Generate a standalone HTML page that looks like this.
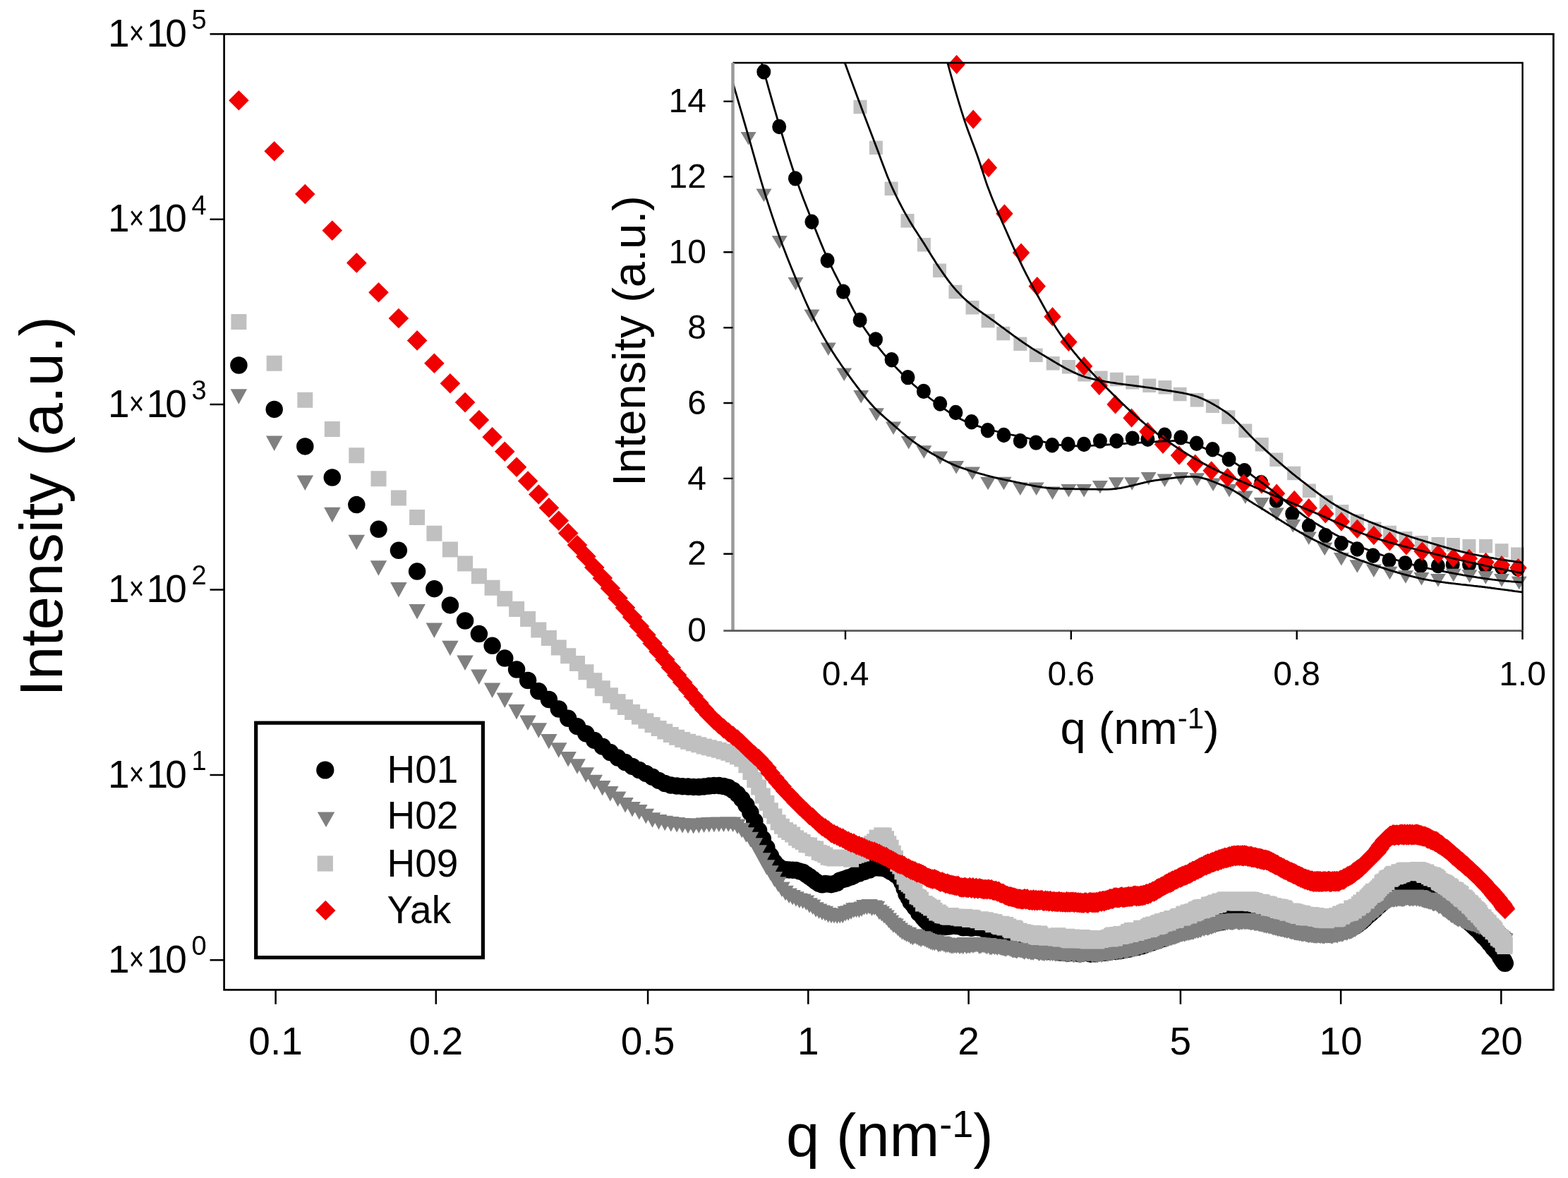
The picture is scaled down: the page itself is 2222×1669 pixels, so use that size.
<!DOCTYPE html><html><head><meta charset="utf-8"><style>html,body{margin:0;padding:0;background:#fff;}svg{display:block}</style></head><body><svg width="2222" height="1669" viewBox="0 0 2222 1669">
<rect width="2222" height="1669" fill="#fff"/>
<defs><clipPath id="cm"><rect x="317.6" y="48.3" width="1883.8000000000002" height="1354.1000000000001"/></clipPath><clipPath id="ci"><rect x="1038.5" y="89" width="1119" height="805"/></clipPath></defs>
<g clip-path="url(#cm)">
<path d="M338.4 517.5h0M388.7 579.9h0M432.3 632.4h0M470.8 676.5h0M505.3 715.1h0M536.5 749.8h0M564.9 779.8h0M591.1 809.6h0M615.4 834.2h0M637.9 857.4h0M659.1 879.5h0M678.9 898.1h0M697.6 914.8h0M715.3 932.6h0M732.1 948.5h0M748.1 964h0M763.3 979.3h0M777.9 991h0M791.8 1004.5h0M805.2 1017.8h0M818 1029.2h0M830.4 1039.4h0M842.3 1048.9h0M853.8 1057.7h0M864.9 1066.1h0M875.6 1073.6h0M886 1080.1h0M896.1 1085.9h0M905.9 1091.1h0M915.4 1095.9h0M924.6 1100.8h0M933.6 1105.9h0M942.3 1110.1h0M950.8 1112.6h0M959.1 1113.5h0M967.2 1114.2h0M975.1 1114.6h0M982.8 1114.9h0M990.3 1115h0M997.7 1114.4h0M1004.9 1113.5h0M1011.9 1112.9h0M1018.8 1113h0M1025.6 1114h0M1032.2 1115.8h0M1038.7 1119.7h0M1045.1 1125.1h0M1051.3 1132.2h0M1057.4 1140.7h0M1063.4 1151.3h0M1069.3 1163.5h0M1075.1 1176.6h0M1080.8 1188.4h0M1086.4 1200.9h0M1091.9 1212.3h0M1097.4 1221.6h0M1102.7 1227.5h0M1107.9 1230.7h0M1113.1 1232.1h0M1118.2 1232.4h0M1123.2 1232.7h0M1128.1 1232.9h0M1133 1234.4h0M1137.7 1235.7h0M1142.4 1238.9h0M1147.1 1242h0M1151.7 1245.4h0M1156.2 1248.9h0M1160.7 1251.9h0M1165.1 1253.3h0M1169.4 1251.9h0M1173.7 1252.5h0M1177.9 1253.2h0M1182.1 1252.1h0M1186.2 1250.8h0M1190.3 1247.4h0M1194.3 1246.2h0M1198.3 1245h0M1202.2 1243.5h0M1206.1 1242.4h0M1209.9 1240.5h0M1213.7 1238.1h0M1217.4 1237.6h0M1221.1 1234.9h0M1224.8 1234.9h0M1228.4 1231.9h0M1232 1232.6h0M1235.5 1230h0M1239.1 1229.5h0M1242.5 1228.7h0M1246 1229.5h0M1249.3 1228.8h0M1252.7 1230.4h0M1256 1230.9h0M1259.3 1233.1h0M1262.6 1235.1h0M1265.8 1235.8h0M1269 1239h0M1272.2 1240.6h0M1275.3 1244.6h0M1278.4 1250.4h0M1281.5 1258.7h0M1284.5 1266.9h0M1287.6 1272.1h0M1290.6 1277.9h0M1293.5 1281.1h0M1296.5 1285.5h0M1299.4 1288h0M1302.3 1293.9h0M1305.1 1295.6h0M1308 1300.1h0M1310.8 1303.3h0M1313.6 1305.9h0M1316.3 1308.8h0M1319.1 1309.9h0M1321.8 1309.2h0M1324.5 1310.8h0M1327.2 1311.5h0M1329.8 1312.5h0M1332.5 1312h0M1335.1 1312.5h0M1337.7 1313.3h0M1340.2 1313.1h0M1342.8 1312.1h0M1345.3 1312.4h0M1347.8 1312.2h0M1350.3 1311.4h0M1352.8 1311.7h0M1355.2 1312h0M1357.7 1312.2h0M1360.1 1312.2h0M1362.5 1313.1h0M1364.9 1314.3h0M1367.2 1313.8h0M1369.6 1314h0M1371.9 1314h0M1374.2 1313.7h0M1376.5 1314.8h0M1378.8 1314.3h0M1381.1 1313.9h0M1383.3 1312.8h0M1385.6 1314.2h0M1387.8 1313.6h0M1390 1313.6h0M1392.2 1315h0M1394.4 1316.1h0M1396.5 1314.9h0M1398.7 1316.6h0M1400.8 1316.2h0M1403 1315.5h0M1405.1 1318.6h0M1407.2 1317.7h0M1409.2 1318.2h0M1411.3 1320.9h0M1413.4 1319.7h0M1415.4 1322.7h0M1417.4 1322.3h0M1419.4 1324.1h0M1421.5 1324.9h0M1423.4 1328h0M1425.4 1327.9h0M1427.4 1331h0M1429.3 1331.2h0M1431.3 1332.6h0M1433.2 1333.3h0M1435.1 1333.8h0M1437.1 1335.1h0M1439 1337.8h0M1440.8 1336.5h0M1442.7 1339.7h0M1444.6 1339.7h0M1446.5 1339.1h0M1448.3 1340.5h0M1450.1 1340.2h0M1452 1340.6h0M1453.8 1341.5h0M1455.6 1340.4h0M1457.4 1342.3h0M1459.2 1344.1h0M1460.9 1342.5h0M1462.7 1344.2h0M1464.5 1343.7h0M1466.2 1343.3h0M1468 1345.8h0M1469.7 1343.4h0M1471.4 1344.6h0M1473.1 1347h0M1474.8 1345.1h0M1476.5 1347.1h0M1478.2 1346.6h0M1479.9 1347.5h0M1481.5 1347.2h0M1483.2 1346.6h0M1484.8 1348h0M1486.5 1345.9h0M1488.1 1347.4h0M1489.8 1347.3h0M1491.4 1347.7h0M1493 1346.8h0M1494.6 1347.2h0M1496.2 1348.3h0M1497.8 1347.9h0M1499.3 1349.2h0M1500.9 1348.7h0M1502.5 1349.6h0M1504 1349.3h0M1505.6 1349h0M1507.1 1348.1h0M1508.7 1349.7h0M1510.2 1348.2h0M1511.7 1347.7h0M1513.2 1350.5h0M1514.7 1349.3h0M1516.2 1350h0M1517.7 1349.4h0M1519.2 1349.7h0M1520.7 1348h0M1522.2 1348.5h0M1523.6 1350h0M1525.1 1349.8h0M1526.5 1348.6h0M1528 1351h0M1529.4 1348.7h0M1530.9 1349.8h0M1532.3 1348.7h0M1533.7 1350.5h0M1535.1 1349.2h0M1536.5 1348.8h0M1537.9 1348.6h0M1539.3 1349h0M1540.7 1349h0M1542.1 1350.1h0M1543.5 1349.8h0M1544.9 1351.4h0M1546.2 1351.4h0M1547.6 1350.9h0M1549 1350.5h0M1550.3 1351h0M1551.7 1351.3h0M1553 1348.5h0M1554.3 1348.7h0M1555.7 1349.4h0M1557 1348.5h0M1558.3 1349.9h0M1559.6 1348.8h0M1560.9 1348.7h0M1562.2 1348.7h0M1563.5 1348h0M1564.8 1349.8h0M1566.1 1349.4h0M1567.4 1349.1h0M1568.7 1347.2h0M1569.9 1348.2h0M1571.2 1348.8h0M1572.5 1347.1h0M1573.7 1347.6h0M1575 1346.3h0M1576.2 1346.3h0M1577.5 1346.5h0M1578.7 1346.9h0M1580 1346.9h0M1581.2 1347.9h0M1582.4 1346h0M1583.6 1344.9h0M1584.9 1347.1h0M1586.1 1344.6h0M1587.3 1344.5h0M1588.5 1346.9h0M1589.7 1346h0M1590.9 1344.6h0M1592.1 1343.7h0M1593.2 1344.3h0M1594.4 1343.9h0M1595.6 1345.3h0M1596.8 1343.7h0M1597.9 1342.5h0M1599.1 1344.8h0M1600.3 1343.7h0M1601.4 1342h0M1602.6 1341.7h0M1603.7 1342.6h0M1604.9 1341.2h0M1606 1342.6h0M1607.1 1342.3h0M1608.3 1340.3h0M1609.4 1342.3h0M1610.5 1342h0M1611.6 1342.1h0M1612.8 1341h0M1613.9 1340.8h0M1615 1338.9h0M1616.1 1338.1h0M1617.2 1337.9h0M1618.3 1340.3h0M1619.4 1339h0M1620.5 1339.6h0M1621.6 1337.4h0M1622.6 1338.3h0M1623.7 1335.9h0M1624.8 1335.8h0M1625.9 1335.8h0M1626.9 1336.2h0M1628 1335.9h0M1629.1 1335.4h0M1630.1 1334.8h0M1631.2 1334.8h0M1632.2 1335.6h0M1633.3 1333.8h0M1634.3 1334.5h0M1635.4 1331.8h0M1636.4 1332.4h0M1637.4 1332.6h0M1638.5 1332.4h0M1639.5 1330.9h0M1640.5 1331h0M1641.6 1332.3h0M1642.6 1331h0M1643.6 1330.4h0M1644.6 1328.5h0M1645.6 1328.1h0M1646.6 1328.3h0M1647.6 1327.7h0M1648.6 1329.9h0M1649.6 1326.6h0M1650.6 1327.4h0M1651.6 1326.1h0M1652.6 1327.5h0M1653.6 1325.4h0M1654.6 1325.2h0M1655.6 1324.9h0M1656.5 1325.1h0M1657.5 1325.8h0M1658.5 1326.1h0M1659.4 1324.2h0M1660.4 1323.9h0M1661.4 1325.2h0M1662.3 1324.7h0M1663.3 1322.5h0M1664.2 1324.2h0M1665.2 1323.9h0M1666.1 1321.7h0M1667.1 1322.7h0M1668 1321.1h0M1669 1320.9h0M1669.9 1321.3h0M1670.8 1321h0M1671.8 1320.6h0M1672.7 1320.4h0M1673.6 1319.1h0M1674.6 1320.5h0M1675.5 1318.7h0M1676.4 1320.2h0M1677.3 1318.7h0M1678.2 1317.8h0M1679.1 1317.1h0M1680 1317.7h0M1681 1317h0M1681.9 1317.5h0M1682.8 1316.8h0M1683.7 1315.1h0M1684.6 1317.2h0M1685.5 1314.5h0M1686.3 1316.5h0M1687.2 1316.2h0M1688.1 1316.2h0M1689 1315.2h0M1689.9 1313.4h0M1690.8 1313.9h0M1691.6 1313.6h0M1692.5 1313.9h0M1693.4 1312.9h0M1694.3 1313.5h0M1695.1 1311.9h0M1696 1312.1h0M1696.9 1312.4h0M1697.7 1311.8h0M1698.6 1310.6h0M1699.4 1312.9h0M1700.3 1311.8h0M1701.1 1312h0M1702 1310.4h0M1702.8 1311.9h0M1703.7 1311.3h0M1704.5 1311.6h0M1705.4 1309.1h0M1706.2 1309.7h0M1707.1 1309.3h0M1707.9 1309.8h0M1708.7 1308.5h0M1709.6 1307.9h0M1710.4 1308.9h0M1711.2 1309.2h0M1712 1308.3h0M1712.9 1309.9h0M1713.7 1308h0M1714.5 1307.5h0M1715.3 1308.9h0M1716.1 1307.7h0M1716.9 1306.9h0M1717.7 1306.8h0M1718.6 1308.6h0M1719.4 1308.5h0M1720.2 1307.4h0M1721 1306.2h0M1721.8 1307.3h0M1722.6 1305.7h0M1723.4 1305.8h0M1724.2 1306.3h0M1724.9 1305.7h0M1725.7 1305.4h0M1726.5 1307.2h0M1727.3 1304.6h0M1728.1 1305.8h0M1728.9 1303.9h0M1729.7 1303.9h0M1730.4 1304.1h0M1731.2 1306.3h0M1732 1305.4h0M1732.8 1305.7h0M1733.5 1303.1h0M1734.3 1304.9h0M1735.1 1304h0M1735.8 1303.8h0M1736.6 1304.5h0M1737.4 1303.2h0M1738.1 1303.7h0M1738.9 1302.8h0M1739.7 1303.1h0M1740.4 1303.4h0M1741.2 1302.2h0M1741.9 1302.4h0M1742.7 1302.7h0M1743.4 1302.8h0M1744.2 1303.7h0M1744.9 1303.1h0M1745.7 1302.8h0M1746.4 1303.6h0M1747.1 1301.5h0M1747.9 1301.1h0M1748.6 1301.9h0M1749.4 1301h0M1750.1 1302.2h0M1750.8 1302.2h0M1751.5 1300.8h0M1752.3 1302.5h0M1753 1301.9h0M1753.7 1301.5h0M1754.5 1302.9h0M1755.2 1302.7h0M1755.9 1300.7h0M1756.6 1300.5h0M1757.3 1302.7h0M1758.1 1300.4h0M1758.8 1302.1h0M1759.5 1300.8h0M1760.2 1300.9h0M1760.9 1301.4h0M1761.6 1302.5h0M1762.3 1299.7h0M1763 1300.2h0M1763.7 1301.9h0M1764.4 1300.9h0M1765.1 1300.6h0M1765.8 1302.6h0M1766.5 1300.5h0M1767.2 1301.9h0M1767.9 1302.7h0M1768.6 1302.1h0M1769.3 1302h0M1770 1302.1h0M1770.7 1302.4h0M1771.4 1300.9h0M1772.1 1302h0M1772.7 1302.6h0M1773.4 1303h0M1774.1 1303.1h0M1774.8 1303.2h0M1775.5 1300.9h0M1776.2 1301.9h0M1776.8 1302.2h0M1777.5 1303.7h0M1778.2 1302.4h0M1778.9 1302.1h0M1779.5 1301.5h0M1780.2 1302.4h0M1780.9 1304.1h0M1781.5 1301.9h0M1782.2 1302.5h0M1782.9 1303.1h0M1783.5 1303.9h0M1784.2 1303.6h0M1784.8 1305.3h0M1785.5 1303.5h0M1786.2 1304.7h0M1786.8 1305.5h0M1787.5 1306.2h0M1788.1 1306.2h0M1788.8 1304.2h0M1789.4 1306.3h0M1790.1 1306.2h0M1790.7 1305.6h0M1791.4 1304.6h0M1792 1305.2h0M1792.7 1307.1h0M1793.3 1305.3h0M1793.9 1306.2h0M1794.6 1306.2h0M1795.2 1307.9h0M1795.9 1306.9h0M1796.5 1306.3h0M1797.1 1307.3h0M1797.8 1307.3h0M1798.4 1308.7h0M1799 1307.7h0M1799.7 1309h0M1800.3 1308.7h0M1800.9 1309.9h0M1801.6 1309.6h0M1802.2 1308.8h0M1802.8 1309.2h0M1803.4 1309.3h0M1804.1 1310.7h0M1804.7 1308.7h0M1805.3 1309.7h0M1805.9 1310.2h0M1806.5 1310h0M1807.1 1310.7h0M1807.8 1310.5h0M1808.4 1310.4h0M1809 1311.3h0M1809.6 1310.4h0M1810.2 1311.4h0M1810.8 1311.9h0M1811.4 1310.2h0M1812 1310.9h0M1812.6 1312.9h0M1813.2 1313.1h0M1813.9 1313.3h0M1814.5 1310.6h0M1815.1 1313.1h0M1815.7 1313.5h0M1816.3 1313.6h0M1816.9 1313.1h0M1817.5 1313.2h0M1818.1 1313.4h0M1818.6 1313.1h0M1819.2 1313.9h0M1819.8 1313.2h0M1820.4 1312.5h0M1821 1312.2h0M1821.6 1314.8h0M1822.2 1314.5h0M1822.8 1312.9h0M1823.4 1315h0M1824 1313.5h0M1824.5 1314.7h0M1825.1 1314h0M1825.7 1313.7h0M1826.3 1313.7h0M1826.9 1313.5h0M1827.5 1313.7h0M1828 1313.8h0M1828.6 1314h0M1829.2 1316.3h0M1829.8 1315.5h0M1830.3 1314.5h0M1830.9 1315.8h0M1831.5 1316h0M1832.1 1316h0M1832.6 1315.2h0M1833.2 1316h0M1833.8 1317.5h0M1834.3 1316.1h0M1834.9 1316.6h0M1835.5 1318h0M1836 1316.1h0M1836.6 1317.7h0M1837.2 1317h0M1837.7 1318.1h0M1838.3 1316.9h0M1838.8 1317.6h0M1839.4 1317.2h0M1840 1318.8h0M1840.5 1319h0M1841.1 1318.3h0M1841.6 1319.4h0M1842.2 1318.8h0M1842.7 1319.2h0M1843.3 1319.5h0M1843.8 1317.7h0M1844.4 1319.9h0M1844.9 1318.3h0M1845.5 1318.7h0M1846 1317.8h0M1846.6 1319.8h0M1847.1 1318.5h0M1847.7 1319.6h0M1848.2 1318.3h0M1848.7 1318.8h0M1849.3 1318.9h0M1849.8 1318.6h0M1850.4 1318h0M1850.9 1320.3h0M1851.5 1320.9h0M1852 1318.8h0M1852.5 1318.7h0M1853.1 1319.3h0M1853.6 1318.6h0M1854.1 1320.4h0M1854.7 1319.6h0M1855.2 1320.2h0M1855.7 1321.3h0M1856.3 1321.2h0M1856.8 1321.5h0M1857.3 1321.5h0M1857.8 1320.6h0M1858.4 1320.4h0M1858.9 1319h0M1859.4 1319.3h0M1860 1320.6h0M1860.5 1321.6h0M1861 1320.4h0M1861.5 1319.2h0M1862 1319.9h0M1862.6 1321.6h0M1863.1 1319.8h0M1863.6 1320h0M1864.1 1320.3h0M1864.6 1321.3h0M1865.2 1322.1h0M1865.7 1320.3h0M1866.2 1321.4h0M1866.7 1321.3h0M1867.2 1321.1h0M1867.7 1321.5h0M1868.2 1322.3h0M1868.7 1320.5h0M1869.3 1321.4h0M1869.8 1320.2h0M1870.3 1321.5h0M1870.8 1322.4h0M1871.3 1323.1h0M1871.8 1321.5h0M1872.3 1321h0M1872.8 1321.9h0M1873.3 1321.3h0M1873.8 1320.6h0M1874.3 1321.8h0M1874.8 1322.7h0M1875.3 1323h0M1875.8 1323.3h0M1876.8 1321.1h0M1877.8 1321.7h0M1878.8 1321.2h0M1879.8 1322.6h0M1880.8 1322.4h0M1881.8 1323.3h0M1882.7 1323h0M1883.7 1321.2h0M1884.7 1323.3h0M1885.7 1321.2h0M1886.6 1320.7h0M1887.6 1321.2h0M1888.6 1321.8h0M1889.5 1321.2h0M1890.5 1322.2h0M1891.4 1320.9h0M1892.4 1320.7h0M1893.3 1321.1h0M1894.3 1321.4h0M1895.2 1319.4h0M1896.2 1320.6h0M1897.1 1318.7h0M1898 1319.3h0M1899 1318.7h0M1899.9 1320.3h0M1900.8 1318.1h0M1901.7 1316.9h0M1902.7 1316.6h0M1903.6 1317.2h0M1904.5 1318.2h0M1905.4 1317.8h0M1906.3 1316.1h0M1907.2 1315.4h0M1908.1 1317.1h0M1909.1 1315.5h0M1910 1316.4h0M1910.9 1315.6h0M1911.7 1313.3h0M1912.6 1315h0M1913.5 1312.9h0M1914.4 1314.4h0M1915.3 1312.6h0M1916.2 1312.6h0M1917.1 1312.5h0M1918 1312.3h0M1918.8 1312h0M1919.7 1310.1h0M1920.6 1311.7h0M1921.5 1311.5h0M1922.3 1310.4h0M1923.2 1308.5h0M1924.1 1309.9h0M1924.9 1309h0M1925.8 1308.3h0M1926.6 1307.7h0M1927.5 1305.9h0M1928.3 1304.1h0M1929.2 1306.1h0M1930 1302.9h0M1930.9 1302.6h0M1931.7 1303.7h0M1932.6 1300.3h0M1933.4 1302.3h0M1934.2 1299.9h0M1935.1 1298.9h0M1935.9 1297.8h0M1936.7 1298.9h0M1937.6 1296.5h0M1938.4 1296.1h0M1939.2 1295.4h0M1940 1295.7h0M1940.9 1295.4h0M1941.7 1292h0M1942.5 1294h0M1943.3 1290.4h0M1944.1 1291.4h0M1944.9 1290.4h0M1945.7 1291h0M1946.6 1289h0M1947.4 1289.4h0M1948.2 1289.1h0M1949 1286.8h0M1949.8 1285.2h0M1950.6 1285.3h0M1951.3 1284h0M1952.1 1284.7h0M1952.9 1284.3h0M1953.7 1283.5h0M1954.5 1280.8h0M1955.3 1282.2h0M1956.1 1281.5h0M1956.9 1280.9h0M1957.6 1279.2h0M1958.4 1277.7h0M1959.2 1276.6h0M1960 1277.3h0M1960.7 1275.9h0M1961.5 1276.9h0M1962.3 1274.8h0M1963 1275.6h0M1963.8 1272.9h0M1964.6 1272.5h0M1965.3 1272.2h0M1966.1 1271.8h0M1966.8 1270.6h0M1967.6 1270.3h0M1968.4 1270.1h0M1969.1 1269.2h0M1969.9 1270.2h0M1970.6 1267.3h0M1971.4 1267.4h0M1972.1 1268h0M1972.9 1266.8h0M1973.6 1267.4h0M1974.3 1265.8h0M1975.1 1266.5h0M1975.8 1264.9h0M1976.5 1267.2h0M1977.3 1266.5h0M1978 1266.7h0M1978.7 1265.8h0M1979.5 1265h0M1980.2 1264h0M1980.9 1264.1h0M1981.7 1262.6h0M1982.4 1263.1h0M1983.1 1262.7h0M1983.8 1264.9h0M1984.5 1264.5h0M1985.2 1261.9h0M1986 1262.5h0M1986.7 1262.1h0M1987.4 1262.4h0M1988.1 1263.1h0M1988.8 1261.2h0M1989.5 1262.2h0M1990.2 1261.3h0M1990.9 1261.4h0M1991.6 1261.7h0M1992.3 1262.7h0M1993 1262.6h0M1993.7 1261.5h0M1994.4 1261.2h0M1995.1 1261.6h0M1995.8 1260.5h0M1996.5 1260.4h0M1997.2 1259.2h0M1997.9 1261.7h0M1998.6 1259.8h0M1999.3 1261h0M1999.9 1261.1h0M2000.6 1259.3h0M2001.3 1260.1h0M2002 1259.2h0M2002.7 1260.8h0M2003.3 1260.8h0M2004 1261.4h0M2004.7 1260h0M2005.4 1259.3h0M2006 1261.5h0M2006.7 1260.2h0M2007.4 1260.5h0M2008.1 1259.4h0M2008.7 1260.7h0M2009.4 1259.1h0M2010 1261.6h0M2010.7 1260.1h0M2011.4 1260h0M2012 1261.7h0M2012.7 1260.9h0M2013.4 1260.7h0M2014 1260.1h0M2014.7 1262.7h0M2015.3 1262.7h0M2016 1261.8h0M2016.6 1262.5h0M2017.3 1261.9h0M2017.9 1262.8h0M2018.6 1263h0M2019.2 1263.1h0M2019.9 1262h0M2020.5 1262.3h0M2021.1 1263.5h0M2021.8 1264.8h0M2022.4 1263.2h0M2023.1 1262.3h0M2023.7 1264.7h0M2024.3 1263.7h0M2025 1263.9h0M2025.6 1265.7h0M2026.2 1265.8h0M2026.9 1264.1h0M2027.5 1265.1h0M2028.1 1266.1h0M2028.7 1265.8h0M2029.4 1267.2h0M2030 1267.2h0M2030.6 1267.5h0M2031.2 1266.2h0M2031.9 1267.7h0M2032.5 1267.9h0M2033.1 1268.2h0M2033.7 1267.6h0M2034.3 1267h0M2035 1267.2h0M2035.6 1269.3h0M2036.2 1269.1h0M2036.8 1267.9h0M2037.4 1268.1h0M2038 1270h0M2038.6 1269.3h0M2039.2 1270.4h0M2039.8 1271.4h0M2040.4 1271.3h0M2041 1272.8h0M2041.7 1272.3h0M2042.3 1273.1h0M2042.9 1272.3h0M2043.5 1274.1h0M2044.1 1273h0M2044.7 1274.4h0M2045.2 1275.5h0M2045.8 1274.8h0M2046.4 1277h0M2047 1276.7h0M2047.6 1275.7h0M2048.2 1275.9h0M2048.8 1278.1h0M2049.4 1278.4h0M2050 1279.3h0M2050.6 1280.2h0M2051.2 1279.2h0M2051.7 1279.1h0M2052.3 1279.7h0M2052.9 1280.3h0M2053.5 1280.9h0M2054.1 1281h0M2054.6 1283.5h0M2055.2 1281.8h0M2055.8 1283.1h0M2056.4 1284.3h0M2057 1285.2h0M2057.5 1284h0M2058.1 1285.2h0M2058.7 1286.3h0M2059.2 1287.1h0M2059.8 1286.9h0M2060.4 1287.8h0M2061 1287.8h0M2061.5 1287.4h0M2062.1 1288.5h0M2062.7 1288.9h0M2063.2 1290.2h0M2063.8 1288.8h0M2064.3 1291h0M2064.9 1292.5h0M2065.5 1291.5h0M2066 1291h0M2066.6 1293h0M2067.1 1293.8h0M2067.7 1292h0M2068.3 1294.1h0M2068.8 1295.4h0M2069.4 1296.2h0M2069.9 1295.1h0M2070.5 1296.3h0M2071 1297.4h0M2071.6 1295.7h0M2072.1 1297.3h0M2072.7 1297.2h0M2073.2 1298.1h0M2073.8 1299.5h0M2074.3 1297.7h0M2074.9 1299.7h0M2075.4 1299.6h0M2075.9 1298.9h0M2076.5 1299.5h0M2077 1301.4h0M2077.6 1303h0M2078.1 1302.1h0M2078.6 1301.7h0M2079.2 1302h0M2079.7 1304.4h0M2080.3 1302.6h0M2080.8 1304h0M2081.3 1304.1h0M2081.9 1305h0M2082.4 1306.2h0M2082.9 1307.7h0M2083.5 1306.9h0M2084 1307.5h0M2084.5 1309.2h0M2085 1308.5h0M2085.6 1309.7h0M2086.1 1309.8h0M2086.6 1310.3h0M2087.1 1311.4h0M2087.7 1310.9h0M2088.2 1310.3h0M2088.7 1312.9h0M2089.2 1312.4h0M2089.8 1313.4h0M2090.3 1313.3h0M2090.8 1314.9h0M2091.3 1314.2h0M2091.8 1315h0M2092.4 1316.3h0M2092.9 1314.8h0M2093.4 1316.1h0M2093.9 1316.1h0M2094.4 1315.9h0M2094.9 1317.2h0M2095.4 1318.2h0M2095.9 1318.3h0M2096.5 1318.9h0M2097 1320.7h0M2097.5 1319.4h0M2098 1320.5h0M2098.5 1322.2h0M2099 1323.1h0M2099.5 1322.8h0M2100 1323.5h0M2100.5 1323h0M2101 1325.4h0M2101.5 1324.3h0M2102 1326h0M2102.5 1327.1h0M2103 1326.1h0M2103.8 1325.9h0M2104.5 1326.6h0M2105.3 1329.3h0M2106 1330h0M2106.7 1330.4h0M2107.5 1331.2h0M2108.2 1332.8h0M2109 1332.1h0M2109.7 1333.5h0M2110.4 1334.6h0M2111.2 1336.7h0M2111.9 1335.5h0M2112.6 1336.4h0M2113.3 1338.6h0M2114.1 1339.6h0M2114.8 1340.7h0M2115.5 1339.9h0M2116.2 1343.1h0M2117 1342.6h0M2117.7 1342.9h0M2118.4 1343.8h0M2119.1 1346h0M2119.8 1345h0M2120.5 1347.6h0M2121.2 1347.9h0M2121.9 1348.8h0M2122.7 1348.9h0M2123.4 1350.8h0M2124.1 1352h0M2124.8 1351.6h0M2125.5 1353.4h0M2126.2 1356h0M2126.9 1355.7h0M2127.6 1356.5h0M2128.3 1359.2h0M2128.9 1359.3h0M2129.6 1360.1h0M2130.3 1362.2h0M2131 1360.8h0M2131.7 1362.6h0M2132.4 1364.8h0M2132.8 1364.8h0" stroke="#000" stroke-width="24.5" stroke-linecap="round" fill="none"/>
<path d="M326.6 551.3h23.5l-11.8 21.5zM377 617.5h23.5l-11.8 21.5zM420.6 673.4h23.5l-11.8 21.5zM459.1 718.7h23.5l-11.8 21.5zM493.5 757.8h23.5l-11.8 21.5zM524.7 794.3h23.5l-11.8 21.5zM553.2 824.9h23.5l-11.8 21.5zM579.4 856.1h23.5l-11.8 21.5zM603.6 882.6h23.5l-11.8 21.5zM626.2 907.7h23.5l-11.8 21.5zM647.3 928.6h23.5l-11.8 21.5zM667.1 948.5h23.5l-11.8 21.5zM685.9 967.4h23.5l-11.8 21.5zM703.6 981.5h23.5l-11.8 21.5zM720.3 997.9h23.5l-11.8 21.5zM736.3 1013.6h23.5l-11.8 21.5zM751.6 1024.2h23.5l-11.8 21.5zM766.1 1039.9h23.5l-11.8 21.5zM780 1052.3h23.5l-11.8 21.5zM793.4 1064.9h23.5l-11.8 21.5zM806.3 1075.2h23.5l-11.8 21.5zM818.6 1087.2h23.5l-11.8 21.5zM830.5 1097.8h23.5l-11.8 21.5zM842 1105.9h23.5l-11.8 21.5zM853.1 1114.1h23.5l-11.8 21.5zM863.9 1121.5h23.5l-11.8 21.5zM874.3 1130.1h23.5l-11.8 21.5zM884.3 1136.1h23.5l-11.8 21.5zM894.1 1140.1h23.5l-11.8 21.5zM903.6 1145.8h23.5l-11.8 21.5zM912.8 1151.3h23.5l-11.8 21.5zM921.8 1153.9h23.5l-11.8 21.5zM930.5 1155.7h23.5l-11.8 21.5zM939.1 1157h23.5l-11.8 21.5zM947.4 1158.1h23.5l-11.8 21.5zM955.4 1159.1h23.5l-11.8 21.5zM963.3 1159.8h23.5l-11.8 21.5zM971 1159.9h23.5l-11.8 21.5zM978.6 1159.2h23.5l-11.8 21.5zM985.9 1158.4h23.5l-11.8 21.5zM993.1 1158.1h23.5l-11.8 21.5zM1000.2 1157.8h23.5l-11.8 21.5zM1007.1 1157.6h23.5l-11.8 21.5zM1013.8 1157.4h23.5l-11.8 21.5zM1020.5 1157.3h23.5l-11.8 21.5zM1026.9 1157.5h23.5l-11.8 21.5zM1033.3 1160.6h23.5l-11.8 21.5zM1039.5 1165.8h23.5l-11.8 21.5zM1045.7 1172.2h23.5l-11.8 21.5zM1051.7 1178.8h23.5l-11.8 21.5zM1057.6 1187.3h23.5l-11.8 21.5zM1063.4 1197.2h23.5l-11.8 21.5zM1069.1 1208.2h23.5l-11.8 21.5zM1074.7 1218.3h23.5l-11.8 21.5zM1080.2 1226.3h23.5l-11.8 21.5zM1085.6 1234.9h23.5l-11.8 21.5zM1090.9 1242.3h23.5l-11.8 21.5zM1096.2 1249.4h23.5l-11.8 21.5zM1101.3 1254.7h23.5l-11.8 21.5zM1106.4 1258.4h23.5l-11.8 21.5zM1111.4 1261.1h23.5l-11.8 21.5zM1116.3 1263.2h23.5l-11.8 21.5zM1121.2 1265.5h23.5l-11.8 21.5zM1126 1266.6h23.5l-11.8 21.5zM1130.7 1268.5h23.5l-11.8 21.5zM1135.3 1272.3h23.5l-11.8 21.5zM1139.9 1274.5h23.5l-11.8 21.5zM1144.4 1278.2h23.5l-11.8 21.5zM1148.9 1280.5h23.5l-11.8 21.5zM1153.3 1282.4h23.5l-11.8 21.5zM1157.6 1283.8h23.5l-11.8 21.5zM1161.9 1286h23.5l-11.8 21.5zM1166.2 1286.8h23.5l-11.8 21.5zM1170.3 1287.1h23.5l-11.8 21.5zM1174.5 1287.5h23.5l-11.8 21.5zM1178.5 1286.9h23.5l-11.8 21.5zM1182.5 1286.7h23.5l-11.8 21.5zM1186.5 1283.9h23.5l-11.8 21.5zM1190.4 1283.3h23.5l-11.8 21.5zM1194.3 1281.6h23.5l-11.8 21.5zM1198.2 1279.3h23.5l-11.8 21.5zM1201.9 1278.7h23.5l-11.8 21.5zM1205.7 1278.9h23.5l-11.8 21.5zM1209.4 1277.5h23.5l-11.8 21.5zM1213.1 1274.9h23.5l-11.8 21.5zM1216.7 1274.9h23.5l-11.8 21.5zM1220.3 1274.1h23.5l-11.8 21.5zM1223.8 1276.5h23.5l-11.8 21.5zM1227.3 1275.6h23.5l-11.8 21.5zM1230.8 1276.8h23.5l-11.8 21.5zM1234.2 1281.8h23.5l-11.8 21.5zM1237.6 1284h23.5l-11.8 21.5zM1241 1287.1h23.5l-11.8 21.5zM1244.3 1289.5h23.5l-11.8 21.5zM1247.6 1293.5h23.5l-11.8 21.5zM1250.8 1296.7h23.5l-11.8 21.5zM1254.1 1300.2h23.5l-11.8 21.5zM1257.3 1301.6h23.5l-11.8 21.5zM1260.4 1304.7h23.5l-11.8 21.5zM1263.6 1307.4h23.5l-11.8 21.5zM1266.7 1310.2h23.5l-11.8 21.5zM1269.8 1311.4h23.5l-11.8 21.5zM1272.8 1313.6h23.5l-11.8 21.5zM1275.8 1313.9h23.5l-11.8 21.5zM1278.8 1316.8h23.5l-11.8 21.5zM1281.8 1318h23.5l-11.8 21.5zM1284.7 1316.2h23.5l-11.8 21.5zM1287.6 1317.5h23.5l-11.8 21.5zM1290.5 1319.3h23.5l-11.8 21.5zM1293.4 1320.7h23.5l-11.8 21.5zM1296.2 1319.3h23.5l-11.8 21.5zM1299 1320.4h23.5l-11.8 21.5zM1301.8 1321.9h23.5l-11.8 21.5zM1304.6 1323.3h23.5l-11.8 21.5zM1307.3 1324.7h23.5l-11.8 21.5zM1310 1325.4h23.5l-11.8 21.5zM1312.7 1325.9h23.5l-11.8 21.5zM1315.4 1324.4h23.5l-11.8 21.5zM1318.1 1327.9h23.5l-11.8 21.5zM1320.7 1327.4h23.5l-11.8 21.5zM1323.3 1326.4h23.5l-11.8 21.5zM1325.9 1327.4h23.5l-11.8 21.5zM1328.5 1329h23.5l-11.8 21.5zM1331 1328.6h23.5l-11.8 21.5zM1333.6 1329h23.5l-11.8 21.5zM1336.1 1330.2h23.5l-11.8 21.5zM1338.6 1330.2h23.5l-11.8 21.5zM1341 1329.4h23.5l-11.8 21.5zM1343.5 1330.1h23.5l-11.8 21.5zM1345.9 1329h23.5l-11.8 21.5zM1348.3 1330.7h23.5l-11.8 21.5zM1350.7 1329.6h23.5l-11.8 21.5zM1353.1 1330.7h23.5l-11.8 21.5zM1355.5 1327.9h23.5l-11.8 21.5zM1357.8 1330.4h23.5l-11.8 21.5zM1360.2 1329.4h23.5l-11.8 21.5zM1362.5 1329.9h23.5l-11.8 21.5zM1364.8 1328.3h23.5l-11.8 21.5zM1367.1 1329.4h23.5l-11.8 21.5zM1369.3 1328.6h23.5l-11.8 21.5zM1371.6 1328.1h23.5l-11.8 21.5zM1373.8 1327.8h23.5l-11.8 21.5zM1376.1 1330.5h23.5l-11.8 21.5zM1378.3 1329.9h23.5l-11.8 21.5zM1380.5 1328.6h23.5l-11.8 21.5zM1382.6 1328.9h23.5l-11.8 21.5zM1384.8 1329.7h23.5l-11.8 21.5zM1386.9 1331h23.5l-11.8 21.5zM1389.1 1329.1h23.5l-11.8 21.5zM1391.2 1331.9h23.5l-11.8 21.5zM1393.3 1332.1h23.5l-11.8 21.5zM1395.4 1330.2h23.5l-11.8 21.5zM1397.5 1331.7h23.5l-11.8 21.5zM1399.6 1331.1h23.5l-11.8 21.5zM1401.6 1332.4h23.5l-11.8 21.5zM1403.6 1330.8h23.5l-11.8 21.5zM1405.7 1332.2h23.5l-11.8 21.5zM1407.7 1332.8h23.5l-11.8 21.5zM1409.7 1333.2h23.5l-11.8 21.5zM1411.7 1333.7h23.5l-11.8 21.5zM1413.7 1334.5h23.5l-11.8 21.5zM1415.6 1332.9h23.5l-11.8 21.5zM1417.6 1332.9h23.5l-11.8 21.5zM1419.5 1333.9h23.5l-11.8 21.5zM1421.5 1334.8h23.5l-11.8 21.5zM1423.4 1336.3h23.5l-11.8 21.5zM1425.3 1335.9h23.5l-11.8 21.5zM1427.2 1336.3h23.5l-11.8 21.5zM1429.1 1337.2h23.5l-11.8 21.5zM1431 1335.4h23.5l-11.8 21.5zM1432.8 1335.6h23.5l-11.8 21.5zM1434.7 1336.3h23.5l-11.8 21.5zM1436.5 1336.2h23.5l-11.8 21.5zM1438.4 1337.4h23.5l-11.8 21.5zM1440.2 1338.5h23.5l-11.8 21.5zM1442 1336.3h23.5l-11.8 21.5zM1443.8 1337.6h23.5l-11.8 21.5zM1445.6 1338.2h23.5l-11.8 21.5zM1447.4 1337.8h23.5l-11.8 21.5zM1449.2 1339.2h23.5l-11.8 21.5zM1451 1338.9h23.5l-11.8 21.5zM1452.7 1339.4h23.5l-11.8 21.5zM1454.5 1337.3h23.5l-11.8 21.5zM1456.2 1337.7h23.5l-11.8 21.5zM1457.9 1337.4h23.5l-11.8 21.5zM1459.7 1339.8h23.5l-11.8 21.5zM1461.4 1340.4h23.5l-11.8 21.5zM1463.1 1337.6h23.5l-11.8 21.5zM1464.8 1340.1h23.5l-11.8 21.5zM1466.4 1340h23.5l-11.8 21.5zM1468.1 1340.7h23.5l-11.8 21.5zM1469.8 1338.9h23.5l-11.8 21.5zM1471.4 1340.3h23.5l-11.8 21.5zM1473.1 1339h23.5l-11.8 21.5zM1474.7 1338.6h23.5l-11.8 21.5zM1476.4 1340.7h23.5l-11.8 21.5zM1478 1338.7h23.5l-11.8 21.5zM1479.6 1340.7h23.5l-11.8 21.5zM1481.2 1339.5h23.5l-11.8 21.5zM1482.8 1340.2h23.5l-11.8 21.5zM1484.4 1341.5h23.5l-11.8 21.5zM1486 1339.6h23.5l-11.8 21.5zM1487.6 1340.4h23.5l-11.8 21.5zM1489.2 1340.1h23.5l-11.8 21.5zM1490.7 1339.7h23.5l-11.8 21.5zM1492.3 1340.6h23.5l-11.8 21.5zM1493.8 1339.8h23.5l-11.8 21.5zM1495.4 1341.8h23.5l-11.8 21.5zM1496.9 1341.3h23.5l-11.8 21.5zM1498.4 1340.3h23.5l-11.8 21.5zM1500 1342.5h23.5l-11.8 21.5zM1501.5 1340.7h23.5l-11.8 21.5zM1503 1341.7h23.5l-11.8 21.5zM1504.5 1342h23.5l-11.8 21.5zM1506 1340.6h23.5l-11.8 21.5zM1507.5 1339.9h23.5l-11.8 21.5zM1508.9 1342.6h23.5l-11.8 21.5zM1510.4 1342.9h23.5l-11.8 21.5zM1511.9 1340.6h23.5l-11.8 21.5zM1513.3 1340.6h23.5l-11.8 21.5zM1514.8 1341.5h23.5l-11.8 21.5zM1516.2 1342h23.5l-11.8 21.5zM1517.7 1343.2h23.5l-11.8 21.5zM1519.1 1343.2h23.5l-11.8 21.5zM1520.5 1343.3h23.5l-11.8 21.5zM1522 1341.1h23.5l-11.8 21.5zM1523.4 1342.2h23.5l-11.8 21.5zM1524.8 1341.7h23.5l-11.8 21.5zM1526.2 1341.1h23.5l-11.8 21.5zM1527.6 1340.7h23.5l-11.8 21.5zM1529 1341h23.5l-11.8 21.5zM1530.4 1341.6h23.5l-11.8 21.5zM1531.8 1340.8h23.5l-11.8 21.5zM1533.1 1341h23.5l-11.8 21.5zM1534.5 1340.7h23.5l-11.8 21.5zM1535.9 1342.4h23.5l-11.8 21.5zM1537.2 1342h23.5l-11.8 21.5zM1538.6 1341.3h23.5l-11.8 21.5zM1539.9 1342.1h23.5l-11.8 21.5zM1541.3 1341.7h23.5l-11.8 21.5zM1542.6 1342.4h23.5l-11.8 21.5zM1543.9 1343.1h23.5l-11.8 21.5zM1545.2 1341.3h23.5l-11.8 21.5zM1546.6 1342.1h23.5l-11.8 21.5zM1547.9 1340.7h23.5l-11.8 21.5zM1549.2 1342.8h23.5l-11.8 21.5zM1550.5 1341.7h23.5l-11.8 21.5zM1551.8 1340.2h23.5l-11.8 21.5zM1553.1 1340.4h23.5l-11.8 21.5zM1554.4 1339.9h23.5l-11.8 21.5zM1555.6 1339.8h23.5l-11.8 21.5zM1556.9 1340.1h23.5l-11.8 21.5zM1558.2 1341.5h23.5l-11.8 21.5zM1559.5 1340.2h23.5l-11.8 21.5zM1560.7 1339.5h23.5l-11.8 21.5zM1562 1339.7h23.5l-11.8 21.5zM1563.2 1339.1h23.5l-11.8 21.5zM1564.5 1340.3h23.5l-11.8 21.5zM1565.7 1338.1h23.5l-11.8 21.5zM1567 1338.5h23.5l-11.8 21.5zM1568.2 1338.4h23.5l-11.8 21.5zM1569.4 1337.8h23.5l-11.8 21.5zM1570.7 1339.3h23.5l-11.8 21.5zM1571.9 1337.4h23.5l-11.8 21.5zM1573.1 1337.5h23.5l-11.8 21.5zM1574.3 1336.6h23.5l-11.8 21.5zM1575.5 1338.5h23.5l-11.8 21.5zM1576.7 1337.1h23.5l-11.8 21.5zM1577.9 1337.7h23.5l-11.8 21.5zM1579.1 1336.2h23.5l-11.8 21.5zM1580.3 1335.4h23.5l-11.8 21.5zM1581.5 1336h23.5l-11.8 21.5zM1582.7 1337.2h23.5l-11.8 21.5zM1583.8 1337.2h23.5l-11.8 21.5zM1585 1335.5h23.5l-11.8 21.5zM1586.2 1336.7h23.5l-11.8 21.5zM1587.4 1334.1h23.5l-11.8 21.5zM1588.5 1335.3h23.5l-11.8 21.5zM1589.7 1334.3h23.5l-11.8 21.5zM1590.8 1334.7h23.5l-11.8 21.5zM1592 1333.8h23.5l-11.8 21.5zM1593.1 1335.6h23.5l-11.8 21.5zM1594.3 1333.6h23.5l-11.8 21.5zM1595.4 1335.2h23.5l-11.8 21.5zM1596.5 1332.5h23.5l-11.8 21.5zM1597.6 1333.2h23.5l-11.8 21.5zM1598.8 1332.9h23.5l-11.8 21.5zM1599.9 1333.5h23.5l-11.8 21.5zM1601 1332.1h23.5l-11.8 21.5zM1602.1 1332.2h23.5l-11.8 21.5zM1603.2 1330.7h23.5l-11.8 21.5zM1604.3 1331.1h23.5l-11.8 21.5zM1605.4 1332h23.5l-11.8 21.5zM1606.5 1329.8h23.5l-11.8 21.5zM1607.6 1330.6h23.5l-11.8 21.5zM1608.7 1329.6h23.5l-11.8 21.5zM1609.8 1329h23.5l-11.8 21.5zM1610.9 1328.6h23.5l-11.8 21.5zM1612 1330.3h23.5l-11.8 21.5zM1613.1 1329.6h23.5l-11.8 21.5zM1614.1 1328.3h23.5l-11.8 21.5zM1615.2 1328h23.5l-11.8 21.5zM1616.3 1328.7h23.5l-11.8 21.5zM1617.3 1328h23.5l-11.8 21.5zM1618.4 1328.5h23.5l-11.8 21.5zM1619.4 1328.2h23.5l-11.8 21.5zM1620.5 1326.5h23.5l-11.8 21.5zM1621.5 1326.7h23.5l-11.8 21.5zM1622.6 1326h23.5l-11.8 21.5zM1623.6 1325h23.5l-11.8 21.5zM1624.7 1325.1h23.5l-11.8 21.5zM1625.7 1325.5h23.5l-11.8 21.5zM1626.7 1324.7h23.5l-11.8 21.5zM1627.8 1324.6h23.5l-11.8 21.5zM1628.8 1323.8h23.5l-11.8 21.5zM1629.8 1324.8h23.5l-11.8 21.5zM1630.8 1324h23.5l-11.8 21.5zM1631.8 1321.7h23.5l-11.8 21.5zM1632.9 1323.4h23.5l-11.8 21.5zM1633.9 1323.4h23.5l-11.8 21.5zM1634.9 1322.7h23.5l-11.8 21.5zM1635.9 1321h23.5l-11.8 21.5zM1636.9 1320.7h23.5l-11.8 21.5zM1637.9 1320h23.5l-11.8 21.5zM1638.9 1319.2h23.5l-11.8 21.5zM1639.9 1320.1h23.5l-11.8 21.5zM1640.9 1320.9h23.5l-11.8 21.5zM1641.8 1320.4h23.5l-11.8 21.5zM1642.8 1319.8h23.5l-11.8 21.5zM1643.8 1320h23.5l-11.8 21.5zM1644.8 1319.2h23.5l-11.8 21.5zM1645.8 1317.6h23.5l-11.8 21.5zM1646.7 1319h23.5l-11.8 21.5zM1647.7 1317.5h23.5l-11.8 21.5zM1648.7 1318.7h23.5l-11.8 21.5zM1649.6 1316.8h23.5l-11.8 21.5zM1650.6 1315.8h23.5l-11.8 21.5zM1651.5 1317.4h23.5l-11.8 21.5zM1652.5 1315.3h23.5l-11.8 21.5zM1653.4 1317.3h23.5l-11.8 21.5zM1654.4 1315.6h23.5l-11.8 21.5zM1655.3 1316.5h23.5l-11.8 21.5zM1656.3 1314h23.5l-11.8 21.5zM1657.2 1315.2h23.5l-11.8 21.5zM1658.2 1315.3h23.5l-11.8 21.5zM1659.1 1313.4h23.5l-11.8 21.5zM1660 1314.6h23.5l-11.8 21.5zM1661 1312.9h23.5l-11.8 21.5zM1661.9 1313.2h23.5l-11.8 21.5zM1662.8 1313.1h23.5l-11.8 21.5zM1663.7 1313.6h23.5l-11.8 21.5zM1664.6 1311.8h23.5l-11.8 21.5zM1665.6 1311.7h23.5l-11.8 21.5zM1666.5 1313.3h23.5l-11.8 21.5zM1667.4 1312.8h23.5l-11.8 21.5zM1668.3 1311.8h23.5l-11.8 21.5zM1669.2 1311h23.5l-11.8 21.5zM1670.1 1312h23.5l-11.8 21.5zM1671 1311h23.5l-11.8 21.5zM1671.9 1310.3h23.5l-11.8 21.5zM1672.8 1311.7h23.5l-11.8 21.5zM1673.7 1309.5h23.5l-11.8 21.5zM1674.6 1311h23.5l-11.8 21.5zM1675.5 1310.2h23.5l-11.8 21.5zM1676.4 1310h23.5l-11.8 21.5zM1677.3 1309.9h23.5l-11.8 21.5zM1678.1 1309.8h23.5l-11.8 21.5zM1679 1310h23.5l-11.8 21.5zM1679.9 1309.9h23.5l-11.8 21.5zM1680.8 1307.6h23.5l-11.8 21.5zM1681.6 1307.1h23.5l-11.8 21.5zM1682.5 1309.1h23.5l-11.8 21.5zM1683.4 1306.7h23.5l-11.8 21.5zM1684.2 1306.5h23.5l-11.8 21.5zM1685.1 1308.1h23.5l-11.8 21.5zM1686 1308.3h23.5l-11.8 21.5zM1686.8 1307.7h23.5l-11.8 21.5zM1687.7 1306.5h23.5l-11.8 21.5zM1688.5 1305.8h23.5l-11.8 21.5zM1689.4 1307.4h23.5l-11.8 21.5zM1690.2 1306.4h23.5l-11.8 21.5zM1691.1 1305.9h23.5l-11.8 21.5zM1691.9 1303.8h23.5l-11.8 21.5zM1692.8 1304.1h23.5l-11.8 21.5zM1693.6 1303.3h23.5l-11.8 21.5zM1694.5 1305.8h23.5l-11.8 21.5zM1695.3 1303.5h23.5l-11.8 21.5zM1696.1 1303.1h23.5l-11.8 21.5zM1697 1304.1h23.5l-11.8 21.5zM1697.8 1302.7h23.5l-11.8 21.5zM1698.6 1303.5h23.5l-11.8 21.5zM1699.5 1304.5h23.5l-11.8 21.5zM1700.3 1304h23.5l-11.8 21.5zM1701.1 1301.9h23.5l-11.8 21.5zM1701.9 1303.7h23.5l-11.8 21.5zM1702.7 1301.9h23.5l-11.8 21.5zM1703.6 1302h23.5l-11.8 21.5zM1704.4 1301.1h23.5l-11.8 21.5zM1705.2 1302.9h23.5l-11.8 21.5zM1706 1300.6h23.5l-11.8 21.5zM1706.8 1301.6h23.5l-11.8 21.5zM1707.6 1301h23.5l-11.8 21.5zM1708.4 1300.9h23.5l-11.8 21.5zM1709.2 1298.9h23.5l-11.8 21.5zM1710 1299.9h23.5l-11.8 21.5zM1710.8 1301h23.5l-11.8 21.5zM1711.6 1299.5h23.5l-11.8 21.5zM1712.4 1298.1h23.5l-11.8 21.5zM1713.2 1297.4h23.5l-11.8 21.5zM1714 1298h23.5l-11.8 21.5zM1714.8 1299h23.5l-11.8 21.5zM1715.6 1296.6h23.5l-11.8 21.5zM1716.4 1296.5h23.5l-11.8 21.5zM1717.1 1298.1h23.5l-11.8 21.5zM1717.9 1298.6h23.5l-11.8 21.5zM1718.7 1297h23.5l-11.8 21.5zM1719.5 1297.4h23.5l-11.8 21.5zM1720.2 1296.2h23.5l-11.8 21.5zM1721 1296h23.5l-11.8 21.5zM1721.8 1296.5h23.5l-11.8 21.5zM1722.6 1295.6h23.5l-11.8 21.5zM1723.3 1296.2h23.5l-11.8 21.5zM1724.1 1295.2h23.5l-11.8 21.5zM1724.9 1297.4h23.5l-11.8 21.5zM1725.6 1296.5h23.5l-11.8 21.5zM1726.4 1294.8h23.5l-11.8 21.5zM1727.1 1295.1h23.5l-11.8 21.5zM1727.9 1296.9h23.5l-11.8 21.5zM1728.7 1295.5h23.5l-11.8 21.5zM1729.4 1295.2h23.5l-11.8 21.5zM1730.2 1294.4h23.5l-11.8 21.5zM1730.9 1296.3h23.5l-11.8 21.5zM1731.7 1296h23.5l-11.8 21.5zM1732.4 1296.7h23.5l-11.8 21.5zM1733.2 1294.7h23.5l-11.8 21.5zM1733.9 1296.4h23.5l-11.8 21.5zM1734.6 1296.6h23.5l-11.8 21.5zM1735.4 1296.5h23.5l-11.8 21.5zM1736.1 1296.3h23.5l-11.8 21.5zM1736.9 1295.3h23.5l-11.8 21.5zM1737.6 1294.1h23.5l-11.8 21.5zM1738.3 1295.9h23.5l-11.8 21.5zM1739.1 1294h23.5l-11.8 21.5zM1739.8 1294.2h23.5l-11.8 21.5zM1740.5 1295.1h23.5l-11.8 21.5zM1741.3 1294.2h23.5l-11.8 21.5zM1742 1295.2h23.5l-11.8 21.5zM1742.7 1296.4h23.5l-11.8 21.5zM1743.4 1294.3h23.5l-11.8 21.5zM1744.2 1296.2h23.5l-11.8 21.5zM1744.9 1296.7h23.5l-11.8 21.5zM1745.6 1293.8h23.5l-11.8 21.5zM1746.3 1295h23.5l-11.8 21.5zM1747 1295.8h23.5l-11.8 21.5zM1747.7 1295.9h23.5l-11.8 21.5zM1748.4 1294.5h23.5l-11.8 21.5zM1749.2 1296.1h23.5l-11.8 21.5zM1749.9 1294.8h23.5l-11.8 21.5zM1750.6 1294.3h23.5l-11.8 21.5zM1751.3 1295.2h23.5l-11.8 21.5zM1752 1295.5h23.5l-11.8 21.5zM1752.7 1296.2h23.5l-11.8 21.5zM1753.4 1295.6h23.5l-11.8 21.5zM1754.1 1293.9h23.5l-11.8 21.5zM1754.8 1295.4h23.5l-11.8 21.5zM1755.5 1294.7h23.5l-11.8 21.5zM1756.2 1295.8h23.5l-11.8 21.5zM1756.9 1293.9h23.5l-11.8 21.5zM1757.6 1295.8h23.5l-11.8 21.5zM1758.3 1296.2h23.5l-11.8 21.5zM1758.9 1294h23.5l-11.8 21.5zM1759.6 1294h23.5l-11.8 21.5zM1760.3 1296.7h23.5l-11.8 21.5zM1761 1296.8h23.5l-11.8 21.5zM1761.7 1294.7h23.5l-11.8 21.5zM1762.4 1297h23.5l-11.8 21.5zM1763 1295.6h23.5l-11.8 21.5zM1763.7 1296h23.5l-11.8 21.5zM1764.4 1296h23.5l-11.8 21.5zM1765.1 1295.7h23.5l-11.8 21.5zM1765.8 1297.5h23.5l-11.8 21.5zM1766.4 1296.8h23.5l-11.8 21.5zM1767.1 1297.8h23.5l-11.8 21.5zM1767.8 1297h23.5l-11.8 21.5zM1768.4 1298.1h23.5l-11.8 21.5zM1769.1 1297h23.5l-11.8 21.5zM1769.8 1297h23.5l-11.8 21.5zM1770.4 1297.4h23.5l-11.8 21.5zM1771.1 1295.9h23.5l-11.8 21.5zM1771.8 1298.3h23.5l-11.8 21.5zM1772.4 1296.6h23.5l-11.8 21.5zM1773.1 1299.1h23.5l-11.8 21.5zM1773.7 1296.6h23.5l-11.8 21.5zM1774.4 1298.8h23.5l-11.8 21.5zM1775.1 1299.1h23.5l-11.8 21.5zM1775.7 1298.6h23.5l-11.8 21.5zM1776.4 1297.4h23.5l-11.8 21.5zM1777 1299.7h23.5l-11.8 21.5zM1777.7 1298.4h23.5l-11.8 21.5zM1778.3 1298.5h23.5l-11.8 21.5zM1779 1299.9h23.5l-11.8 21.5zM1779.6 1300.9h23.5l-11.8 21.5zM1780.3 1298.4h23.5l-11.8 21.5zM1780.9 1299.6h23.5l-11.8 21.5zM1781.6 1300.5h23.5l-11.8 21.5zM1782.2 1299.5h23.5l-11.8 21.5zM1782.8 1301.6h23.5l-11.8 21.5zM1783.5 1300.8h23.5l-11.8 21.5zM1784.1 1299.4h23.5l-11.8 21.5zM1784.8 1299.8h23.5l-11.8 21.5zM1785.4 1299.9h23.5l-11.8 21.5zM1786 1301h23.5l-11.8 21.5zM1786.7 1302.5h23.5l-11.8 21.5zM1787.3 1300.3h23.5l-11.8 21.5zM1787.9 1300.6h23.5l-11.8 21.5zM1788.5 1300.9h23.5l-11.8 21.5zM1789.2 1302.2h23.5l-11.8 21.5zM1789.8 1301.9h23.5l-11.8 21.5zM1790.4 1302h23.5l-11.8 21.5zM1791.1 1301.4h23.5l-11.8 21.5zM1791.7 1303.6h23.5l-11.8 21.5zM1792.3 1302.7h23.5l-11.8 21.5zM1792.9 1304h23.5l-11.8 21.5zM1793.5 1301.6h23.5l-11.8 21.5zM1794.2 1303.1h23.5l-11.8 21.5zM1794.8 1302.9h23.5l-11.8 21.5zM1795.4 1304.5h23.5l-11.8 21.5zM1796 1304.2h23.5l-11.8 21.5zM1796.6 1303.8h23.5l-11.8 21.5zM1797.2 1302.9h23.5l-11.8 21.5zM1797.9 1304.6h23.5l-11.8 21.5zM1798.5 1305.3h23.5l-11.8 21.5zM1799.1 1305.1h23.5l-11.8 21.5zM1799.7 1305.8h23.5l-11.8 21.5zM1800.3 1304.8h23.5l-11.8 21.5zM1800.9 1304.1h23.5l-11.8 21.5zM1801.5 1303.9h23.5l-11.8 21.5zM1802.1 1305.8h23.5l-11.8 21.5zM1802.7 1306h23.5l-11.8 21.5zM1803.3 1305.6h23.5l-11.8 21.5zM1803.9 1306.1h23.5l-11.8 21.5zM1804.5 1305.4h23.5l-11.8 21.5zM1805.1 1306.6h23.5l-11.8 21.5zM1805.7 1306.3h23.5l-11.8 21.5zM1806.3 1305h23.5l-11.8 21.5zM1806.9 1306.2h23.5l-11.8 21.5zM1807.5 1306.6h23.5l-11.8 21.5zM1808.1 1305.3h23.5l-11.8 21.5zM1808.7 1307.7h23.5l-11.8 21.5zM1809.3 1307.4h23.5l-11.8 21.5zM1809.9 1305.6h23.5l-11.8 21.5zM1810.4 1305.9h23.5l-11.8 21.5zM1811 1305.4h23.5l-11.8 21.5zM1811.6 1308.4h23.5l-11.8 21.5zM1812.2 1306.2h23.5l-11.8 21.5zM1812.8 1308.3h23.5l-11.8 21.5zM1813.4 1307.5h23.5l-11.8 21.5zM1814 1306.3h23.5l-11.8 21.5zM1814.5 1306.9h23.5l-11.8 21.5zM1815.1 1307.2h23.5l-11.8 21.5zM1815.7 1308.8h23.5l-11.8 21.5zM1816.3 1307.8h23.5l-11.8 21.5zM1816.9 1307.2h23.5l-11.8 21.5zM1817.4 1309.8h23.5l-11.8 21.5zM1818 1308.6h23.5l-11.8 21.5zM1818.6 1307.4h23.5l-11.8 21.5zM1819.2 1310.3h23.5l-11.8 21.5zM1819.7 1309.5h23.5l-11.8 21.5zM1820.3 1308.9h23.5l-11.8 21.5zM1820.9 1308.2h23.5l-11.8 21.5zM1821.4 1309.9h23.5l-11.8 21.5zM1822 1308.3h23.5l-11.8 21.5zM1822.6 1310.9h23.5l-11.8 21.5zM1823.1 1310.5h23.5l-11.8 21.5zM1823.7 1310.5h23.5l-11.8 21.5zM1824.3 1310.8h23.5l-11.8 21.5zM1824.8 1311.2h23.5l-11.8 21.5zM1825.4 1310.1h23.5l-11.8 21.5zM1826 1311.3h23.5l-11.8 21.5zM1826.5 1309.3h23.5l-11.8 21.5zM1827.1 1311.2h23.5l-11.8 21.5zM1827.6 1311.5h23.5l-11.8 21.5zM1828.2 1310h23.5l-11.8 21.5zM1828.8 1309.8h23.5l-11.8 21.5zM1829.3 1312.3h23.5l-11.8 21.5zM1829.9 1312.3h23.5l-11.8 21.5zM1830.4 1310.1h23.5l-11.8 21.5zM1831 1311.6h23.5l-11.8 21.5zM1831.5 1310.5h23.5l-11.8 21.5zM1832.1 1310.7h23.5l-11.8 21.5zM1832.6 1313h23.5l-11.8 21.5zM1833.2 1312.3h23.5l-11.8 21.5zM1833.7 1312.6h23.5l-11.8 21.5zM1834.3 1311.3h23.5l-11.8 21.5zM1834.8 1312.9h23.5l-11.8 21.5zM1835.4 1312.7h23.5l-11.8 21.5zM1835.9 1311.8h23.5l-11.8 21.5zM1836.5 1312.3h23.5l-11.8 21.5zM1837 1311.7h23.5l-11.8 21.5zM1837.5 1312.8h23.5l-11.8 21.5zM1838.1 1311.6h23.5l-11.8 21.5zM1838.6 1312.5h23.5l-11.8 21.5zM1839.2 1313.8h23.5l-11.8 21.5zM1839.7 1313.3h23.5l-11.8 21.5zM1840.2 1313.2h23.5l-11.8 21.5zM1840.8 1311.8h23.5l-11.8 21.5zM1841.3 1314h23.5l-11.8 21.5zM1841.8 1313.4h23.5l-11.8 21.5zM1842.4 1314.5h23.5l-11.8 21.5zM1842.9 1314.5h23.5l-11.8 21.5zM1843.4 1314.5h23.5l-11.8 21.5zM1844 1313.4h23.5l-11.8 21.5zM1844.5 1314.1h23.5l-11.8 21.5zM1845 1312.2h23.5l-11.8 21.5zM1845.6 1312.1h23.5l-11.8 21.5zM1846.1 1314.3h23.5l-11.8 21.5zM1846.6 1314h23.5l-11.8 21.5zM1847.2 1314.9h23.5l-11.8 21.5zM1847.7 1313h23.5l-11.8 21.5zM1848.2 1313.7h23.5l-11.8 21.5zM1848.7 1314.6h23.5l-11.8 21.5zM1849.2 1314.1h23.5l-11.8 21.5zM1849.8 1314.9h23.5l-11.8 21.5zM1850.3 1313.6h23.5l-11.8 21.5zM1850.8 1315h23.5l-11.8 21.5zM1851.3 1315.1h23.5l-11.8 21.5zM1851.9 1315.2h23.5l-11.8 21.5zM1852.4 1313.8h23.5l-11.8 21.5zM1852.9 1315.3h23.5l-11.8 21.5zM1853.4 1313.6h23.5l-11.8 21.5zM1853.9 1314.5h23.5l-11.8 21.5zM1854.4 1315.7h23.5l-11.8 21.5zM1854.9 1314.7h23.5l-11.8 21.5zM1855.5 1314.6h23.5l-11.8 21.5zM1856 1314h23.5l-11.8 21.5zM1856.5 1314.5h23.5l-11.8 21.5zM1857 1314.4h23.5l-11.8 21.5zM1857.5 1315h23.5l-11.8 21.5zM1858 1314.7h23.5l-11.8 21.5zM1858.5 1314h23.5l-11.8 21.5zM1859 1313.7h23.5l-11.8 21.5zM1859.5 1316.1h23.5l-11.8 21.5zM1860 1315h23.5l-11.8 21.5zM1860.6 1313.7h23.5l-11.8 21.5zM1861.1 1314.2h23.5l-11.8 21.5zM1861.6 1315.2h23.5l-11.8 21.5zM1862.1 1314h23.5l-11.8 21.5zM1862.6 1316h23.5l-11.8 21.5zM1863.1 1315h23.5l-11.8 21.5zM1863.6 1315.4h23.5l-11.8 21.5zM1864.1 1315.4h23.5l-11.8 21.5zM1865.1 1316.2h23.5l-11.8 21.5zM1866.1 1313.9h23.5l-11.8 21.5zM1867.1 1315.1h23.5l-11.8 21.5zM1868 1314.6h23.5l-11.8 21.5zM1869 1315.4h23.5l-11.8 21.5zM1870 1313.8h23.5l-11.8 21.5zM1871 1314h23.5l-11.8 21.5zM1872 1315.2h23.5l-11.8 21.5zM1872.9 1315.2h23.5l-11.8 21.5zM1873.9 1314.1h23.5l-11.8 21.5zM1874.9 1316.3h23.5l-11.8 21.5zM1875.8 1314.1h23.5l-11.8 21.5zM1876.8 1316.2h23.5l-11.8 21.5zM1877.8 1314.4h23.5l-11.8 21.5zM1878.7 1313.3h23.5l-11.8 21.5zM1879.7 1314.7h23.5l-11.8 21.5zM1880.6 1313.1h23.5l-11.8 21.5zM1881.6 1314.4h23.5l-11.8 21.5zM1882.5 1314.1h23.5l-11.8 21.5zM1883.5 1315.2h23.5l-11.8 21.5zM1884.4 1312.9h23.5l-11.8 21.5zM1885.3 1312.2h23.5l-11.8 21.5zM1886.3 1313.4h23.5l-11.8 21.5zM1887.2 1312.4h23.5l-11.8 21.5zM1888.1 1313.1h23.5l-11.8 21.5zM1889.1 1311.1h23.5l-11.8 21.5zM1890 1313.4h23.5l-11.8 21.5zM1890.9 1312.5h23.5l-11.8 21.5zM1891.8 1312.6h23.5l-11.8 21.5zM1892.8 1310.8h23.5l-11.8 21.5zM1893.7 1310.5h23.5l-11.8 21.5zM1894.6 1310.3h23.5l-11.8 21.5zM1895.5 1311h23.5l-11.8 21.5zM1896.4 1309.2h23.5l-11.8 21.5zM1897.3 1311.5h23.5l-11.8 21.5zM1898.2 1309.3h23.5l-11.8 21.5zM1899.1 1309h23.5l-11.8 21.5zM1900 1308.6h23.5l-11.8 21.5zM1900.9 1310.1h23.5l-11.8 21.5zM1901.8 1308.8h23.5l-11.8 21.5zM1902.7 1309h23.5l-11.8 21.5zM1903.6 1308.8h23.5l-11.8 21.5zM1904.4 1306.7h23.5l-11.8 21.5zM1905.3 1307.9h23.5l-11.8 21.5zM1906.2 1306.2h23.5l-11.8 21.5zM1907.1 1306.5h23.5l-11.8 21.5zM1908 1305.8h23.5l-11.8 21.5zM1908.8 1306.4h23.5l-11.8 21.5zM1909.7 1304.9h23.5l-11.8 21.5zM1910.6 1304.5h23.5l-11.8 21.5zM1911.4 1303.7h23.5l-11.8 21.5zM1912.3 1303.1h23.5l-11.8 21.5zM1913.2 1303.1h23.5l-11.8 21.5zM1914 1301.8h23.5l-11.8 21.5zM1914.9 1300.7h23.5l-11.8 21.5zM1915.7 1301.5h23.5l-11.8 21.5zM1916.6 1300.7h23.5l-11.8 21.5zM1917.4 1299.4h23.5l-11.8 21.5zM1918.3 1299.1h23.5l-11.8 21.5zM1919.1 1297.2h23.5l-11.8 21.5zM1920 1297.1h23.5l-11.8 21.5zM1920.8 1297.5h23.5l-11.8 21.5zM1921.7 1295.6h23.5l-11.8 21.5zM1922.5 1294.1h23.5l-11.8 21.5zM1923.3 1295.1h23.5l-11.8 21.5zM1924.2 1292.2h23.5l-11.8 21.5zM1925 1292.4h23.5l-11.8 21.5zM1925.8 1292h23.5l-11.8 21.5zM1926.6 1291.3h23.5l-11.8 21.5zM1927.5 1290.5h23.5l-11.8 21.5zM1928.3 1289.8h23.5l-11.8 21.5zM1929.1 1286.8h23.5l-11.8 21.5zM1929.9 1288.6h23.5l-11.8 21.5zM1930.8 1286h23.5l-11.8 21.5zM1931.6 1286.2h23.5l-11.8 21.5zM1932.4 1284.8h23.5l-11.8 21.5zM1933.2 1283h23.5l-11.8 21.5zM1934 1282.3h23.5l-11.8 21.5zM1934.8 1283.5h23.5l-11.8 21.5zM1935.6 1283h23.5l-11.8 21.5zM1936.4 1281.8h23.5l-11.8 21.5zM1937.2 1280.6h23.5l-11.8 21.5zM1938 1280.5h23.5l-11.8 21.5zM1938.8 1279.5h23.5l-11.8 21.5zM1939.6 1278.9h23.5l-11.8 21.5zM1940.4 1279.2h23.5l-11.8 21.5zM1941.2 1278.7h23.5l-11.8 21.5zM1942 1278.1h23.5l-11.8 21.5zM1942.8 1274.8h23.5l-11.8 21.5zM1943.5 1274.6h23.5l-11.8 21.5zM1944.3 1274.3h23.5l-11.8 21.5zM1945.1 1275.5h23.5l-11.8 21.5zM1945.9 1272.6h23.5l-11.8 21.5zM1946.7 1274.3h23.5l-11.8 21.5zM1947.4 1273.5h23.5l-11.8 21.5zM1948.2 1272.3h23.5l-11.8 21.5zM1949 1270.5h23.5l-11.8 21.5zM1949.8 1270.1h23.5l-11.8 21.5zM1950.5 1269h23.5l-11.8 21.5zM1951.3 1268.8h23.5l-11.8 21.5zM1952.1 1268.6h23.5l-11.8 21.5zM1952.8 1268.9h23.5l-11.8 21.5zM1953.6 1266.3h23.5l-11.8 21.5zM1954.3 1268h23.5l-11.8 21.5zM1955.1 1266h23.5l-11.8 21.5zM1955.9 1267.1h23.5l-11.8 21.5zM1956.6 1265.8h23.5l-11.8 21.5zM1957.4 1266h23.5l-11.8 21.5zM1958.1 1265.5h23.5l-11.8 21.5zM1958.9 1264.2h23.5l-11.8 21.5zM1959.6 1264.4h23.5l-11.8 21.5zM1960.4 1263.3h23.5l-11.8 21.5zM1961.1 1264.1h23.5l-11.8 21.5zM1961.8 1263.1h23.5l-11.8 21.5zM1962.6 1264.4h23.5l-11.8 21.5zM1963.3 1263h23.5l-11.8 21.5zM1964.1 1264h23.5l-11.8 21.5zM1964.8 1263.9h23.5l-11.8 21.5zM1965.5 1261.7h23.5l-11.8 21.5zM1966.3 1261.9h23.5l-11.8 21.5zM1967 1263.5h23.5l-11.8 21.5zM1967.7 1263.9h23.5l-11.8 21.5zM1968.5 1261.6h23.5l-11.8 21.5zM1969.2 1262.9h23.5l-11.8 21.5zM1969.9 1261.6h23.5l-11.8 21.5zM1970.6 1262.5h23.5l-11.8 21.5zM1971.3 1262.5h23.5l-11.8 21.5zM1972.1 1263.1h23.5l-11.8 21.5zM1972.8 1262.2h23.5l-11.8 21.5zM1973.5 1263.2h23.5l-11.8 21.5zM1974.2 1260.6h23.5l-11.8 21.5zM1974.9 1263.5h23.5l-11.8 21.5zM1975.6 1263h23.5l-11.8 21.5zM1976.3 1263.5h23.5l-11.8 21.5zM1977.1 1263.1h23.5l-11.8 21.5zM1977.8 1262.3h23.5l-11.8 21.5zM1978.5 1263.3h23.5l-11.8 21.5zM1979.2 1261.9h23.5l-11.8 21.5zM1979.9 1261.8h23.5l-11.8 21.5zM1980.6 1261.1h23.5l-11.8 21.5zM1981.3 1261.5h23.5l-11.8 21.5zM1982 1261.7h23.5l-11.8 21.5zM1982.7 1260.8h23.5l-11.8 21.5zM1983.4 1260.9h23.5l-11.8 21.5zM1984.1 1261.5h23.5l-11.8 21.5zM1984.8 1261.6h23.5l-11.8 21.5zM1985.4 1263.1h23.5l-11.8 21.5zM1986.1 1261.1h23.5l-11.8 21.5zM1986.8 1262.8h23.5l-11.8 21.5zM1987.5 1262.5h23.5l-11.8 21.5zM1988.2 1261.8h23.5l-11.8 21.5zM1988.9 1261.7h23.5l-11.8 21.5zM1989.6 1260.9h23.5l-11.8 21.5zM1990.2 1262.9h23.5l-11.8 21.5zM1990.9 1263.1h23.5l-11.8 21.5zM1991.6 1261.9h23.5l-11.8 21.5zM1992.3 1260.7h23.5l-11.8 21.5zM1992.9 1262.1h23.5l-11.8 21.5zM1993.6 1261.4h23.5l-11.8 21.5zM1994.3 1260.6h23.5l-11.8 21.5zM1995 1261h23.5l-11.8 21.5zM1995.6 1263.4h23.5l-11.8 21.5zM1996.3 1261.6h23.5l-11.8 21.5zM1997 1261.2h23.5l-11.8 21.5zM1997.6 1261.6h23.5l-11.8 21.5zM1998.3 1263.1h23.5l-11.8 21.5zM1999 1261h23.5l-11.8 21.5zM1999.6 1261.1h23.5l-11.8 21.5zM2000.3 1264.1h23.5l-11.8 21.5zM2000.9 1262.2h23.5l-11.8 21.5zM2001.6 1261.8h23.5l-11.8 21.5zM2002.3 1262h23.5l-11.8 21.5zM2002.9 1263.9h23.5l-11.8 21.5zM2003.6 1263.8h23.5l-11.8 21.5zM2004.2 1264.5h23.5l-11.8 21.5zM2004.9 1263.3h23.5l-11.8 21.5zM2005.5 1264.8h23.5l-11.8 21.5zM2006.2 1265.2h23.5l-11.8 21.5zM2006.8 1265.4h23.5l-11.8 21.5zM2007.5 1264.6h23.5l-11.8 21.5zM2008.1 1265.3h23.5l-11.8 21.5zM2008.7 1265.7h23.5l-11.8 21.5zM2009.4 1265.1h23.5l-11.8 21.5zM2010 1266h23.5l-11.8 21.5zM2010.7 1266h23.5l-11.8 21.5zM2011.3 1265.2h23.5l-11.8 21.5zM2011.9 1265.6h23.5l-11.8 21.5zM2012.6 1267.2h23.5l-11.8 21.5zM2013.2 1264.8h23.5l-11.8 21.5zM2013.8 1266.7h23.5l-11.8 21.5zM2014.5 1267.4h23.5l-11.8 21.5zM2015.1 1265.9h23.5l-11.8 21.5zM2015.7 1267.4h23.5l-11.8 21.5zM2016.4 1266.2h23.5l-11.8 21.5zM2017 1267.2h23.5l-11.8 21.5zM2017.6 1267.2h23.5l-11.8 21.5zM2018.2 1268.8h23.5l-11.8 21.5zM2018.9 1269.6h23.5l-11.8 21.5zM2019.5 1269.7h23.5l-11.8 21.5zM2020.1 1269.4h23.5l-11.8 21.5zM2020.7 1267.4h23.5l-11.8 21.5zM2021.4 1269.8h23.5l-11.8 21.5zM2022 1268.1h23.5l-11.8 21.5zM2022.6 1268.4h23.5l-11.8 21.5zM2023.2 1268.6h23.5l-11.8 21.5zM2023.8 1268.9h23.5l-11.8 21.5zM2024.4 1270.8h23.5l-11.8 21.5zM2025 1269.9h23.5l-11.8 21.5zM2025.7 1270.5h23.5l-11.8 21.5zM2026.3 1271.6h23.5l-11.8 21.5zM2026.9 1273.3h23.5l-11.8 21.5zM2027.5 1273.8h23.5l-11.8 21.5zM2028.1 1272.7h23.5l-11.8 21.5zM2028.7 1271.9h23.5l-11.8 21.5zM2029.3 1273h23.5l-11.8 21.5zM2029.9 1272.5h23.5l-11.8 21.5zM2030.5 1272.9h23.5l-11.8 21.5zM2031.1 1274.6h23.5l-11.8 21.5zM2031.7 1274.6h23.5l-11.8 21.5zM2032.3 1274.6h23.5l-11.8 21.5zM2032.9 1277.1h23.5l-11.8 21.5zM2033.5 1276.6h23.5l-11.8 21.5zM2034.1 1278.1h23.5l-11.8 21.5zM2034.7 1276.9h23.5l-11.8 21.5zM2035.3 1276.6h23.5l-11.8 21.5zM2035.9 1278.9h23.5l-11.8 21.5zM2036.5 1278.7h23.5l-11.8 21.5zM2037.1 1278.2h23.5l-11.8 21.5zM2037.6 1278.9h23.5l-11.8 21.5zM2038.2 1280.5h23.5l-11.8 21.5zM2038.8 1280.6h23.5l-11.8 21.5zM2039.4 1280.2h23.5l-11.8 21.5zM2040 1280h23.5l-11.8 21.5zM2040.6 1283h23.5l-11.8 21.5zM2041.2 1281.3h23.5l-11.8 21.5zM2041.7 1282.7h23.5l-11.8 21.5zM2042.3 1282.5h23.5l-11.8 21.5zM2042.9 1283.2h23.5l-11.8 21.5zM2043.5 1284.5h23.5l-11.8 21.5zM2044.1 1285h23.5l-11.8 21.5zM2044.6 1286h23.5l-11.8 21.5zM2045.2 1285.7h23.5l-11.8 21.5zM2045.8 1284.5h23.5l-11.8 21.5zM2046.4 1286.9h23.5l-11.8 21.5zM2046.9 1285.4h23.5l-11.8 21.5zM2047.5 1285.9h23.5l-11.8 21.5zM2048.1 1285.9h23.5l-11.8 21.5zM2048.6 1287.5h23.5l-11.8 21.5zM2049.2 1289h23.5l-11.8 21.5zM2049.8 1287.8h23.5l-11.8 21.5zM2050.3 1287.7h23.5l-11.8 21.5zM2050.9 1289.4h23.5l-11.8 21.5zM2051.5 1289.9h23.5l-11.8 21.5zM2052 1289.2h23.5l-11.8 21.5zM2052.6 1289.3h23.5l-11.8 21.5zM2053.2 1291.3h23.5l-11.8 21.5zM2053.7 1291.5h23.5l-11.8 21.5zM2054.3 1290.5h23.5l-11.8 21.5zM2054.8 1291.6h23.5l-11.8 21.5zM2055.4 1292.2h23.5l-11.8 21.5zM2056 1290.9h23.5l-11.8 21.5zM2056.5 1290.4h23.5l-11.8 21.5zM2057.1 1290.5h23.5l-11.8 21.5zM2057.6 1290.8h23.5l-11.8 21.5zM2058.2 1291.6h23.5l-11.8 21.5zM2058.7 1292.3h23.5l-11.8 21.5zM2059.3 1293.4h23.5l-11.8 21.5zM2059.8 1293.5h23.5l-11.8 21.5zM2060.4 1294.1h23.5l-11.8 21.5zM2060.9 1294.3h23.5l-11.8 21.5zM2061.5 1294.1h23.5l-11.8 21.5zM2062 1293.3h23.5l-11.8 21.5zM2062.6 1294.8h23.5l-11.8 21.5zM2063.1 1294h23.5l-11.8 21.5zM2063.7 1295.3h23.5l-11.8 21.5zM2064.2 1293.3h23.5l-11.8 21.5zM2064.7 1294.1h23.5l-11.8 21.5zM2065.3 1293.4h23.5l-11.8 21.5zM2065.8 1296.4h23.5l-11.8 21.5zM2066.4 1295.9h23.5l-11.8 21.5zM2066.9 1294.4h23.5l-11.8 21.5zM2067.4 1297h23.5l-11.8 21.5zM2068 1296.3h23.5l-11.8 21.5zM2068.5 1296.7h23.5l-11.8 21.5zM2069 1295h23.5l-11.8 21.5zM2069.6 1295.7h23.5l-11.8 21.5zM2070.1 1298.1h23.5l-11.8 21.5zM2070.6 1296h23.5l-11.8 21.5zM2071.2 1296.6h23.5l-11.8 21.5zM2071.7 1297.4h23.5l-11.8 21.5zM2072.2 1297.3h23.5l-11.8 21.5zM2072.8 1298.5h23.5l-11.8 21.5zM2073.3 1296.9h23.5l-11.8 21.5zM2073.8 1297.7h23.5l-11.8 21.5zM2074.3 1298.7h23.5l-11.8 21.5zM2074.9 1297.9h23.5l-11.8 21.5zM2075.4 1298.9h23.5l-11.8 21.5zM2075.9 1297.2h23.5l-11.8 21.5zM2076.4 1298.5h23.5l-11.8 21.5zM2077 1298.1h23.5l-11.8 21.5zM2077.5 1298.5h23.5l-11.8 21.5zM2078 1299.8h23.5l-11.8 21.5zM2078.5 1298.3h23.5l-11.8 21.5zM2079 1299.8h23.5l-11.8 21.5zM2079.6 1298.5h23.5l-11.8 21.5zM2080.1 1298.5h23.5l-11.8 21.5zM2080.6 1301.4h23.5l-11.8 21.5zM2081.1 1301.2h23.5l-11.8 21.5zM2081.6 1299.8h23.5l-11.8 21.5zM2082.1 1301.2h23.5l-11.8 21.5zM2082.7 1299.6h23.5l-11.8 21.5zM2083.2 1300.3h23.5l-11.8 21.5zM2083.7 1302.3h23.5l-11.8 21.5zM2084.2 1301.3h23.5l-11.8 21.5zM2084.7 1303.1h23.5l-11.8 21.5zM2085.2 1301.6h23.5l-11.8 21.5zM2085.7 1302.1h23.5l-11.8 21.5zM2086.2 1301.4h23.5l-11.8 21.5zM2086.7 1303h23.5l-11.8 21.5zM2087.2 1301.9h23.5l-11.8 21.5zM2087.7 1303.6h23.5l-11.8 21.5zM2088.3 1303.7h23.5l-11.8 21.5zM2088.8 1304.3h23.5l-11.8 21.5zM2089.3 1302.2h23.5l-11.8 21.5zM2089.8 1305.2h23.5l-11.8 21.5zM2090.3 1305h23.5l-11.8 21.5zM2090.8 1305.1h23.5l-11.8 21.5zM2091.3 1303.9h23.5l-11.8 21.5zM2092 1303.7h23.5l-11.8 21.5zM2092.8 1304.8h23.5l-11.8 21.5zM2093.5 1306.8h23.5l-11.8 21.5zM2094.3 1304.7h23.5l-11.8 21.5zM2095 1305.1h23.5l-11.8 21.5zM2095.7 1307.7h23.5l-11.8 21.5zM2096.5 1306.4h23.5l-11.8 21.5zM2097.2 1306h23.5l-11.8 21.5zM2097.9 1309.2h23.5l-11.8 21.5zM2098.7 1308.8h23.5l-11.8 21.5zM2099.4 1310h23.5l-11.8 21.5zM2100.1 1309.4h23.5l-11.8 21.5zM2100.9 1309.8h23.5l-11.8 21.5zM2101.6 1308.4h23.5l-11.8 21.5zM2102.3 1311.7h23.5l-11.8 21.5zM2103 1310.7h23.5l-11.8 21.5zM2103.8 1309.9h23.5l-11.8 21.5zM2104.5 1311.5h23.5l-11.8 21.5zM2105.2 1311.9h23.5l-11.8 21.5zM2105.9 1311.1h23.5l-11.8 21.5zM2106.6 1313.4h23.5l-11.8 21.5zM2107.4 1313.8h23.5l-11.8 21.5zM2108.1 1314.4h23.5l-11.8 21.5zM2108.8 1314.3h23.5l-11.8 21.5zM2109.5 1313.6h23.5l-11.8 21.5zM2110.2 1315.5h23.5l-11.8 21.5zM2110.9 1315h23.5l-11.8 21.5zM2111.6 1317.1h23.5l-11.8 21.5zM2112.3 1318h23.5l-11.8 21.5zM2113 1317.2h23.5l-11.8 21.5zM2113.7 1318.7h23.5l-11.8 21.5zM2114.4 1317.4h23.5l-11.8 21.5zM2115.1 1319.6h23.5l-11.8 21.5zM2115.8 1319h23.5l-11.8 21.5zM2116.5 1320.2h23.5l-11.8 21.5zM2117.2 1319.6h23.5l-11.8 21.5zM2117.9 1321h23.5l-11.8 21.5zM2118.6 1321.7h23.5l-11.8 21.5zM2119.3 1322h23.5l-11.8 21.5zM2120 1323.2h23.5l-11.8 21.5zM2120.6 1323.8h23.5l-11.8 21.5zM2121.1 1322.5h23.5l-11.8 21.5z" fill="#808080"/>
<path d="M338.4 456.1h0M388.7 514.8h0M432.3 566.7h0M470.8 608h0M505.3 645.3h0M536.5 678.3h0M564.9 705.4h0M591.1 733.1h0M615.4 755.7h0M637.9 778.5h0M659.1 798.5h0M678.9 816.2h0M697.6 832.8h0M715.3 848.2h0M732.1 862.9h0M748.1 877h0M763.3 892.5h0M777.9 904.1h0M791.8 917.4h0M805.2 929.3h0M818 940.1h0M830.4 952.2h0M842.3 964.3h0M853.8 975.2h0M864.9 985.3h0M875.6 994.3h0M886 1002.1h0M896.1 1009.1h0M905.9 1015.6h0M915.4 1021.5h0M924.6 1027h0M933.6 1032h0M942.3 1036.6h0M950.8 1040.9h0M959.1 1044.7h0M967.2 1048h0M975.1 1050.7h0M982.8 1053.2h0M990.3 1055.3h0M997.7 1057.4h0M1004.9 1059.3h0M1011.9 1061h0M1018.8 1062.7h0M1025.6 1064.7h0M1032.2 1066.7h0M1038.7 1069.2h0M1045.1 1072.3h0M1051.3 1075.5h0M1057.4 1084.3h0M1063.4 1094.1h0M1069.3 1105h0M1075.1 1115.6h0M1080.8 1127.4h0M1086.4 1137.7h0M1091.9 1148.3h0M1097.4 1156.6h0M1102.7 1165.3h0M1107.9 1170.8h0M1113.1 1176h0M1118.2 1179h0M1123.2 1182.5h0M1128.1 1187.3h0M1133 1190.5h0M1137.7 1193h0M1142.4 1196.9h0M1147.1 1197.5h0M1151.7 1202h0M1156.2 1202.6h0M1160.7 1207.8h0M1165.1 1209.3h0M1169.4 1211.6h0M1173.7 1214.8h0M1177.9 1215.6h0M1182.1 1216.4h0M1186.2 1214.4h0M1190.3 1216.2h0M1194.3 1215.5h0M1198.3 1216.2h0M1202.2 1216.1h0M1206.1 1217.7h0M1209.9 1213h0M1213.7 1211.8h0M1217.4 1210.6h0M1221.1 1209.4h0M1224.8 1206.7h0M1228.4 1202.3h0M1232 1196.9h0M1235.5 1194.9h0M1239.1 1192.3h0M1242.5 1186.5h0M1246 1187h0M1249.3 1183.3h0M1252.7 1183.6h0M1256 1188.2h0M1259.3 1195.3h0M1262.6 1200.8h0M1265.8 1208.8h0M1269 1215.8h0M1272.2 1223.9h0M1275.3 1227.5h0M1278.4 1235.3h0M1281.5 1242.4h0M1284.5 1249.9h0M1287.6 1252.7h0M1290.6 1254.9h0M1293.5 1261.9h0M1296.5 1263.7h0M1299.4 1270.3h0M1302.3 1271.4h0M1305.1 1274.4h0M1308 1280.5h0M1310.8 1280.1h0M1313.6 1282.1h0M1316.3 1284h0M1319.1 1286.5h0M1321.8 1285.8h0M1324.5 1289.9h0M1327.2 1293.5h0M1329.8 1292.6h0M1332.5 1294.8h0M1335.1 1297.1h0M1337.7 1297.4h0M1340.2 1297.7h0M1342.8 1299h0M1345.3 1299.8h0M1347.8 1297.1h0M1350.3 1298.9h0M1352.8 1298.5h0M1355.2 1298.4h0M1357.7 1300.6h0M1360.1 1299.4h0M1362.5 1301.4h0M1364.9 1301.5h0M1367.2 1298.8h0M1369.6 1301.1h0M1371.9 1301h0M1374.2 1303.1h0M1376.5 1299.7h0M1378.8 1300.4h0M1381.1 1302.7h0M1383.3 1302.4h0M1385.6 1304.3h0M1387.8 1302.7h0M1390 1302.3h0M1392.2 1307.1h0M1394.4 1303.4h0M1396.5 1303.2h0M1398.7 1304.5h0M1400.8 1305.3h0M1403 1305.1h0M1405.1 1307.4h0M1407.2 1310.3h0M1409.2 1306h0M1411.3 1308.2h0M1413.4 1310.3h0M1415.4 1312.1h0M1417.4 1313.3h0M1419.4 1308.8h0M1421.5 1311.7h0M1423.4 1314.4h0M1425.4 1310.1h0M1427.4 1314.1h0M1429.3 1312.4h0M1431.3 1316.8h0M1433.2 1318.6h0M1435.1 1317h0M1437.1 1314.6h0M1439 1315.7h0M1440.8 1318.6h0M1442.7 1321.8h0M1444.6 1318.8h0M1446.5 1321.9h0M1448.3 1320.7h0M1450.1 1320.2h0M1452 1323.2h0M1453.8 1321.2h0M1455.6 1321.9h0M1457.4 1324.6h0M1459.2 1323.3h0M1460.9 1325.3h0M1462.7 1324h0M1464.5 1322.1h0M1466.2 1324.1h0M1468 1326.9h0M1469.7 1325.3h0M1471.4 1327.9h0M1473.1 1322.4h0M1474.8 1324.6h0M1476.5 1327.4h0M1478.2 1327.1h0M1479.9 1326.5h0M1481.5 1327.3h0M1483.2 1328.8h0M1484.8 1327.8h0M1486.5 1327.1h0M1488.1 1327.4h0M1489.8 1328.2h0M1491.4 1326.3h0M1493 1328.5h0M1494.6 1328.3h0M1496.2 1329.5h0M1497.8 1327.8h0M1499.3 1325.2h0M1500.9 1328.4h0M1502.5 1330.5h0M1504 1329.4h0M1505.6 1329.5h0M1507.1 1328.1h0M1508.7 1328.1h0M1510.2 1330.4h0M1511.7 1326.7h0M1513.2 1331.5h0M1514.7 1331.7h0M1516.2 1332.4h0M1517.7 1327.5h0M1519.2 1327.5h0M1520.7 1332.3h0M1522.2 1329.5h0M1523.6 1328.8h0M1525.1 1329.6h0M1526.5 1331.3h0M1528 1328.5h0M1529.4 1330.5h0M1530.9 1331.6h0M1532.3 1332.1h0M1533.7 1327.9h0M1535.1 1332.7h0M1536.5 1330.5h0M1537.9 1330.6h0M1539.3 1331.4h0M1540.7 1329.8h0M1542.1 1333.4h0M1543.5 1329.4h0M1544.9 1331.4h0M1546.2 1329.2h0M1547.6 1331.9h0M1549 1333.6h0M1550.3 1333.5h0M1551.7 1328.9h0M1553 1331.8h0M1554.3 1333.4h0M1555.7 1329.1h0M1557 1330.3h0M1558.3 1331.9h0M1559.6 1331.9h0M1560.9 1330.1h0M1562.2 1331h0M1563.5 1331h0M1564.8 1328.9h0M1566.1 1330.5h0M1567.4 1329.8h0M1568.7 1330.3h0M1569.9 1329h0M1571.2 1327.7h0M1572.5 1328h0M1573.7 1330.6h0M1575 1326h0M1576.2 1325.5h0M1577.5 1324.4h0M1578.7 1329.1h0M1580 1329.6h0M1581.2 1324.8h0M1582.4 1324.7h0M1583.6 1324h0M1584.9 1326.1h0M1586.1 1325.1h0M1587.3 1326.9h0M1588.5 1322.9h0M1589.7 1326.6h0M1590.9 1323.8h0M1592.1 1325.6h0M1593.2 1325.2h0M1594.4 1325.6h0M1595.6 1322.8h0M1596.8 1323.2h0M1597.9 1322.6h0M1599.1 1320.1h0M1600.3 1321.7h0M1601.4 1324h0M1602.6 1323.6h0M1603.7 1318h0M1604.9 1321.6h0M1606 1319.3h0M1607.1 1317.9h0M1608.3 1317.7h0M1609.4 1321.3h0M1610.5 1322h0M1611.6 1319.1h0M1612.8 1318h0M1613.9 1318.4h0M1615 1320h0M1616.1 1319.2h0M1617.2 1314.8h0M1618.3 1315.4h0M1619.4 1319h0M1620.5 1316.5h0M1621.6 1317.1h0M1622.6 1317.5h0M1623.7 1316.4h0M1624.8 1316.6h0M1625.9 1315.2h0M1626.9 1313h0M1628 1312.4h0M1629.1 1316.9h0M1630.1 1310.7h0M1631.2 1314.4h0M1632.2 1315.2h0M1633.3 1311h0M1634.3 1309.6h0M1635.4 1311.4h0M1636.4 1310.6h0M1637.4 1311.1h0M1638.5 1310.5h0M1639.5 1313.3h0M1640.5 1308h0M1641.6 1312.6h0M1642.6 1306.9h0M1643.6 1311.9h0M1644.6 1308h0M1645.6 1310h0M1646.6 1305.3h0M1647.6 1307.7h0M1648.6 1308.7h0M1649.6 1308.1h0M1650.6 1308.8h0M1651.6 1304.6h0M1652.6 1305.8h0M1653.6 1306.7h0M1654.6 1302.9h0M1655.6 1307.4h0M1656.5 1304.6h0M1657.5 1303.2h0M1658.5 1302.7h0M1659.4 1305h0M1660.4 1301h0M1661.4 1301.9h0M1662.3 1301.9h0M1663.3 1301.3h0M1664.2 1303.8h0M1665.2 1302.6h0M1666.1 1304.1h0M1667.1 1302.6h0M1668 1299.8h0M1669 1299.6h0M1669.9 1298.1h0M1670.8 1298.4h0M1671.8 1300.3h0M1672.7 1300.7h0M1673.6 1297.7h0M1674.6 1297.6h0M1675.5 1300h0M1676.4 1300.6h0M1677.3 1295h0M1678.2 1294.6h0M1679.1 1298.4h0M1680 1296.4h0M1681 1295.7h0M1681.9 1296.6h0M1682.8 1297h0M1683.7 1292.5h0M1684.6 1297.5h0M1685.5 1297.1h0M1686.3 1293.5h0M1687.2 1293.5h0M1688.1 1292h0M1689 1293.5h0M1689.9 1290.9h0M1690.8 1292.5h0M1691.6 1294.4h0M1692.5 1291.7h0M1693.4 1293.3h0M1694.3 1289.1h0M1695.1 1293h0M1696 1288.1h0M1696.9 1288.3h0M1697.7 1291h0M1698.6 1288.2h0M1699.4 1286.8h0M1700.3 1286.3h0M1701.1 1290.2h0M1702 1285.3h0M1702.8 1285.2h0M1703.7 1290.2h0M1704.5 1289h0M1705.4 1286.2h0M1706.2 1284.8h0M1707.1 1288.6h0M1707.9 1287.8h0M1708.7 1286.8h0M1709.6 1285.7h0M1710.4 1285.4h0M1711.2 1287.9h0M1712 1284.9h0M1712.9 1281.9h0M1713.7 1281.6h0M1714.5 1284.4h0M1715.3 1284.9h0M1716.1 1284h0M1716.9 1284.3h0M1717.7 1281.3h0M1718.6 1281.5h0M1719.4 1280.5h0M1720.2 1280.8h0M1721 1279.9h0M1721.8 1283h0M1722.6 1278.5h0M1723.4 1278.6h0M1724.2 1281.3h0M1724.9 1279.2h0M1725.7 1278.5h0M1726.5 1282.1h0M1727.3 1281.3h0M1728.1 1277h0M1728.9 1276.4h0M1729.7 1278.2h0M1730.4 1278.5h0M1731.2 1276.9h0M1732 1278.2h0M1732.8 1278.6h0M1733.5 1279.3h0M1734.3 1275.7h0M1735.1 1278h0M1735.8 1274.4h0M1736.6 1274.4h0M1737.4 1274.3h0M1738.1 1274.7h0M1738.9 1278.7h0M1739.7 1276.2h0M1740.4 1277h0M1741.2 1276.7h0M1741.9 1275.2h0M1742.7 1274.3h0M1743.4 1275.1h0M1744.2 1279.1h0M1744.9 1276h0M1745.7 1276.5h0M1746.4 1275.6h0M1747.1 1278.4h0M1747.9 1278.2h0M1748.6 1276.3h0M1749.4 1277h0M1750.1 1276.4h0M1750.8 1277.4h0M1751.5 1277.6h0M1752.3 1277.5h0M1753 1279.4h0M1753.7 1279.7h0M1754.5 1274.3h0M1755.2 1276.3h0M1755.9 1274.2h0M1756.6 1276.2h0M1757.3 1278.8h0M1758.1 1278.1h0M1758.8 1277.4h0M1759.5 1274.5h0M1760.2 1278.9h0M1760.9 1277.7h0M1761.6 1275.8h0M1762.3 1278.7h0M1763 1274.2h0M1763.7 1275.1h0M1764.4 1278.7h0M1765.1 1274.3h0M1765.8 1274.8h0M1766.5 1277h0M1767.2 1278.3h0M1767.9 1277.6h0M1768.6 1274.3h0M1769.3 1275.8h0M1770 1278.4h0M1770.7 1276.4h0M1771.4 1275.5h0M1772.1 1274.4h0M1772.7 1276.1h0M1773.4 1280.2h0M1774.1 1275h0M1774.8 1278.1h0M1775.5 1280.3h0M1776.2 1279.2h0M1776.8 1276.8h0M1777.5 1279.1h0M1778.2 1276.1h0M1778.9 1278.5h0M1779.5 1277.2h0M1780.2 1281h0M1780.9 1281.1h0M1781.5 1280.6h0M1782.2 1278.5h0M1782.9 1281.1h0M1783.5 1282.4h0M1784.2 1278.9h0M1784.8 1280h0M1785.5 1278h0M1786.2 1277.8h0M1786.8 1281.7h0M1787.5 1277.9h0M1788.1 1281.3h0M1788.8 1278.6h0M1789.4 1282.1h0M1790.1 1282.8h0M1790.7 1284.1h0M1791.4 1281h0M1792 1281.1h0M1792.7 1281.4h0M1793.3 1283.4h0M1793.9 1284.1h0M1794.6 1280.2h0M1795.2 1281.7h0M1795.9 1280.2h0M1796.5 1281.5h0M1797.1 1284.7h0M1797.8 1286.1h0M1798.4 1286.5h0M1799 1281.3h0M1799.7 1283.4h0M1800.3 1286.4h0M1800.9 1284.4h0M1801.6 1283.7h0M1802.2 1286.4h0M1802.8 1287.1h0M1803.4 1283h0M1804.1 1285.4h0M1804.7 1283.3h0M1805.3 1283.7h0M1805.9 1286h0M1806.5 1284.5h0M1807.1 1287.9h0M1807.8 1285.5h0M1808.4 1284.5h0M1809 1287.4h0M1809.6 1285.3h0M1810.2 1284.3h0M1810.8 1290h0M1811.4 1285.3h0M1812 1285.1h0M1812.6 1287.4h0M1813.2 1284.7h0M1813.9 1289.5h0M1814.5 1285.4h0M1815.1 1285.3h0M1815.7 1291.1h0M1816.3 1288.5h0M1816.9 1291.2h0M1817.5 1291.2h0M1818.1 1290.3h0M1818.6 1286.3h0M1819.2 1290.1h0M1819.8 1286.8h0M1820.4 1286.7h0M1821 1291.9h0M1821.6 1288.8h0M1822.2 1291.6h0M1822.8 1290.5h0M1823.4 1292.2h0M1824 1291.5h0M1824.5 1293.7h0M1825.1 1290.9h0M1825.7 1293.3h0M1826.3 1293.3h0M1826.9 1292.1h0M1827.5 1291.8h0M1828 1291.5h0M1828.6 1292.9h0M1829.2 1290.4h0M1829.8 1292.1h0M1830.3 1293.5h0M1830.9 1291.6h0M1831.5 1291.2h0M1832.1 1290.7h0M1832.6 1295.1h0M1833.2 1295.7h0M1833.8 1295.6h0M1834.3 1295h0M1834.9 1294.6h0M1835.5 1291.5h0M1836 1296.6h0M1836.6 1294.3h0M1837.2 1295.7h0M1837.7 1292.5h0M1838.3 1296.4h0M1838.8 1293h0M1839.4 1298h0M1840 1296.6h0M1840.5 1295.7h0M1841.1 1296.6h0M1841.6 1294.2h0M1842.2 1296h0M1842.7 1293.6h0M1843.3 1294.9h0M1843.8 1295.1h0M1844.4 1294.5h0M1844.9 1296.1h0M1845.5 1294.2h0M1846 1294.1h0M1846.6 1296h0M1847.1 1300.1h0M1847.7 1298.6h0M1848.2 1297h0M1848.7 1295.7h0M1849.3 1295.4h0M1849.8 1297.2h0M1850.4 1298.8h0M1850.9 1299.9h0M1851.5 1297.8h0M1852 1300.3h0M1852.5 1300.1h0M1853.1 1300.4h0M1853.6 1297.4h0M1854.1 1298.3h0M1854.7 1296.5h0M1855.2 1299.2h0M1855.7 1296h0M1856.3 1298.6h0M1856.8 1296.9h0M1857.3 1298.8h0M1857.8 1297.1h0M1858.4 1296.1h0M1858.9 1298.7h0M1859.4 1298.8h0M1860 1299.6h0M1860.5 1297.2h0M1861 1299.5h0M1861.5 1298.3h0M1862 1297.1h0M1862.6 1299.2h0M1863.1 1300.8h0M1863.6 1298.7h0M1864.1 1301.2h0M1864.6 1301.7h0M1865.2 1297.1h0M1865.7 1298.4h0M1866.2 1298.9h0M1866.7 1300.8h0M1867.2 1300.2h0M1867.7 1300.8h0M1868.2 1297.9h0M1868.7 1299.2h0M1869.3 1298.5h0M1869.8 1302.1h0M1870.3 1301.8h0M1870.8 1299.5h0M1871.3 1303h0M1871.8 1298.6h0M1872.3 1298h0M1872.8 1300.2h0M1873.3 1302h0M1873.8 1303.7h0M1874.3 1301.1h0M1874.8 1298.9h0M1875.3 1301.7h0M1875.8 1298.3h0M1876.8 1300.2h0M1877.8 1299.2h0M1878.8 1303.8h0M1879.8 1304.3h0M1880.8 1300.4h0M1881.8 1299.3h0M1882.7 1299.6h0M1883.7 1300h0M1884.7 1298.5h0M1885.7 1300.9h0M1886.6 1301.2h0M1887.6 1299.1h0M1888.6 1300.9h0M1889.5 1299.6h0M1890.5 1298h0M1891.4 1302.2h0M1892.4 1299.4h0M1893.3 1302.5h0M1894.3 1297.1h0M1895.2 1301.7h0M1896.2 1301.5h0M1897.1 1298.5h0M1898 1297.2h0M1899 1295.3h0M1899.9 1294.5h0M1900.8 1297.5h0M1901.7 1298.7h0M1902.7 1296.9h0M1903.6 1295.7h0M1904.5 1292.8h0M1905.4 1293h0M1906.3 1295.2h0M1907.2 1292.3h0M1908.1 1291.2h0M1909.1 1294.2h0M1910 1291.1h0M1910.9 1292.6h0M1911.7 1293.7h0M1912.6 1291.9h0M1913.5 1293.2h0M1914.4 1292.7h0M1915.3 1286.6h0M1916.2 1290.6h0M1917.1 1289.6h0M1918 1289.1h0M1918.8 1290.4h0M1919.7 1286.4h0M1920.6 1286.1h0M1921.5 1285.2h0M1922.3 1284.6h0M1923.2 1286.7h0M1924.1 1285.5h0M1924.9 1285.6h0M1925.8 1281.2h0M1926.6 1281.2h0M1927.5 1282.6h0M1928.3 1278.6h0M1929.2 1282.7h0M1930 1281h0M1930.9 1281.2h0M1931.7 1279.7h0M1932.6 1274.7h0M1933.4 1274.4h0M1934.2 1275.7h0M1935.1 1276.1h0M1935.9 1275.2h0M1936.7 1276.5h0M1937.6 1271.6h0M1938.4 1273.1h0M1939.2 1271.9h0M1940 1269.4h0M1940.9 1270.7h0M1941.7 1267.9h0M1942.5 1268.3h0M1943.3 1265.5h0M1944.1 1267.8h0M1944.9 1268.1h0M1945.7 1262.7h0M1946.6 1265.1h0M1947.4 1266.6h0M1948.2 1265.2h0M1949 1262.7h0M1949.8 1264.9h0M1950.6 1260.8h0M1951.3 1261.4h0M1952.1 1260.7h0M1952.9 1258.4h0M1953.7 1258.8h0M1954.5 1258.2h0M1955.3 1255.8h0M1956.1 1255.6h0M1956.9 1255.6h0M1957.6 1255.6h0M1958.4 1250.8h0M1959.2 1250.6h0M1960 1249.4h0M1960.7 1249.4h0M1961.5 1253.1h0M1962.3 1248.5h0M1963 1248.8h0M1963.8 1248.4h0M1964.6 1245.4h0M1965.3 1250h0M1966.1 1244.1h0M1966.8 1245.1h0M1967.6 1243.8h0M1968.4 1245.8h0M1969.1 1243.3h0M1969.9 1242.8h0M1970.6 1245.7h0M1971.4 1244.6h0M1972.1 1240.3h0M1972.9 1243.8h0M1973.6 1238.8h0M1974.3 1242.3h0M1975.1 1237.8h0M1975.8 1239.6h0M1976.5 1239h0M1977.3 1238.8h0M1978 1242.3h0M1978.7 1238.1h0M1979.5 1238.6h0M1980.2 1240.9h0M1980.9 1241.3h0M1981.7 1240.9h0M1982.4 1235.3h0M1983.1 1235.5h0M1983.8 1239.6h0M1984.5 1236h0M1985.2 1239.1h0M1986 1236.6h0M1986.7 1238.2h0M1987.4 1238.8h0M1988.1 1234.4h0M1988.8 1237.2h0M1989.5 1233h0M1990.2 1233.8h0M1990.9 1235.2h0M1991.6 1235.5h0M1992.3 1234.9h0M1993 1232.5h0M1993.7 1235.7h0M1994.4 1237.1h0M1995.1 1235h0M1995.8 1235.8h0M1996.5 1235.1h0M1997.2 1233.3h0M1997.9 1235.1h0M1998.6 1232.9h0M1999.3 1232.6h0M1999.9 1234.5h0M2000.6 1234.9h0M2001.3 1235.2h0M2002 1233.8h0M2002.7 1236.4h0M2003.3 1236.4h0M2004 1232.9h0M2004.7 1234.6h0M2005.4 1236.2h0M2006 1234.5h0M2006.7 1235.8h0M2007.4 1235.2h0M2008.1 1234.6h0M2008.7 1236.6h0M2009.4 1232.1h0M2010 1232.9h0M2010.7 1234.8h0M2011.4 1235.1h0M2012 1237.2h0M2012.7 1232.9h0M2013.4 1235.8h0M2014 1234.6h0M2014.7 1234h0M2015.3 1236.3h0M2016 1234.4h0M2016.6 1236.8h0M2017.3 1237.6h0M2017.9 1238.5h0M2018.6 1239.9h0M2019.2 1235.8h0M2019.9 1237.3h0M2020.5 1237.1h0M2021.1 1235.6h0M2021.8 1237.5h0M2022.4 1239.7h0M2023.1 1238.8h0M2023.7 1238h0M2024.3 1239.2h0M2025 1242.1h0M2025.6 1238.7h0M2026.2 1239.3h0M2026.9 1240.7h0M2027.5 1240.7h0M2028.1 1244.3h0M2028.7 1243.7h0M2029.4 1243.8h0M2030 1239.6h0M2030.6 1241.7h0M2031.2 1240.3h0M2031.9 1243.9h0M2032.5 1244h0M2033.1 1241.5h0M2033.7 1246.1h0M2034.3 1245.3h0M2035 1242.3h0M2035.6 1243.8h0M2036.2 1243.4h0M2036.8 1244.7h0M2037.4 1246.3h0M2038 1245h0M2038.6 1249.1h0M2039.2 1249.7h0M2039.8 1250.5h0M2040.4 1247.8h0M2041 1248.8h0M2041.7 1250.7h0M2042.3 1250.2h0M2042.9 1251.7h0M2043.5 1249.3h0M2044.1 1252.4h0M2044.7 1252h0M2045.2 1253.5h0M2045.8 1250.3h0M2046.4 1251.2h0M2047 1253.3h0M2047.6 1254.9h0M2048.2 1251.2h0M2048.8 1253.1h0M2049.4 1256.1h0M2050 1252.9h0M2050.6 1254.8h0M2051.2 1254.5h0M2051.7 1257.6h0M2052.3 1255.8h0M2052.9 1256.5h0M2053.5 1257.2h0M2054.1 1258.3h0M2054.6 1255.2h0M2055.2 1260.5h0M2055.8 1260.1h0M2056.4 1256.9h0M2057 1261.1h0M2057.5 1261.2h0M2058.1 1261.4h0M2058.7 1261.3h0M2059.2 1260.2h0M2059.8 1263.8h0M2060.4 1260h0M2061 1262.3h0M2061.5 1265h0M2062.1 1261.6h0M2062.7 1261.3h0M2063.2 1260.9h0M2063.8 1265.6h0M2064.3 1266.2h0M2064.9 1265.1h0M2065.5 1263.4h0M2066 1268.1h0M2066.6 1264.5h0M2067.1 1269.4h0M2067.7 1269.4h0M2068.3 1267.3h0M2068.8 1266.2h0M2069.4 1265.7h0M2069.9 1272h0M2070.5 1267.1h0M2071 1272.5h0M2071.6 1273.2h0M2072.1 1273.9h0M2072.7 1273h0M2073.2 1273.9h0M2073.8 1271.2h0M2074.3 1274.5h0M2074.9 1272.6h0M2075.4 1272h0M2075.9 1271.7h0M2076.5 1277.4h0M2077 1277h0M2077.6 1274.1h0M2078.1 1276.9h0M2078.6 1279.6h0M2079.2 1275.4h0M2079.7 1278h0M2080.3 1279.4h0M2080.8 1278.8h0M2081.3 1278.4h0M2081.9 1282.4h0M2082.4 1280.1h0M2082.9 1283.4h0M2083.5 1279.2h0M2084 1283.4h0M2084.5 1281h0M2085 1283.1h0M2085.6 1285h0M2086.1 1283.9h0M2086.6 1283.8h0M2087.1 1287.2h0M2087.7 1283.3h0M2088.2 1288.4h0M2088.7 1288.5h0M2089.2 1286.3h0M2089.8 1288.7h0M2090.3 1291.7h0M2090.8 1287.9h0M2091.3 1291.9h0M2091.8 1293h0M2092.4 1288.5h0M2092.9 1289.8h0M2093.4 1292.5h0M2093.9 1291.2h0M2094.4 1290.5h0M2094.9 1296.2h0M2095.4 1292.9h0M2095.9 1295.9h0M2096.5 1292.7h0M2097 1296.6h0M2097.5 1296.7h0M2098 1296.7h0M2098.5 1298.4h0M2099 1299.9h0M2099.5 1299.8h0M2100 1300.2h0M2100.5 1300.6h0M2101 1302.4h0M2101.5 1299.5h0M2102 1302.7h0M2102.5 1299.2h0M2103 1302.5h0M2103.8 1305.6h0M2104.5 1306.6h0M2105.3 1303.2h0M2106 1307.2h0M2106.7 1305.6h0M2107.5 1310.3h0M2108.2 1306.9h0M2109 1311.7h0M2109.7 1307.6h0M2110.4 1313.8h0M2111.2 1311.3h0M2111.9 1315.6h0M2112.6 1316.6h0M2113.3 1312h0M2114.1 1315.1h0M2114.8 1314.5h0M2115.5 1319.9h0M2116.2 1315.1h0M2117 1316.7h0M2117.7 1320.2h0M2118.4 1318.1h0M2119.1 1321.5h0M2119.8 1324.7h0M2120.5 1321.7h0M2121.2 1323.7h0M2121.9 1324.3h0M2122.7 1328.6h0M2123.4 1329.4h0M2124.1 1327.1h0M2124.8 1327.5h0M2125.5 1328.8h0M2126.2 1331.6h0M2126.9 1329.7h0M2127.6 1329.2h0M2128.3 1330.5h0M2128.9 1332.6h0M2129.6 1336.5h0M2130.3 1337.8h0M2131 1334.2h0M2131.7 1338.4h0M2132.4 1341h0M2132.8 1338.6h0" stroke="#c0c0c0" stroke-width="22" stroke-linecap="square" fill="none"/>
<path d="M338.4 128l14.3 14.3 -14.3 14.3 -14.3 -14.3zM388.7 200l14.3 14.3 -14.3 14.3 -14.3 -14.3zM432.3 260.7l14.3 14.3 -14.3 14.3 -14.3 -14.3zM470.8 312.3l14.3 14.3 -14.3 14.3 -14.3 -14.3zM505.3 358.1l14.3 14.3 -14.3 14.3 -14.3 -14.3zM536.5 399.9l14.3 14.3 -14.3 14.3 -14.3 -14.3zM564.9 436.7l14.3 14.3 -14.3 14.3 -14.3 -14.3zM591.1 468.1l14.3 14.3 -14.3 14.3 -14.3 -14.3zM615.4 500.5l14.3 14.3 -14.3 14.3 -14.3 -14.3zM637.9 528.9l14.3 14.3 -14.3 14.3 -14.3 -14.3zM659.1 555.8l14.3 14.3 -14.3 14.3 -14.3 -14.3zM678.9 580.7l14.3 14.3 -14.3 14.3 -14.3 -14.3zM697.6 605l14.3 14.3 -14.3 14.3 -14.3 -14.3zM715.3 625.5l14.3 14.3 -14.3 14.3 -14.3 -14.3zM732.1 647.4l14.3 14.3 -14.3 14.3 -14.3 -14.3zM748.1 667.3l14.3 14.3 -14.3 14.3 -14.3 -14.3zM763.3 686.2l14.3 14.3 -14.3 14.3 -14.3 -14.3zM777.9 705.1l14.3 14.3 -14.3 14.3 -14.3 -14.3zM791.8 723.5l14.3 14.3 -14.3 14.3 -14.3 -14.3zM805.2 741.1l14.3 14.3 -14.3 14.3 -14.3 -14.3zM818 757.9l14.3 14.3 -14.3 14.3 -14.3 -14.3zM830.4 774.1l14.3 14.3 -14.3 14.3 -14.3 -14.3zM842.3 789.7l14.3 14.3 -14.3 14.3 -14.3 -14.3zM853.8 804.7l14.3 14.3 -14.3 14.3 -14.3 -14.3zM864.9 819.2l14.3 14.3 -14.3 14.3 -14.3 -14.3zM875.6 833.2l14.3 14.3 -14.3 14.3 -14.3 -14.3zM886 846.8l14.3 14.3 -14.3 14.3 -14.3 -14.3zM896.1 860l14.3 14.3 -14.3 14.3 -14.3 -14.3zM905.9 872.9l14.3 14.3 -14.3 14.3 -14.3 -14.3zM915.4 885.3l14.3 14.3 -14.3 14.3 -14.3 -14.3zM924.6 897.3l14.3 14.3 -14.3 14.3 -14.3 -14.3zM933.6 909l14.3 14.3 -14.3 14.3 -14.3 -14.3zM942.3 920.3l14.3 14.3 -14.3 14.3 -14.3 -14.3zM950.8 931.4l14.3 14.3 -14.3 14.3 -14.3 -14.3zM959.1 942.1l14.3 14.3 -14.3 14.3 -14.3 -14.3zM967.2 952.5l14.3 14.3 -14.3 14.3 -14.3 -14.3zM975.1 962.4l14.3 14.3 -14.3 14.3 -14.3 -14.3zM982.8 972.1l14.3 14.3 -14.3 14.3 -14.3 -14.3zM990.3 981.6l14.3 14.3 -14.3 14.3 -14.3 -14.3zM997.7 990.6l14.3 14.3 -14.3 14.3 -14.3 -14.3zM1004.9 998.6l14.3 14.3 -14.3 14.3 -14.3 -14.3zM1011.9 1005.6l14.3 14.3 -14.3 14.3 -14.3 -14.3zM1018.8 1011.9l14.3 14.3 -14.3 14.3 -14.3 -14.3zM1025.6 1017.8l14.3 14.3 -14.3 14.3 -14.3 -14.3zM1032.2 1023.2l14.3 14.3 -14.3 14.3 -14.3 -14.3zM1038.7 1028.2l14.3 14.3 -14.3 14.3 -14.3 -14.3zM1045.1 1033.2l14.3 14.3 -14.3 14.3 -14.3 -14.3zM1051.3 1039l14.3 14.3 -14.3 14.3 -14.3 -14.3zM1057.4 1045l14.3 14.3 -14.3 14.3 -14.3 -14.3zM1063.4 1050.7l14.3 14.3 -14.3 14.3 -14.3 -14.3zM1069.3 1056.1l14.3 14.3 -14.3 14.3 -14.3 -14.3zM1075.1 1060.8l14.3 14.3 -14.3 14.3 -14.3 -14.3zM1080.8 1066.9l14.3 14.3 -14.3 14.3 -14.3 -14.3zM1086.4 1073.5l14.3 14.3 -14.3 14.3 -14.3 -14.3zM1091.9 1081.1l14.3 14.3 -14.3 14.3 -14.3 -14.3zM1097.4 1087.8l14.3 14.3 -14.3 14.3 -14.3 -14.3zM1102.7 1094.2l14.3 14.3 -14.3 14.3 -14.3 -14.3zM1107.9 1100.2l14.3 14.3 -14.3 14.3 -14.3 -14.3zM1113.1 1106.5l14.3 14.3 -14.3 14.3 -14.3 -14.3zM1118.2 1111.6l14.3 14.3 -14.3 14.3 -14.3 -14.3zM1123.2 1117l14.3 14.3 -14.3 14.3 -14.3 -14.3zM1128.1 1122.5l14.3 14.3 -14.3 14.3 -14.3 -14.3zM1133 1127.3l14.3 14.3 -14.3 14.3 -14.3 -14.3zM1137.7 1131.6l14.3 14.3 -14.3 14.3 -14.3 -14.3zM1142.4 1136l14.3 14.3 -14.3 14.3 -14.3 -14.3zM1147.1 1140.7l14.3 14.3 -14.3 14.3 -14.3 -14.3zM1151.7 1144.1l14.3 14.3 -14.3 14.3 -14.3 -14.3zM1156.2 1148.4l14.3 14.3 -14.3 14.3 -14.3 -14.3zM1160.7 1152.7l14.3 14.3 -14.3 14.3 -14.3 -14.3zM1165.1 1156.5l14.3 14.3 -14.3 14.3 -14.3 -14.3zM1169.4 1159.1l14.3 14.3 -14.3 14.3 -14.3 -14.3zM1173.7 1162.1l14.3 14.3 -14.3 14.3 -14.3 -14.3zM1177.9 1165.6l14.3 14.3 -14.3 14.3 -14.3 -14.3zM1182.1 1167.8l14.3 14.3 -14.3 14.3 -14.3 -14.3zM1186.2 1169.6l14.3 14.3 -14.3 14.3 -14.3 -14.3zM1190.3 1171.9l14.3 14.3 -14.3 14.3 -14.3 -14.3zM1194.3 1173.3l14.3 14.3 -14.3 14.3 -14.3 -14.3zM1198.3 1176l14.3 14.3 -14.3 14.3 -14.3 -14.3zM1202.2 1177.6l14.3 14.3 -14.3 14.3 -14.3 -14.3zM1206.1 1179.6l14.3 14.3 -14.3 14.3 -14.3 -14.3zM1209.9 1180.5l14.3 14.3 -14.3 14.3 -14.3 -14.3zM1213.7 1182.9l14.3 14.3 -14.3 14.3 -14.3 -14.3zM1217.4 1184l14.3 14.3 -14.3 14.3 -14.3 -14.3zM1221.1 1185.7l14.3 14.3 -14.3 14.3 -14.3 -14.3zM1224.8 1187l14.3 14.3 -14.3 14.3 -14.3 -14.3zM1228.4 1188.9l14.3 14.3 -14.3 14.3 -14.3 -14.3zM1232 1190.2l14.3 14.3 -14.3 14.3 -14.3 -14.3zM1235.5 1191.7l14.3 14.3 -14.3 14.3 -14.3 -14.3zM1239.1 1192.3l14.3 14.3 -14.3 14.3 -14.3 -14.3zM1242.5 1194l14.3 14.3 -14.3 14.3 -14.3 -14.3zM1246 1195.2l14.3 14.3 -14.3 14.3 -14.3 -14.3zM1249.3 1197.2l14.3 14.3 -14.3 14.3 -14.3 -14.3zM1252.7 1198.9l14.3 14.3 -14.3 14.3 -14.3 -14.3zM1256 1199.8l14.3 14.3 -14.3 14.3 -14.3 -14.3zM1259.3 1202.4l14.3 14.3 -14.3 14.3 -14.3 -14.3zM1262.6 1203.7l14.3 14.3 -14.3 14.3 -14.3 -14.3zM1265.8 1205.4l14.3 14.3 -14.3 14.3 -14.3 -14.3zM1269 1207.2l14.3 14.3 -14.3 14.3 -14.3 -14.3zM1272.2 1209.4l14.3 14.3 -14.3 14.3 -14.3 -14.3zM1275.3 1210.4l14.3 14.3 -14.3 14.3 -14.3 -14.3zM1278.4 1211l14.3 14.3 -14.3 14.3 -14.3 -14.3zM1281.5 1212.7l14.3 14.3 -14.3 14.3 -14.3 -14.3zM1284.5 1215.2l14.3 14.3 -14.3 14.3 -14.3 -14.3zM1287.6 1215.9l14.3 14.3 -14.3 14.3 -14.3 -14.3zM1290.6 1218.1l14.3 14.3 -14.3 14.3 -14.3 -14.3zM1293.5 1219l14.3 14.3 -14.3 14.3 -14.3 -14.3zM1296.5 1220.1l14.3 14.3 -14.3 14.3 -14.3 -14.3zM1299.4 1222.1l14.3 14.3 -14.3 14.3 -14.3 -14.3zM1302.3 1222.4l14.3 14.3 -14.3 14.3 -14.3 -14.3zM1305.1 1223.8l14.3 14.3 -14.3 14.3 -14.3 -14.3zM1308 1225.1l14.3 14.3 -14.3 14.3 -14.3 -14.3zM1310.8 1226.6l14.3 14.3 -14.3 14.3 -14.3 -14.3zM1313.6 1228.7l14.3 14.3 -14.3 14.3 -14.3 -14.3zM1316.3 1229.6l14.3 14.3 -14.3 14.3 -14.3 -14.3zM1319.1 1230.7l14.3 14.3 -14.3 14.3 -14.3 -14.3zM1321.8 1231.3l14.3 14.3 -14.3 14.3 -14.3 -14.3zM1324.5 1230.9l14.3 14.3 -14.3 14.3 -14.3 -14.3zM1327.2 1232.3l14.3 14.3 -14.3 14.3 -14.3 -14.3zM1329.8 1233.6l14.3 14.3 -14.3 14.3 -14.3 -14.3zM1332.5 1235.3l14.3 14.3 -14.3 14.3 -14.3 -14.3zM1335.1 1235l14.3 14.3 -14.3 14.3 -14.3 -14.3zM1337.7 1236.2l14.3 14.3 -14.3 14.3 -14.3 -14.3zM1340.2 1237.6l14.3 14.3 -14.3 14.3 -14.3 -14.3zM1342.8 1237.3l14.3 14.3 -14.3 14.3 -14.3 -14.3zM1345.3 1238.8l14.3 14.3 -14.3 14.3 -14.3 -14.3zM1347.8 1239.2l14.3 14.3 -14.3 14.3 -14.3 -14.3zM1350.3 1239.7l14.3 14.3 -14.3 14.3 -14.3 -14.3zM1352.8 1240.5l14.3 14.3 -14.3 14.3 -14.3 -14.3zM1355.2 1240.8l14.3 14.3 -14.3 14.3 -14.3 -14.3zM1357.7 1240.6l14.3 14.3 -14.3 14.3 -14.3 -14.3zM1360.1 1242.6l14.3 14.3 -14.3 14.3 -14.3 -14.3zM1362.5 1243.1l14.3 14.3 -14.3 14.3 -14.3 -14.3zM1364.9 1243.2l14.3 14.3 -14.3 14.3 -14.3 -14.3zM1367.2 1242.6l14.3 14.3 -14.3 14.3 -14.3 -14.3zM1369.6 1243.4l14.3 14.3 -14.3 14.3 -14.3 -14.3zM1371.9 1243.9l14.3 14.3 -14.3 14.3 -14.3 -14.3zM1374.2 1242.7l14.3 14.3 -14.3 14.3 -14.3 -14.3zM1376.5 1244.3l14.3 14.3 -14.3 14.3 -14.3 -14.3zM1378.8 1243l14.3 14.3 -14.3 14.3 -14.3 -14.3zM1381.1 1244.9l14.3 14.3 -14.3 14.3 -14.3 -14.3zM1383.3 1243.6l14.3 14.3 -14.3 14.3 -14.3 -14.3zM1385.6 1245.2l14.3 14.3 -14.3 14.3 -14.3 -14.3zM1387.8 1243.9l14.3 14.3 -14.3 14.3 -14.3 -14.3zM1390 1244.6l14.3 14.3 -14.3 14.3 -14.3 -14.3zM1392.2 1245.3l14.3 14.3 -14.3 14.3 -14.3 -14.3zM1394.4 1245.8l14.3 14.3 -14.3 14.3 -14.3 -14.3zM1396.5 1245.4l14.3 14.3 -14.3 14.3 -14.3 -14.3zM1398.7 1245.9l14.3 14.3 -14.3 14.3 -14.3 -14.3zM1400.8 1245.2l14.3 14.3 -14.3 14.3 -14.3 -14.3zM1403 1246.2l14.3 14.3 -14.3 14.3 -14.3 -14.3zM1405.1 1245.8l14.3 14.3 -14.3 14.3 -14.3 -14.3zM1407.2 1247.4l14.3 14.3 -14.3 14.3 -14.3 -14.3zM1409.2 1247.7l14.3 14.3 -14.3 14.3 -14.3 -14.3zM1411.3 1247.6l14.3 14.3 -14.3 14.3 -14.3 -14.3zM1413.4 1249.1l14.3 14.3 -14.3 14.3 -14.3 -14.3zM1415.4 1248.5l14.3 14.3 -14.3 14.3 -14.3 -14.3zM1417.4 1251l14.3 14.3 -14.3 14.3 -14.3 -14.3zM1419.4 1251.4l14.3 14.3 -14.3 14.3 -14.3 -14.3zM1421.5 1251.6l14.3 14.3 -14.3 14.3 -14.3 -14.3zM1423.4 1253.1l14.3 14.3 -14.3 14.3 -14.3 -14.3zM1425.4 1254.2l14.3 14.3 -14.3 14.3 -14.3 -14.3zM1427.4 1254.7l14.3 14.3 -14.3 14.3 -14.3 -14.3zM1429.3 1256l14.3 14.3 -14.3 14.3 -14.3 -14.3zM1431.3 1255.8l14.3 14.3 -14.3 14.3 -14.3 -14.3zM1433.2 1256.3l14.3 14.3 -14.3 14.3 -14.3 -14.3zM1435.1 1256.9l14.3 14.3 -14.3 14.3 -14.3 -14.3zM1437.1 1257.2l14.3 14.3 -14.3 14.3 -14.3 -14.3zM1439 1258l14.3 14.3 -14.3 14.3 -14.3 -14.3zM1440.8 1258.8l14.3 14.3 -14.3 14.3 -14.3 -14.3zM1442.7 1259.3l14.3 14.3 -14.3 14.3 -14.3 -14.3zM1444.6 1259.1l14.3 14.3 -14.3 14.3 -14.3 -14.3zM1446.5 1259.6l14.3 14.3 -14.3 14.3 -14.3 -14.3zM1448.3 1260.2l14.3 14.3 -14.3 14.3 -14.3 -14.3zM1450.1 1259.8l14.3 14.3 -14.3 14.3 -14.3 -14.3zM1452 1258.8l14.3 14.3 -14.3 14.3 -14.3 -14.3zM1453.8 1260.1l14.3 14.3 -14.3 14.3 -14.3 -14.3zM1455.6 1259.1l14.3 14.3 -14.3 14.3 -14.3 -14.3zM1457.4 1260.6l14.3 14.3 -14.3 14.3 -14.3 -14.3zM1459.2 1261.4l14.3 14.3 -14.3 14.3 -14.3 -14.3zM1460.9 1260.5l14.3 14.3 -14.3 14.3 -14.3 -14.3zM1462.7 1261.6l14.3 14.3 -14.3 14.3 -14.3 -14.3zM1464.5 1259.9l14.3 14.3 -14.3 14.3 -14.3 -14.3zM1466.2 1261.9l14.3 14.3 -14.3 14.3 -14.3 -14.3zM1468 1260.5l14.3 14.3 -14.3 14.3 -14.3 -14.3zM1469.7 1261.9l14.3 14.3 -14.3 14.3 -14.3 -14.3zM1471.4 1261l14.3 14.3 -14.3 14.3 -14.3 -14.3zM1473.1 1261.3l14.3 14.3 -14.3 14.3 -14.3 -14.3zM1474.8 1260.9l14.3 14.3 -14.3 14.3 -14.3 -14.3zM1476.5 1260.8l14.3 14.3 -14.3 14.3 -14.3 -14.3zM1478.2 1262.3l14.3 14.3 -14.3 14.3 -14.3 -14.3zM1479.9 1262.4l14.3 14.3 -14.3 14.3 -14.3 -14.3zM1481.5 1261.3l14.3 14.3 -14.3 14.3 -14.3 -14.3zM1483.2 1262.4l14.3 14.3 -14.3 14.3 -14.3 -14.3zM1484.8 1261.7l14.3 14.3 -14.3 14.3 -14.3 -14.3zM1486.5 1263.1l14.3 14.3 -14.3 14.3 -14.3 -14.3zM1488.1 1261.7l14.3 14.3 -14.3 14.3 -14.3 -14.3zM1489.8 1262.7l14.3 14.3 -14.3 14.3 -14.3 -14.3zM1491.4 1263.3l14.3 14.3 -14.3 14.3 -14.3 -14.3zM1493 1262.7l14.3 14.3 -14.3 14.3 -14.3 -14.3zM1494.6 1263.1l14.3 14.3 -14.3 14.3 -14.3 -14.3zM1496.2 1263.4l14.3 14.3 -14.3 14.3 -14.3 -14.3zM1497.8 1263.3l14.3 14.3 -14.3 14.3 -14.3 -14.3zM1499.3 1263.6l14.3 14.3 -14.3 14.3 -14.3 -14.3zM1500.9 1262.5l14.3 14.3 -14.3 14.3 -14.3 -14.3zM1502.5 1263.9l14.3 14.3 -14.3 14.3 -14.3 -14.3zM1504 1263.2l14.3 14.3 -14.3 14.3 -14.3 -14.3zM1505.6 1264.1l14.3 14.3 -14.3 14.3 -14.3 -14.3zM1507.1 1263.7l14.3 14.3 -14.3 14.3 -14.3 -14.3zM1508.7 1263.9l14.3 14.3 -14.3 14.3 -14.3 -14.3zM1510.2 1264.4l14.3 14.3 -14.3 14.3 -14.3 -14.3zM1511.7 1262.7l14.3 14.3 -14.3 14.3 -14.3 -14.3zM1513.2 1264.3l14.3 14.3 -14.3 14.3 -14.3 -14.3zM1514.7 1263.2l14.3 14.3 -14.3 14.3 -14.3 -14.3zM1516.2 1264.4l14.3 14.3 -14.3 14.3 -14.3 -14.3zM1517.7 1263.2l14.3 14.3 -14.3 14.3 -14.3 -14.3zM1519.2 1263.8l14.3 14.3 -14.3 14.3 -14.3 -14.3zM1520.7 1263.2l14.3 14.3 -14.3 14.3 -14.3 -14.3zM1522.2 1264.6l14.3 14.3 -14.3 14.3 -14.3 -14.3zM1523.6 1263.6l14.3 14.3 -14.3 14.3 -14.3 -14.3zM1525.1 1264l14.3 14.3 -14.3 14.3 -14.3 -14.3zM1526.5 1264.7l14.3 14.3 -14.3 14.3 -14.3 -14.3zM1528 1263.9l14.3 14.3 -14.3 14.3 -14.3 -14.3zM1529.4 1265l14.3 14.3 -14.3 14.3 -14.3 -14.3zM1530.9 1264.3l14.3 14.3 -14.3 14.3 -14.3 -14.3zM1532.3 1265.2l14.3 14.3 -14.3 14.3 -14.3 -14.3zM1533.7 1264.9l14.3 14.3 -14.3 14.3 -14.3 -14.3zM1535.1 1265.3l14.3 14.3 -14.3 14.3 -14.3 -14.3zM1536.5 1264.8l14.3 14.3 -14.3 14.3 -14.3 -14.3zM1537.9 1264l14.3 14.3 -14.3 14.3 -14.3 -14.3zM1539.3 1264.5l14.3 14.3 -14.3 14.3 -14.3 -14.3zM1540.7 1265.3l14.3 14.3 -14.3 14.3 -14.3 -14.3zM1542.1 1265.3l14.3 14.3 -14.3 14.3 -14.3 -14.3zM1543.5 1264l14.3 14.3 -14.3 14.3 -14.3 -14.3zM1544.9 1264l14.3 14.3 -14.3 14.3 -14.3 -14.3zM1546.2 1264l14.3 14.3 -14.3 14.3 -14.3 -14.3zM1547.6 1264.8l14.3 14.3 -14.3 14.3 -14.3 -14.3zM1549 1263.9l14.3 14.3 -14.3 14.3 -14.3 -14.3zM1550.3 1264.9l14.3 14.3 -14.3 14.3 -14.3 -14.3zM1551.7 1264l14.3 14.3 -14.3 14.3 -14.3 -14.3zM1553 1264.9l14.3 14.3 -14.3 14.3 -14.3 -14.3zM1554.3 1263.6l14.3 14.3 -14.3 14.3 -14.3 -14.3zM1555.7 1264.8l14.3 14.3 -14.3 14.3 -14.3 -14.3zM1557 1263.3l14.3 14.3 -14.3 14.3 -14.3 -14.3zM1558.3 1262.5l14.3 14.3 -14.3 14.3 -14.3 -14.3zM1559.6 1262.5l14.3 14.3 -14.3 14.3 -14.3 -14.3zM1560.9 1263.5l14.3 14.3 -14.3 14.3 -14.3 -14.3zM1562.2 1261.9l14.3 14.3 -14.3 14.3 -14.3 -14.3zM1563.5 1261.8l14.3 14.3 -14.3 14.3 -14.3 -14.3zM1564.8 1262.9l14.3 14.3 -14.3 14.3 -14.3 -14.3zM1566.1 1261.4l14.3 14.3 -14.3 14.3 -14.3 -14.3zM1567.4 1261.5l14.3 14.3 -14.3 14.3 -14.3 -14.3zM1568.7 1261l14.3 14.3 -14.3 14.3 -14.3 -14.3zM1569.9 1260.5l14.3 14.3 -14.3 14.3 -14.3 -14.3zM1571.2 1261l14.3 14.3 -14.3 14.3 -14.3 -14.3zM1572.5 1258.9l14.3 14.3 -14.3 14.3 -14.3 -14.3zM1573.7 1259.3l14.3 14.3 -14.3 14.3 -14.3 -14.3zM1575 1259.1l14.3 14.3 -14.3 14.3 -14.3 -14.3zM1576.2 1259.3l14.3 14.3 -14.3 14.3 -14.3 -14.3zM1577.5 1259.1l14.3 14.3 -14.3 14.3 -14.3 -14.3zM1578.7 1257.3l14.3 14.3 -14.3 14.3 -14.3 -14.3zM1580 1257.3l14.3 14.3 -14.3 14.3 -14.3 -14.3zM1581.2 1257.3l14.3 14.3 -14.3 14.3 -14.3 -14.3zM1582.4 1257.3l14.3 14.3 -14.3 14.3 -14.3 -14.3zM1583.6 1258l14.3 14.3 -14.3 14.3 -14.3 -14.3zM1584.9 1257.7l14.3 14.3 -14.3 14.3 -14.3 -14.3zM1586.1 1258l14.3 14.3 -14.3 14.3 -14.3 -14.3zM1587.3 1256.8l14.3 14.3 -14.3 14.3 -14.3 -14.3zM1588.5 1256.7l14.3 14.3 -14.3 14.3 -14.3 -14.3zM1589.7 1256l14.3 14.3 -14.3 14.3 -14.3 -14.3zM1590.9 1257.4l14.3 14.3 -14.3 14.3 -14.3 -14.3zM1592.1 1257.3l14.3 14.3 -14.3 14.3 -14.3 -14.3zM1593.2 1257.3l14.3 14.3 -14.3 14.3 -14.3 -14.3zM1594.4 1256.7l14.3 14.3 -14.3 14.3 -14.3 -14.3zM1595.6 1256.9l14.3 14.3 -14.3 14.3 -14.3 -14.3zM1596.8 1256.2l14.3 14.3 -14.3 14.3 -14.3 -14.3zM1597.9 1256.7l14.3 14.3 -14.3 14.3 -14.3 -14.3zM1599.1 1255.6l14.3 14.3 -14.3 14.3 -14.3 -14.3zM1600.3 1256.3l14.3 14.3 -14.3 14.3 -14.3 -14.3zM1601.4 1256.2l14.3 14.3 -14.3 14.3 -14.3 -14.3zM1602.6 1255.9l14.3 14.3 -14.3 14.3 -14.3 -14.3zM1603.7 1256.2l14.3 14.3 -14.3 14.3 -14.3 -14.3zM1604.9 1255.8l14.3 14.3 -14.3 14.3 -14.3 -14.3zM1606 1254.9l14.3 14.3 -14.3 14.3 -14.3 -14.3zM1607.1 1254.4l14.3 14.3 -14.3 14.3 -14.3 -14.3zM1608.3 1254.8l14.3 14.3 -14.3 14.3 -14.3 -14.3zM1609.4 1254.5l14.3 14.3 -14.3 14.3 -14.3 -14.3zM1610.5 1255.8l14.3 14.3 -14.3 14.3 -14.3 -14.3zM1611.6 1254.9l14.3 14.3 -14.3 14.3 -14.3 -14.3zM1612.8 1255.2l14.3 14.3 -14.3 14.3 -14.3 -14.3zM1613.9 1255.5l14.3 14.3 -14.3 14.3 -14.3 -14.3zM1615 1255.1l14.3 14.3 -14.3 14.3 -14.3 -14.3zM1616.1 1255.1l14.3 14.3 -14.3 14.3 -14.3 -14.3zM1617.2 1254.3l14.3 14.3 -14.3 14.3 -14.3 -14.3zM1618.3 1254.6l14.3 14.3 -14.3 14.3 -14.3 -14.3zM1619.4 1254.8l14.3 14.3 -14.3 14.3 -14.3 -14.3zM1620.5 1253.6l14.3 14.3 -14.3 14.3 -14.3 -14.3zM1621.6 1253.9l14.3 14.3 -14.3 14.3 -14.3 -14.3zM1622.6 1254.2l14.3 14.3 -14.3 14.3 -14.3 -14.3zM1623.7 1252.5l14.3 14.3 -14.3 14.3 -14.3 -14.3zM1624.8 1251.9l14.3 14.3 -14.3 14.3 -14.3 -14.3zM1625.9 1252.3l14.3 14.3 -14.3 14.3 -14.3 -14.3zM1626.9 1252.8l14.3 14.3 -14.3 14.3 -14.3 -14.3zM1628 1251.7l14.3 14.3 -14.3 14.3 -14.3 -14.3zM1629.1 1250.6l14.3 14.3 -14.3 14.3 -14.3 -14.3zM1630.1 1251.7l14.3 14.3 -14.3 14.3 -14.3 -14.3zM1631.2 1250.2l14.3 14.3 -14.3 14.3 -14.3 -14.3zM1632.2 1249.7l14.3 14.3 -14.3 14.3 -14.3 -14.3zM1633.3 1248.5l14.3 14.3 -14.3 14.3 -14.3 -14.3zM1634.3 1248.7l14.3 14.3 -14.3 14.3 -14.3 -14.3zM1635.4 1249.2l14.3 14.3 -14.3 14.3 -14.3 -14.3zM1636.4 1247.6l14.3 14.3 -14.3 14.3 -14.3 -14.3zM1637.4 1247.7l14.3 14.3 -14.3 14.3 -14.3 -14.3zM1638.5 1247.5l14.3 14.3 -14.3 14.3 -14.3 -14.3zM1639.5 1245l14.3 14.3 -14.3 14.3 -14.3 -14.3zM1640.5 1245.8l14.3 14.3 -14.3 14.3 -14.3 -14.3zM1641.6 1244.1l14.3 14.3 -14.3 14.3 -14.3 -14.3zM1642.6 1244.3l14.3 14.3 -14.3 14.3 -14.3 -14.3zM1643.6 1244.4l14.3 14.3 -14.3 14.3 -14.3 -14.3zM1644.6 1242.8l14.3 14.3 -14.3 14.3 -14.3 -14.3zM1645.6 1243l14.3 14.3 -14.3 14.3 -14.3 -14.3zM1646.6 1241.5l14.3 14.3 -14.3 14.3 -14.3 -14.3zM1647.6 1241.5l14.3 14.3 -14.3 14.3 -14.3 -14.3zM1648.6 1241.2l14.3 14.3 -14.3 14.3 -14.3 -14.3zM1649.6 1240.3l14.3 14.3 -14.3 14.3 -14.3 -14.3zM1650.6 1239.3l14.3 14.3 -14.3 14.3 -14.3 -14.3zM1651.6 1239.6l14.3 14.3 -14.3 14.3 -14.3 -14.3zM1652.6 1237.9l14.3 14.3 -14.3 14.3 -14.3 -14.3zM1653.6 1237.7l14.3 14.3 -14.3 14.3 -14.3 -14.3zM1654.6 1238.1l14.3 14.3 -14.3 14.3 -14.3 -14.3zM1655.6 1237.1l14.3 14.3 -14.3 14.3 -14.3 -14.3zM1656.5 1235.8l14.3 14.3 -14.3 14.3 -14.3 -14.3zM1657.5 1236.5l14.3 14.3 -14.3 14.3 -14.3 -14.3zM1658.5 1236.5l14.3 14.3 -14.3 14.3 -14.3 -14.3zM1659.4 1234.5l14.3 14.3 -14.3 14.3 -14.3 -14.3zM1660.4 1235.6l14.3 14.3 -14.3 14.3 -14.3 -14.3zM1661.4 1233.3l14.3 14.3 -14.3 14.3 -14.3 -14.3zM1662.3 1234.7l14.3 14.3 -14.3 14.3 -14.3 -14.3zM1663.3 1233.6l14.3 14.3 -14.3 14.3 -14.3 -14.3zM1664.2 1232.4l14.3 14.3 -14.3 14.3 -14.3 -14.3zM1665.2 1231.8l14.3 14.3 -14.3 14.3 -14.3 -14.3zM1666.1 1231.9l14.3 14.3 -14.3 14.3 -14.3 -14.3zM1667.1 1231.4l14.3 14.3 -14.3 14.3 -14.3 -14.3zM1668 1231.1l14.3 14.3 -14.3 14.3 -14.3 -14.3zM1669 1230.7l14.3 14.3 -14.3 14.3 -14.3 -14.3zM1669.9 1229.4l14.3 14.3 -14.3 14.3 -14.3 -14.3zM1670.8 1229.2l14.3 14.3 -14.3 14.3 -14.3 -14.3zM1671.8 1228.6l14.3 14.3 -14.3 14.3 -14.3 -14.3zM1672.7 1229.5l14.3 14.3 -14.3 14.3 -14.3 -14.3zM1673.6 1227.7l14.3 14.3 -14.3 14.3 -14.3 -14.3zM1674.6 1228.3l14.3 14.3 -14.3 14.3 -14.3 -14.3zM1675.5 1226.7l14.3 14.3 -14.3 14.3 -14.3 -14.3zM1676.4 1227.4l14.3 14.3 -14.3 14.3 -14.3 -14.3zM1677.3 1226.5l14.3 14.3 -14.3 14.3 -14.3 -14.3zM1678.2 1226.2l14.3 14.3 -14.3 14.3 -14.3 -14.3zM1679.1 1226.3l14.3 14.3 -14.3 14.3 -14.3 -14.3zM1680 1225l14.3 14.3 -14.3 14.3 -14.3 -14.3zM1681 1225.3l14.3 14.3 -14.3 14.3 -14.3 -14.3zM1681.9 1225.3l14.3 14.3 -14.3 14.3 -14.3 -14.3zM1682.8 1224.5l14.3 14.3 -14.3 14.3 -14.3 -14.3zM1683.7 1223.8l14.3 14.3 -14.3 14.3 -14.3 -14.3zM1684.6 1223.6l14.3 14.3 -14.3 14.3 -14.3 -14.3zM1685.5 1223.6l14.3 14.3 -14.3 14.3 -14.3 -14.3zM1686.3 1221.4l14.3 14.3 -14.3 14.3 -14.3 -14.3zM1687.2 1222.9l14.3 14.3 -14.3 14.3 -14.3 -14.3zM1688.1 1221.4l14.3 14.3 -14.3 14.3 -14.3 -14.3zM1689 1221.9l14.3 14.3 -14.3 14.3 -14.3 -14.3zM1689.9 1219.8l14.3 14.3 -14.3 14.3 -14.3 -14.3zM1690.8 1219.8l14.3 14.3 -14.3 14.3 -14.3 -14.3zM1691.6 1220l14.3 14.3 -14.3 14.3 -14.3 -14.3zM1692.5 1219.6l14.3 14.3 -14.3 14.3 -14.3 -14.3zM1693.4 1219.9l14.3 14.3 -14.3 14.3 -14.3 -14.3zM1694.3 1218.2l14.3 14.3 -14.3 14.3 -14.3 -14.3zM1695.1 1217.7l14.3 14.3 -14.3 14.3 -14.3 -14.3zM1696 1218l14.3 14.3 -14.3 14.3 -14.3 -14.3zM1696.9 1216.7l14.3 14.3 -14.3 14.3 -14.3 -14.3zM1697.7 1217.7l14.3 14.3 -14.3 14.3 -14.3 -14.3zM1698.6 1215.9l14.3 14.3 -14.3 14.3 -14.3 -14.3zM1699.4 1215l14.3 14.3 -14.3 14.3 -14.3 -14.3zM1700.3 1215.9l14.3 14.3 -14.3 14.3 -14.3 -14.3zM1701.1 1214.6l14.3 14.3 -14.3 14.3 -14.3 -14.3zM1702 1215.6l14.3 14.3 -14.3 14.3 -14.3 -14.3zM1702.8 1213.5l14.3 14.3 -14.3 14.3 -14.3 -14.3zM1703.7 1213.9l14.3 14.3 -14.3 14.3 -14.3 -14.3zM1704.5 1213.7l14.3 14.3 -14.3 14.3 -14.3 -14.3zM1705.4 1213l14.3 14.3 -14.3 14.3 -14.3 -14.3zM1706.2 1211.7l14.3 14.3 -14.3 14.3 -14.3 -14.3zM1707.1 1212.2l14.3 14.3 -14.3 14.3 -14.3 -14.3zM1707.9 1211.1l14.3 14.3 -14.3 14.3 -14.3 -14.3zM1708.7 1210.5l14.3 14.3 -14.3 14.3 -14.3 -14.3zM1709.6 1211.8l14.3 14.3 -14.3 14.3 -14.3 -14.3zM1710.4 1210.1l14.3 14.3 -14.3 14.3 -14.3 -14.3zM1711.2 1209.4l14.3 14.3 -14.3 14.3 -14.3 -14.3zM1712 1208.9l14.3 14.3 -14.3 14.3 -14.3 -14.3zM1712.9 1210.2l14.3 14.3 -14.3 14.3 -14.3 -14.3zM1713.7 1209.8l14.3 14.3 -14.3 14.3 -14.3 -14.3zM1714.5 1209.3l14.3 14.3 -14.3 14.3 -14.3 -14.3zM1715.3 1209l14.3 14.3 -14.3 14.3 -14.3 -14.3zM1716.1 1207.7l14.3 14.3 -14.3 14.3 -14.3 -14.3zM1716.9 1208l14.3 14.3 -14.3 14.3 -14.3 -14.3zM1717.7 1208l14.3 14.3 -14.3 14.3 -14.3 -14.3zM1718.6 1206.7l14.3 14.3 -14.3 14.3 -14.3 -14.3zM1719.4 1207.4l14.3 14.3 -14.3 14.3 -14.3 -14.3zM1720.2 1207.2l14.3 14.3 -14.3 14.3 -14.3 -14.3zM1721 1206.4l14.3 14.3 -14.3 14.3 -14.3 -14.3zM1721.8 1206.4l14.3 14.3 -14.3 14.3 -14.3 -14.3zM1722.6 1204.9l14.3 14.3 -14.3 14.3 -14.3 -14.3zM1723.4 1205.3l14.3 14.3 -14.3 14.3 -14.3 -14.3zM1724.2 1204.9l14.3 14.3 -14.3 14.3 -14.3 -14.3zM1724.9 1204.7l14.3 14.3 -14.3 14.3 -14.3 -14.3zM1725.7 1205.6l14.3 14.3 -14.3 14.3 -14.3 -14.3zM1726.5 1205.4l14.3 14.3 -14.3 14.3 -14.3 -14.3zM1727.3 1203.3l14.3 14.3 -14.3 14.3 -14.3 -14.3zM1728.1 1204.1l14.3 14.3 -14.3 14.3 -14.3 -14.3zM1728.9 1203.1l14.3 14.3 -14.3 14.3 -14.3 -14.3zM1729.7 1203.7l14.3 14.3 -14.3 14.3 -14.3 -14.3zM1730.4 1204.1l14.3 14.3 -14.3 14.3 -14.3 -14.3zM1731.2 1202.2l14.3 14.3 -14.3 14.3 -14.3 -14.3zM1732 1202.4l14.3 14.3 -14.3 14.3 -14.3 -14.3zM1732.8 1202l14.3 14.3 -14.3 14.3 -14.3 -14.3zM1733.5 1202.5l14.3 14.3 -14.3 14.3 -14.3 -14.3zM1734.3 1202.5l14.3 14.3 -14.3 14.3 -14.3 -14.3zM1735.1 1200.7l14.3 14.3 -14.3 14.3 -14.3 -14.3zM1735.8 1200.8l14.3 14.3 -14.3 14.3 -14.3 -14.3zM1736.6 1200.9l14.3 14.3 -14.3 14.3 -14.3 -14.3zM1737.4 1201.8l14.3 14.3 -14.3 14.3 -14.3 -14.3zM1738.1 1201.2l14.3 14.3 -14.3 14.3 -14.3 -14.3zM1738.9 1200.7l14.3 14.3 -14.3 14.3 -14.3 -14.3zM1739.7 1201.2l14.3 14.3 -14.3 14.3 -14.3 -14.3zM1740.4 1199.8l14.3 14.3 -14.3 14.3 -14.3 -14.3zM1741.2 1200.5l14.3 14.3 -14.3 14.3 -14.3 -14.3zM1741.9 1199.2l14.3 14.3 -14.3 14.3 -14.3 -14.3zM1742.7 1199l14.3 14.3 -14.3 14.3 -14.3 -14.3zM1743.4 1200.1l14.3 14.3 -14.3 14.3 -14.3 -14.3zM1744.2 1199.8l14.3 14.3 -14.3 14.3 -14.3 -14.3zM1744.9 1199.2l14.3 14.3 -14.3 14.3 -14.3 -14.3zM1745.7 1198.1l14.3 14.3 -14.3 14.3 -14.3 -14.3zM1746.4 1198.3l14.3 14.3 -14.3 14.3 -14.3 -14.3zM1747.1 1199.4l14.3 14.3 -14.3 14.3 -14.3 -14.3zM1747.9 1198.3l14.3 14.3 -14.3 14.3 -14.3 -14.3zM1748.6 1197.4l14.3 14.3 -14.3 14.3 -14.3 -14.3zM1749.4 1197.7l14.3 14.3 -14.3 14.3 -14.3 -14.3zM1750.1 1198.3l14.3 14.3 -14.3 14.3 -14.3 -14.3zM1750.8 1198.7l14.3 14.3 -14.3 14.3 -14.3 -14.3zM1751.5 1197.8l14.3 14.3 -14.3 14.3 -14.3 -14.3zM1752.3 1197.4l14.3 14.3 -14.3 14.3 -14.3 -14.3zM1753 1198.4l14.3 14.3 -14.3 14.3 -14.3 -14.3zM1753.7 1197.4l14.3 14.3 -14.3 14.3 -14.3 -14.3zM1754.5 1197.3l14.3 14.3 -14.3 14.3 -14.3 -14.3zM1755.2 1197.9l14.3 14.3 -14.3 14.3 -14.3 -14.3zM1755.9 1197.7l14.3 14.3 -14.3 14.3 -14.3 -14.3zM1756.6 1198.4l14.3 14.3 -14.3 14.3 -14.3 -14.3zM1757.3 1197.6l14.3 14.3 -14.3 14.3 -14.3 -14.3zM1758.1 1198l14.3 14.3 -14.3 14.3 -14.3 -14.3zM1758.8 1197.7l14.3 14.3 -14.3 14.3 -14.3 -14.3zM1759.5 1198.1l14.3 14.3 -14.3 14.3 -14.3 -14.3zM1760.2 1198.6l14.3 14.3 -14.3 14.3 -14.3 -14.3zM1760.9 1197.1l14.3 14.3 -14.3 14.3 -14.3 -14.3zM1761.6 1198.7l14.3 14.3 -14.3 14.3 -14.3 -14.3zM1762.3 1198.8l14.3 14.3 -14.3 14.3 -14.3 -14.3zM1763 1197.8l14.3 14.3 -14.3 14.3 -14.3 -14.3zM1763.7 1197.1l14.3 14.3 -14.3 14.3 -14.3 -14.3zM1764.4 1198.1l14.3 14.3 -14.3 14.3 -14.3 -14.3zM1765.1 1198.6l14.3 14.3 -14.3 14.3 -14.3 -14.3zM1765.8 1197.7l14.3 14.3 -14.3 14.3 -14.3 -14.3zM1766.5 1197.8l14.3 14.3 -14.3 14.3 -14.3 -14.3zM1767.2 1198.2l14.3 14.3 -14.3 14.3 -14.3 -14.3zM1767.9 1199.4l14.3 14.3 -14.3 14.3 -14.3 -14.3zM1768.6 1198.9l14.3 14.3 -14.3 14.3 -14.3 -14.3zM1769.3 1199.2l14.3 14.3 -14.3 14.3 -14.3 -14.3zM1770 1199.1l14.3 14.3 -14.3 14.3 -14.3 -14.3zM1770.7 1199.4l14.3 14.3 -14.3 14.3 -14.3 -14.3zM1771.4 1199.1l14.3 14.3 -14.3 14.3 -14.3 -14.3zM1772.1 1199.3l14.3 14.3 -14.3 14.3 -14.3 -14.3zM1772.7 1198.6l14.3 14.3 -14.3 14.3 -14.3 -14.3zM1773.4 1200.6l14.3 14.3 -14.3 14.3 -14.3 -14.3zM1774.1 1199l14.3 14.3 -14.3 14.3 -14.3 -14.3zM1774.8 1200.5l14.3 14.3 -14.3 14.3 -14.3 -14.3zM1775.5 1200.2l14.3 14.3 -14.3 14.3 -14.3 -14.3zM1776.2 1200.6l14.3 14.3 -14.3 14.3 -14.3 -14.3zM1776.8 1200.3l14.3 14.3 -14.3 14.3 -14.3 -14.3zM1777.5 1200.5l14.3 14.3 -14.3 14.3 -14.3 -14.3zM1778.2 1200.2l14.3 14.3 -14.3 14.3 -14.3 -14.3zM1778.9 1199.9l14.3 14.3 -14.3 14.3 -14.3 -14.3zM1779.5 1201.1l14.3 14.3 -14.3 14.3 -14.3 -14.3zM1780.2 1201.2l14.3 14.3 -14.3 14.3 -14.3 -14.3zM1780.9 1200.8l14.3 14.3 -14.3 14.3 -14.3 -14.3zM1781.5 1202.2l14.3 14.3 -14.3 14.3 -14.3 -14.3zM1782.2 1202.3l14.3 14.3 -14.3 14.3 -14.3 -14.3zM1782.9 1201.4l14.3 14.3 -14.3 14.3 -14.3 -14.3zM1783.5 1201.7l14.3 14.3 -14.3 14.3 -14.3 -14.3zM1784.2 1201.4l14.3 14.3 -14.3 14.3 -14.3 -14.3zM1784.8 1202.6l14.3 14.3 -14.3 14.3 -14.3 -14.3zM1785.5 1201.7l14.3 14.3 -14.3 14.3 -14.3 -14.3zM1786.2 1202.1l14.3 14.3 -14.3 14.3 -14.3 -14.3zM1786.8 1203.5l14.3 14.3 -14.3 14.3 -14.3 -14.3zM1787.5 1202.1l14.3 14.3 -14.3 14.3 -14.3 -14.3zM1788.1 1203.7l14.3 14.3 -14.3 14.3 -14.3 -14.3zM1788.8 1203.2l14.3 14.3 -14.3 14.3 -14.3 -14.3zM1789.4 1202.7l14.3 14.3 -14.3 14.3 -14.3 -14.3zM1790.1 1204.1l14.3 14.3 -14.3 14.3 -14.3 -14.3zM1790.7 1203.8l14.3 14.3 -14.3 14.3 -14.3 -14.3zM1791.4 1204.3l14.3 14.3 -14.3 14.3 -14.3 -14.3zM1792 1203.7l14.3 14.3 -14.3 14.3 -14.3 -14.3zM1792.7 1203.7l14.3 14.3 -14.3 14.3 -14.3 -14.3zM1793.3 1203.5l14.3 14.3 -14.3 14.3 -14.3 -14.3zM1793.9 1203.7l14.3 14.3 -14.3 14.3 -14.3 -14.3zM1794.6 1204.7l14.3 14.3 -14.3 14.3 -14.3 -14.3zM1795.2 1204.7l14.3 14.3 -14.3 14.3 -14.3 -14.3zM1795.9 1204.2l14.3 14.3 -14.3 14.3 -14.3 -14.3zM1796.5 1204.7l14.3 14.3 -14.3 14.3 -14.3 -14.3zM1797.1 1205.5l14.3 14.3 -14.3 14.3 -14.3 -14.3zM1797.8 1204.9l14.3 14.3 -14.3 14.3 -14.3 -14.3zM1798.4 1205.1l14.3 14.3 -14.3 14.3 -14.3 -14.3zM1799 1206.6l14.3 14.3 -14.3 14.3 -14.3 -14.3zM1799.7 1205.8l14.3 14.3 -14.3 14.3 -14.3 -14.3zM1800.3 1206.7l14.3 14.3 -14.3 14.3 -14.3 -14.3zM1800.9 1208l14.3 14.3 -14.3 14.3 -14.3 -14.3zM1801.6 1206.6l14.3 14.3 -14.3 14.3 -14.3 -14.3zM1802.2 1207.5l14.3 14.3 -14.3 14.3 -14.3 -14.3zM1802.8 1207.4l14.3 14.3 -14.3 14.3 -14.3 -14.3zM1803.4 1208.9l14.3 14.3 -14.3 14.3 -14.3 -14.3zM1804.1 1208.6l14.3 14.3 -14.3 14.3 -14.3 -14.3zM1804.7 1208.1l14.3 14.3 -14.3 14.3 -14.3 -14.3zM1805.3 1209.7l14.3 14.3 -14.3 14.3 -14.3 -14.3zM1805.9 1210.4l14.3 14.3 -14.3 14.3 -14.3 -14.3zM1806.5 1210.4l14.3 14.3 -14.3 14.3 -14.3 -14.3zM1807.1 1209.6l14.3 14.3 -14.3 14.3 -14.3 -14.3zM1807.8 1211.5l14.3 14.3 -14.3 14.3 -14.3 -14.3zM1808.4 1211.2l14.3 14.3 -14.3 14.3 -14.3 -14.3zM1809 1210.9l14.3 14.3 -14.3 14.3 -14.3 -14.3zM1809.6 1210.7l14.3 14.3 -14.3 14.3 -14.3 -14.3zM1810.2 1211.9l14.3 14.3 -14.3 14.3 -14.3 -14.3zM1810.8 1211.3l14.3 14.3 -14.3 14.3 -14.3 -14.3zM1811.4 1211.7l14.3 14.3 -14.3 14.3 -14.3 -14.3zM1812 1213.1l14.3 14.3 -14.3 14.3 -14.3 -14.3zM1812.6 1213.6l14.3 14.3 -14.3 14.3 -14.3 -14.3zM1813.2 1213.7l14.3 14.3 -14.3 14.3 -14.3 -14.3zM1813.9 1213.7l14.3 14.3 -14.3 14.3 -14.3 -14.3zM1814.5 1214.8l14.3 14.3 -14.3 14.3 -14.3 -14.3zM1815.1 1215.2l14.3 14.3 -14.3 14.3 -14.3 -14.3zM1815.7 1213.9l14.3 14.3 -14.3 14.3 -14.3 -14.3zM1816.3 1215.6l14.3 14.3 -14.3 14.3 -14.3 -14.3zM1816.9 1216.1l14.3 14.3 -14.3 14.3 -14.3 -14.3zM1817.5 1216l14.3 14.3 -14.3 14.3 -14.3 -14.3zM1818.1 1216l14.3 14.3 -14.3 14.3 -14.3 -14.3zM1818.6 1217l14.3 14.3 -14.3 14.3 -14.3 -14.3zM1819.2 1215.8l14.3 14.3 -14.3 14.3 -14.3 -14.3zM1819.8 1217.9l14.3 14.3 -14.3 14.3 -14.3 -14.3zM1820.4 1217.5l14.3 14.3 -14.3 14.3 -14.3 -14.3zM1821 1217.9l14.3 14.3 -14.3 14.3 -14.3 -14.3zM1821.6 1218.3l14.3 14.3 -14.3 14.3 -14.3 -14.3zM1822.2 1218.2l14.3 14.3 -14.3 14.3 -14.3 -14.3zM1822.8 1218.2l14.3 14.3 -14.3 14.3 -14.3 -14.3zM1823.4 1218.4l14.3 14.3 -14.3 14.3 -14.3 -14.3zM1824 1218.5l14.3 14.3 -14.3 14.3 -14.3 -14.3zM1824.5 1218.5l14.3 14.3 -14.3 14.3 -14.3 -14.3zM1825.1 1220.4l14.3 14.3 -14.3 14.3 -14.3 -14.3zM1825.7 1221l14.3 14.3 -14.3 14.3 -14.3 -14.3zM1826.3 1220.7l14.3 14.3 -14.3 14.3 -14.3 -14.3zM1826.9 1220.1l14.3 14.3 -14.3 14.3 -14.3 -14.3zM1827.5 1220.6l14.3 14.3 -14.3 14.3 -14.3 -14.3zM1828 1221.7l14.3 14.3 -14.3 14.3 -14.3 -14.3zM1828.6 1221.2l14.3 14.3 -14.3 14.3 -14.3 -14.3zM1829.2 1221.3l14.3 14.3 -14.3 14.3 -14.3 -14.3zM1829.8 1222.3l14.3 14.3 -14.3 14.3 -14.3 -14.3zM1830.3 1221.6l14.3 14.3 -14.3 14.3 -14.3 -14.3zM1830.9 1221.5l14.3 14.3 -14.3 14.3 -14.3 -14.3zM1831.5 1222.3l14.3 14.3 -14.3 14.3 -14.3 -14.3zM1832.1 1223.6l14.3 14.3 -14.3 14.3 -14.3 -14.3zM1832.6 1224.1l14.3 14.3 -14.3 14.3 -14.3 -14.3zM1833.2 1222.8l14.3 14.3 -14.3 14.3 -14.3 -14.3zM1833.8 1224.2l14.3 14.3 -14.3 14.3 -14.3 -14.3zM1834.3 1223.1l14.3 14.3 -14.3 14.3 -14.3 -14.3zM1834.9 1224.5l14.3 14.3 -14.3 14.3 -14.3 -14.3zM1835.5 1223.7l14.3 14.3 -14.3 14.3 -14.3 -14.3zM1836 1224.2l14.3 14.3 -14.3 14.3 -14.3 -14.3zM1836.6 1225.6l14.3 14.3 -14.3 14.3 -14.3 -14.3zM1837.2 1224.5l14.3 14.3 -14.3 14.3 -14.3 -14.3zM1837.7 1225.6l14.3 14.3 -14.3 14.3 -14.3 -14.3zM1838.3 1225.5l14.3 14.3 -14.3 14.3 -14.3 -14.3zM1838.8 1227.1l14.3 14.3 -14.3 14.3 -14.3 -14.3zM1839.4 1226.9l14.3 14.3 -14.3 14.3 -14.3 -14.3zM1840 1226.3l14.3 14.3 -14.3 14.3 -14.3 -14.3zM1840.5 1227.9l14.3 14.3 -14.3 14.3 -14.3 -14.3zM1841.1 1227.5l14.3 14.3 -14.3 14.3 -14.3 -14.3zM1841.6 1226.8l14.3 14.3 -14.3 14.3 -14.3 -14.3zM1842.2 1227.4l14.3 14.3 -14.3 14.3 -14.3 -14.3zM1842.7 1228.7l14.3 14.3 -14.3 14.3 -14.3 -14.3zM1843.3 1229.3l14.3 14.3 -14.3 14.3 -14.3 -14.3zM1843.8 1227.7l14.3 14.3 -14.3 14.3 -14.3 -14.3zM1844.4 1229l14.3 14.3 -14.3 14.3 -14.3 -14.3zM1844.9 1228.5l14.3 14.3 -14.3 14.3 -14.3 -14.3zM1845.5 1229.8l14.3 14.3 -14.3 14.3 -14.3 -14.3zM1846 1228.7l14.3 14.3 -14.3 14.3 -14.3 -14.3zM1846.6 1230.4l14.3 14.3 -14.3 14.3 -14.3 -14.3zM1847.1 1230.2l14.3 14.3 -14.3 14.3 -14.3 -14.3zM1847.7 1230.7l14.3 14.3 -14.3 14.3 -14.3 -14.3zM1848.2 1230.6l14.3 14.3 -14.3 14.3 -14.3 -14.3zM1848.7 1231.2l14.3 14.3 -14.3 14.3 -14.3 -14.3zM1849.3 1231.8l14.3 14.3 -14.3 14.3 -14.3 -14.3zM1849.8 1230.5l14.3 14.3 -14.3 14.3 -14.3 -14.3zM1850.4 1231.2l14.3 14.3 -14.3 14.3 -14.3 -14.3zM1850.9 1231.1l14.3 14.3 -14.3 14.3 -14.3 -14.3zM1851.5 1231.9l14.3 14.3 -14.3 14.3 -14.3 -14.3zM1852 1232.4l14.3 14.3 -14.3 14.3 -14.3 -14.3zM1852.5 1232.2l14.3 14.3 -14.3 14.3 -14.3 -14.3zM1853.1 1233.1l14.3 14.3 -14.3 14.3 -14.3 -14.3zM1853.6 1231.7l14.3 14.3 -14.3 14.3 -14.3 -14.3zM1854.1 1232.2l14.3 14.3 -14.3 14.3 -14.3 -14.3zM1854.7 1232.3l14.3 14.3 -14.3 14.3 -14.3 -14.3zM1855.2 1232.4l14.3 14.3 -14.3 14.3 -14.3 -14.3zM1855.7 1233.6l14.3 14.3 -14.3 14.3 -14.3 -14.3zM1856.3 1233.9l14.3 14.3 -14.3 14.3 -14.3 -14.3zM1856.8 1233.4l14.3 14.3 -14.3 14.3 -14.3 -14.3zM1857.3 1234.2l14.3 14.3 -14.3 14.3 -14.3 -14.3zM1857.8 1233.6l14.3 14.3 -14.3 14.3 -14.3 -14.3zM1858.4 1234.2l14.3 14.3 -14.3 14.3 -14.3 -14.3zM1858.9 1233.2l14.3 14.3 -14.3 14.3 -14.3 -14.3zM1859.4 1233.9l14.3 14.3 -14.3 14.3 -14.3 -14.3zM1860 1233.4l14.3 14.3 -14.3 14.3 -14.3 -14.3zM1860.5 1234.9l14.3 14.3 -14.3 14.3 -14.3 -14.3zM1861 1234.8l14.3 14.3 -14.3 14.3 -14.3 -14.3zM1861.5 1235.2l14.3 14.3 -14.3 14.3 -14.3 -14.3zM1862 1235.3l14.3 14.3 -14.3 14.3 -14.3 -14.3zM1862.6 1234.7l14.3 14.3 -14.3 14.3 -14.3 -14.3zM1863.1 1233.9l14.3 14.3 -14.3 14.3 -14.3 -14.3zM1863.6 1234.3l14.3 14.3 -14.3 14.3 -14.3 -14.3zM1864.1 1235l14.3 14.3 -14.3 14.3 -14.3 -14.3zM1864.6 1235.1l14.3 14.3 -14.3 14.3 -14.3 -14.3zM1865.2 1235.1l14.3 14.3 -14.3 14.3 -14.3 -14.3zM1865.7 1233.9l14.3 14.3 -14.3 14.3 -14.3 -14.3zM1866.2 1233.9l14.3 14.3 -14.3 14.3 -14.3 -14.3zM1866.7 1235.1l14.3 14.3 -14.3 14.3 -14.3 -14.3zM1867.2 1233.9l14.3 14.3 -14.3 14.3 -14.3 -14.3zM1867.7 1234.7l14.3 14.3 -14.3 14.3 -14.3 -14.3zM1868.2 1234.6l14.3 14.3 -14.3 14.3 -14.3 -14.3zM1868.7 1235.3l14.3 14.3 -14.3 14.3 -14.3 -14.3zM1869.3 1233.9l14.3 14.3 -14.3 14.3 -14.3 -14.3zM1869.8 1235.2l14.3 14.3 -14.3 14.3 -14.3 -14.3zM1870.3 1234.4l14.3 14.3 -14.3 14.3 -14.3 -14.3zM1870.8 1235.1l14.3 14.3 -14.3 14.3 -14.3 -14.3zM1871.3 1234l14.3 14.3 -14.3 14.3 -14.3 -14.3zM1871.8 1234.9l14.3 14.3 -14.3 14.3 -14.3 -14.3zM1872.3 1235.2l14.3 14.3 -14.3 14.3 -14.3 -14.3zM1872.8 1235.1l14.3 14.3 -14.3 14.3 -14.3 -14.3zM1873.3 1235.2l14.3 14.3 -14.3 14.3 -14.3 -14.3zM1873.8 1234.9l14.3 14.3 -14.3 14.3 -14.3 -14.3zM1874.3 1234.7l14.3 14.3 -14.3 14.3 -14.3 -14.3zM1874.8 1235l14.3 14.3 -14.3 14.3 -14.3 -14.3zM1875.3 1233.9l14.3 14.3 -14.3 14.3 -14.3 -14.3zM1875.8 1235l14.3 14.3 -14.3 14.3 -14.3 -14.3zM1876.8 1234.6l14.3 14.3 -14.3 14.3 -14.3 -14.3zM1877.8 1233.9l14.3 14.3 -14.3 14.3 -14.3 -14.3zM1878.8 1235.1l14.3 14.3 -14.3 14.3 -14.3 -14.3zM1879.8 1234.7l14.3 14.3 -14.3 14.3 -14.3 -14.3zM1880.8 1234.5l14.3 14.3 -14.3 14.3 -14.3 -14.3zM1881.8 1234.5l14.3 14.3 -14.3 14.3 -14.3 -14.3zM1882.7 1233.8l14.3 14.3 -14.3 14.3 -14.3 -14.3zM1883.7 1233.7l14.3 14.3 -14.3 14.3 -14.3 -14.3zM1884.7 1235.6l14.3 14.3 -14.3 14.3 -14.3 -14.3zM1885.7 1234.4l14.3 14.3 -14.3 14.3 -14.3 -14.3zM1886.6 1235.4l14.3 14.3 -14.3 14.3 -14.3 -14.3zM1887.6 1234.5l14.3 14.3 -14.3 14.3 -14.3 -14.3zM1888.6 1234.1l14.3 14.3 -14.3 14.3 -14.3 -14.3zM1889.5 1234.4l14.3 14.3 -14.3 14.3 -14.3 -14.3zM1890.5 1234.6l14.3 14.3 -14.3 14.3 -14.3 -14.3zM1891.4 1233.8l14.3 14.3 -14.3 14.3 -14.3 -14.3zM1892.4 1234.9l14.3 14.3 -14.3 14.3 -14.3 -14.3zM1893.3 1234.7l14.3 14.3 -14.3 14.3 -14.3 -14.3zM1894.3 1233.8l14.3 14.3 -14.3 14.3 -14.3 -14.3zM1895.2 1234.3l14.3 14.3 -14.3 14.3 -14.3 -14.3zM1896.2 1234.6l14.3 14.3 -14.3 14.3 -14.3 -14.3zM1897.1 1234.6l14.3 14.3 -14.3 14.3 -14.3 -14.3zM1898 1234.3l14.3 14.3 -14.3 14.3 -14.3 -14.3zM1899 1232.7l14.3 14.3 -14.3 14.3 -14.3 -14.3zM1899.9 1232.6l14.3 14.3 -14.3 14.3 -14.3 -14.3zM1900.8 1232.4l14.3 14.3 -14.3 14.3 -14.3 -14.3zM1901.7 1232.2l14.3 14.3 -14.3 14.3 -14.3 -14.3zM1902.7 1231.6l14.3 14.3 -14.3 14.3 -14.3 -14.3zM1903.6 1232.2l14.3 14.3 -14.3 14.3 -14.3 -14.3zM1904.5 1229.9l14.3 14.3 -14.3 14.3 -14.3 -14.3zM1905.4 1231.2l14.3 14.3 -14.3 14.3 -14.3 -14.3zM1906.3 1229.8l14.3 14.3 -14.3 14.3 -14.3 -14.3zM1907.2 1229.2l14.3 14.3 -14.3 14.3 -14.3 -14.3zM1908.1 1228.8l14.3 14.3 -14.3 14.3 -14.3 -14.3zM1909.1 1227.5l14.3 14.3 -14.3 14.3 -14.3 -14.3zM1910 1227.1l14.3 14.3 -14.3 14.3 -14.3 -14.3zM1910.9 1227.3l14.3 14.3 -14.3 14.3 -14.3 -14.3zM1911.7 1227l14.3 14.3 -14.3 14.3 -14.3 -14.3zM1912.6 1226.1l14.3 14.3 -14.3 14.3 -14.3 -14.3zM1913.5 1226l14.3 14.3 -14.3 14.3 -14.3 -14.3zM1914.4 1225.7l14.3 14.3 -14.3 14.3 -14.3 -14.3zM1915.3 1224.4l14.3 14.3 -14.3 14.3 -14.3 -14.3zM1916.2 1224.6l14.3 14.3 -14.3 14.3 -14.3 -14.3zM1917.1 1223.3l14.3 14.3 -14.3 14.3 -14.3 -14.3zM1918 1221.8l14.3 14.3 -14.3 14.3 -14.3 -14.3zM1918.8 1222.8l14.3 14.3 -14.3 14.3 -14.3 -14.3zM1919.7 1220.7l14.3 14.3 -14.3 14.3 -14.3 -14.3zM1920.6 1221.5l14.3 14.3 -14.3 14.3 -14.3 -14.3zM1921.5 1220.3l14.3 14.3 -14.3 14.3 -14.3 -14.3zM1922.3 1218.7l14.3 14.3 -14.3 14.3 -14.3 -14.3zM1923.2 1218.3l14.3 14.3 -14.3 14.3 -14.3 -14.3zM1924.1 1218.7l14.3 14.3 -14.3 14.3 -14.3 -14.3zM1924.9 1217.1l14.3 14.3 -14.3 14.3 -14.3 -14.3zM1925.8 1217.5l14.3 14.3 -14.3 14.3 -14.3 -14.3zM1926.6 1216.8l14.3 14.3 -14.3 14.3 -14.3 -14.3zM1927.5 1215.2l14.3 14.3 -14.3 14.3 -14.3 -14.3zM1928.3 1214.6l14.3 14.3 -14.3 14.3 -14.3 -14.3zM1929.2 1214.9l14.3 14.3 -14.3 14.3 -14.3 -14.3zM1930 1213.2l14.3 14.3 -14.3 14.3 -14.3 -14.3zM1930.9 1212.7l14.3 14.3 -14.3 14.3 -14.3 -14.3zM1931.7 1212.1l14.3 14.3 -14.3 14.3 -14.3 -14.3zM1932.6 1210.8l14.3 14.3 -14.3 14.3 -14.3 -14.3zM1933.4 1209.3l14.3 14.3 -14.3 14.3 -14.3 -14.3zM1934.2 1209.9l14.3 14.3 -14.3 14.3 -14.3 -14.3zM1935.1 1209.3l14.3 14.3 -14.3 14.3 -14.3 -14.3zM1935.9 1208.4l14.3 14.3 -14.3 14.3 -14.3 -14.3zM1936.7 1206.7l14.3 14.3 -14.3 14.3 -14.3 -14.3zM1937.6 1205.1l14.3 14.3 -14.3 14.3 -14.3 -14.3zM1938.4 1205.5l14.3 14.3 -14.3 14.3 -14.3 -14.3zM1939.2 1203.8l14.3 14.3 -14.3 14.3 -14.3 -14.3zM1940 1204.3l14.3 14.3 -14.3 14.3 -14.3 -14.3zM1940.9 1202.2l14.3 14.3 -14.3 14.3 -14.3 -14.3zM1941.7 1201l14.3 14.3 -14.3 14.3 -14.3 -14.3zM1942.5 1201.9l14.3 14.3 -14.3 14.3 -14.3 -14.3zM1943.3 1200.3l14.3 14.3 -14.3 14.3 -14.3 -14.3zM1944.1 1200l14.3 14.3 -14.3 14.3 -14.3 -14.3zM1944.9 1197.7l14.3 14.3 -14.3 14.3 -14.3 -14.3zM1945.7 1198.1l14.3 14.3 -14.3 14.3 -14.3 -14.3zM1946.6 1196.5l14.3 14.3 -14.3 14.3 -14.3 -14.3zM1947.4 1195.9l14.3 14.3 -14.3 14.3 -14.3 -14.3zM1948.2 1195l14.3 14.3 -14.3 14.3 -14.3 -14.3zM1949 1195.3l14.3 14.3 -14.3 14.3 -14.3 -14.3zM1949.8 1194.1l14.3 14.3 -14.3 14.3 -14.3 -14.3zM1950.6 1193.4l14.3 14.3 -14.3 14.3 -14.3 -14.3zM1951.3 1191.2l14.3 14.3 -14.3 14.3 -14.3 -14.3zM1952.1 1191l14.3 14.3 -14.3 14.3 -14.3 -14.3zM1952.9 1189.9l14.3 14.3 -14.3 14.3 -14.3 -14.3zM1953.7 1188.2l14.3 14.3 -14.3 14.3 -14.3 -14.3zM1954.5 1188l14.3 14.3 -14.3 14.3 -14.3 -14.3zM1955.3 1185.9l14.3 14.3 -14.3 14.3 -14.3 -14.3zM1956.1 1185.3l14.3 14.3 -14.3 14.3 -14.3 -14.3zM1956.9 1183.5l14.3 14.3 -14.3 14.3 -14.3 -14.3zM1957.6 1182.7l14.3 14.3 -14.3 14.3 -14.3 -14.3zM1958.4 1182.1l14.3 14.3 -14.3 14.3 -14.3 -14.3zM1959.2 1181l14.3 14.3 -14.3 14.3 -14.3 -14.3zM1960 1180l14.3 14.3 -14.3 14.3 -14.3 -14.3zM1960.7 1179.5l14.3 14.3 -14.3 14.3 -14.3 -14.3zM1961.5 1179.3l14.3 14.3 -14.3 14.3 -14.3 -14.3zM1962.3 1176.8l14.3 14.3 -14.3 14.3 -14.3 -14.3zM1963 1177.6l14.3 14.3 -14.3 14.3 -14.3 -14.3zM1963.8 1175l14.3 14.3 -14.3 14.3 -14.3 -14.3zM1964.6 1174.4l14.3 14.3 -14.3 14.3 -14.3 -14.3zM1965.3 1174.1l14.3 14.3 -14.3 14.3 -14.3 -14.3zM1966.1 1173.5l14.3 14.3 -14.3 14.3 -14.3 -14.3zM1966.8 1172.4l14.3 14.3 -14.3 14.3 -14.3 -14.3zM1967.6 1172.4l14.3 14.3 -14.3 14.3 -14.3 -14.3zM1968.4 1172.6l14.3 14.3 -14.3 14.3 -14.3 -14.3zM1969.1 1170.5l14.3 14.3 -14.3 14.3 -14.3 -14.3zM1969.9 1169.7l14.3 14.3 -14.3 14.3 -14.3 -14.3zM1970.6 1170.9l14.3 14.3 -14.3 14.3 -14.3 -14.3zM1971.4 1169.8l14.3 14.3 -14.3 14.3 -14.3 -14.3zM1972.1 1169.9l14.3 14.3 -14.3 14.3 -14.3 -14.3zM1972.9 1169.5l14.3 14.3 -14.3 14.3 -14.3 -14.3zM1973.6 1168.3l14.3 14.3 -14.3 14.3 -14.3 -14.3zM1974.3 1168.3l14.3 14.3 -14.3 14.3 -14.3 -14.3zM1975.1 1168.2l14.3 14.3 -14.3 14.3 -14.3 -14.3zM1975.8 1169.8l14.3 14.3 -14.3 14.3 -14.3 -14.3zM1976.5 1168.5l14.3 14.3 -14.3 14.3 -14.3 -14.3zM1977.3 1169.2l14.3 14.3 -14.3 14.3 -14.3 -14.3zM1978 1168.5l14.3 14.3 -14.3 14.3 -14.3 -14.3zM1978.7 1168.8l14.3 14.3 -14.3 14.3 -14.3 -14.3zM1979.5 1168.2l14.3 14.3 -14.3 14.3 -14.3 -14.3zM1980.2 1168.4l14.3 14.3 -14.3 14.3 -14.3 -14.3zM1980.9 1168.8l14.3 14.3 -14.3 14.3 -14.3 -14.3zM1981.7 1169.4l14.3 14.3 -14.3 14.3 -14.3 -14.3zM1982.4 1169.1l14.3 14.3 -14.3 14.3 -14.3 -14.3zM1983.1 1167.9l14.3 14.3 -14.3 14.3 -14.3 -14.3zM1983.8 1168.4l14.3 14.3 -14.3 14.3 -14.3 -14.3zM1984.5 1167.7l14.3 14.3 -14.3 14.3 -14.3 -14.3zM1985.2 1167.8l14.3 14.3 -14.3 14.3 -14.3 -14.3zM1986 1167.6l14.3 14.3 -14.3 14.3 -14.3 -14.3zM1986.7 1168.6l14.3 14.3 -14.3 14.3 -14.3 -14.3zM1987.4 1167.4l14.3 14.3 -14.3 14.3 -14.3 -14.3zM1988.1 1168.4l14.3 14.3 -14.3 14.3 -14.3 -14.3zM1988.8 1168.3l14.3 14.3 -14.3 14.3 -14.3 -14.3zM1989.5 1169.1l14.3 14.3 -14.3 14.3 -14.3 -14.3zM1990.2 1167.4l14.3 14.3 -14.3 14.3 -14.3 -14.3zM1990.9 1167.5l14.3 14.3 -14.3 14.3 -14.3 -14.3zM1991.6 1168l14.3 14.3 -14.3 14.3 -14.3 -14.3zM1992.3 1168.4l14.3 14.3 -14.3 14.3 -14.3 -14.3zM1993 1168.8l14.3 14.3 -14.3 14.3 -14.3 -14.3zM1993.7 1168.6l14.3 14.3 -14.3 14.3 -14.3 -14.3zM1994.4 1167.3l14.3 14.3 -14.3 14.3 -14.3 -14.3zM1995.1 1168.4l14.3 14.3 -14.3 14.3 -14.3 -14.3zM1995.8 1168.8l14.3 14.3 -14.3 14.3 -14.3 -14.3zM1996.5 1169l14.3 14.3 -14.3 14.3 -14.3 -14.3zM1997.2 1167.7l14.3 14.3 -14.3 14.3 -14.3 -14.3zM1997.9 1167.2l14.3 14.3 -14.3 14.3 -14.3 -14.3zM1998.6 1167.8l14.3 14.3 -14.3 14.3 -14.3 -14.3zM1999.3 1168.5l14.3 14.3 -14.3 14.3 -14.3 -14.3zM1999.9 1168.6l14.3 14.3 -14.3 14.3 -14.3 -14.3zM2000.6 1168.9l14.3 14.3 -14.3 14.3 -14.3 -14.3zM2001.3 1167.6l14.3 14.3 -14.3 14.3 -14.3 -14.3zM2002 1168.6l14.3 14.3 -14.3 14.3 -14.3 -14.3zM2002.7 1168.6l14.3 14.3 -14.3 14.3 -14.3 -14.3zM2003.3 1168.5l14.3 14.3 -14.3 14.3 -14.3 -14.3zM2004 1168.4l14.3 14.3 -14.3 14.3 -14.3 -14.3zM2004.7 1168.1l14.3 14.3 -14.3 14.3 -14.3 -14.3zM2005.4 1168.5l14.3 14.3 -14.3 14.3 -14.3 -14.3zM2006 1168l14.3 14.3 -14.3 14.3 -14.3 -14.3zM2006.7 1167.3l14.3 14.3 -14.3 14.3 -14.3 -14.3zM2007.4 1168.6l14.3 14.3 -14.3 14.3 -14.3 -14.3zM2008.1 1167.6l14.3 14.3 -14.3 14.3 -14.3 -14.3zM2008.7 1169.1l14.3 14.3 -14.3 14.3 -14.3 -14.3zM2009.4 1167.7l14.3 14.3 -14.3 14.3 -14.3 -14.3zM2010 1168.1l14.3 14.3 -14.3 14.3 -14.3 -14.3zM2010.7 1169.5l14.3 14.3 -14.3 14.3 -14.3 -14.3zM2011.4 1169.5l14.3 14.3 -14.3 14.3 -14.3 -14.3zM2012 1168.5l14.3 14.3 -14.3 14.3 -14.3 -14.3zM2012.7 1169.2l14.3 14.3 -14.3 14.3 -14.3 -14.3zM2013.4 1170.2l14.3 14.3 -14.3 14.3 -14.3 -14.3zM2014 1169l14.3 14.3 -14.3 14.3 -14.3 -14.3zM2014.7 1170l14.3 14.3 -14.3 14.3 -14.3 -14.3zM2015.3 1169.9l14.3 14.3 -14.3 14.3 -14.3 -14.3zM2016 1170.9l14.3 14.3 -14.3 14.3 -14.3 -14.3zM2016.6 1170.4l14.3 14.3 -14.3 14.3 -14.3 -14.3zM2017.3 1170.8l14.3 14.3 -14.3 14.3 -14.3 -14.3zM2017.9 1170.6l14.3 14.3 -14.3 14.3 -14.3 -14.3zM2018.6 1170.8l14.3 14.3 -14.3 14.3 -14.3 -14.3zM2019.2 1170.6l14.3 14.3 -14.3 14.3 -14.3 -14.3zM2019.9 1170.7l14.3 14.3 -14.3 14.3 -14.3 -14.3zM2020.5 1171.2l14.3 14.3 -14.3 14.3 -14.3 -14.3zM2021.1 1171.5l14.3 14.3 -14.3 14.3 -14.3 -14.3zM2021.8 1172.8l14.3 14.3 -14.3 14.3 -14.3 -14.3zM2022.4 1173.6l14.3 14.3 -14.3 14.3 -14.3 -14.3zM2023.1 1172.1l14.3 14.3 -14.3 14.3 -14.3 -14.3zM2023.7 1173.9l14.3 14.3 -14.3 14.3 -14.3 -14.3zM2024.3 1172.7l14.3 14.3 -14.3 14.3 -14.3 -14.3zM2025 1173.9l14.3 14.3 -14.3 14.3 -14.3 -14.3zM2025.6 1173.2l14.3 14.3 -14.3 14.3 -14.3 -14.3zM2026.2 1173.4l14.3 14.3 -14.3 14.3 -14.3 -14.3zM2026.9 1174.1l14.3 14.3 -14.3 14.3 -14.3 -14.3zM2027.5 1175.6l14.3 14.3 -14.3 14.3 -14.3 -14.3zM2028.1 1174.8l14.3 14.3 -14.3 14.3 -14.3 -14.3zM2028.7 1175.6l14.3 14.3 -14.3 14.3 -14.3 -14.3zM2029.4 1175.5l14.3 14.3 -14.3 14.3 -14.3 -14.3zM2030 1176.3l14.3 14.3 -14.3 14.3 -14.3 -14.3zM2030.6 1176.3l14.3 14.3 -14.3 14.3 -14.3 -14.3zM2031.2 1176.4l14.3 14.3 -14.3 14.3 -14.3 -14.3zM2031.9 1176.9l14.3 14.3 -14.3 14.3 -14.3 -14.3zM2032.5 1177.5l14.3 14.3 -14.3 14.3 -14.3 -14.3zM2033.1 1177.7l14.3 14.3 -14.3 14.3 -14.3 -14.3zM2033.7 1177.3l14.3 14.3 -14.3 14.3 -14.3 -14.3zM2034.3 1178.9l14.3 14.3 -14.3 14.3 -14.3 -14.3zM2035 1178.3l14.3 14.3 -14.3 14.3 -14.3 -14.3zM2035.6 1177.6l14.3 14.3 -14.3 14.3 -14.3 -14.3zM2036.2 1179.5l14.3 14.3 -14.3 14.3 -14.3 -14.3zM2036.8 1178.8l14.3 14.3 -14.3 14.3 -14.3 -14.3zM2037.4 1180.7l14.3 14.3 -14.3 14.3 -14.3 -14.3zM2038 1179.3l14.3 14.3 -14.3 14.3 -14.3 -14.3zM2038.6 1181.4l14.3 14.3 -14.3 14.3 -14.3 -14.3zM2039.2 1181.4l14.3 14.3 -14.3 14.3 -14.3 -14.3zM2039.8 1181.8l14.3 14.3 -14.3 14.3 -14.3 -14.3zM2040.4 1182.6l14.3 14.3 -14.3 14.3 -14.3 -14.3zM2041 1182.2l14.3 14.3 -14.3 14.3 -14.3 -14.3zM2041.7 1182.4l14.3 14.3 -14.3 14.3 -14.3 -14.3zM2042.3 1182.4l14.3 14.3 -14.3 14.3 -14.3 -14.3zM2042.9 1184.2l14.3 14.3 -14.3 14.3 -14.3 -14.3zM2043.5 1183.2l14.3 14.3 -14.3 14.3 -14.3 -14.3zM2044.1 1185l14.3 14.3 -14.3 14.3 -14.3 -14.3zM2044.7 1184.7l14.3 14.3 -14.3 14.3 -14.3 -14.3zM2045.2 1185.4l14.3 14.3 -14.3 14.3 -14.3 -14.3zM2045.8 1185.6l14.3 14.3 -14.3 14.3 -14.3 -14.3zM2046.4 1186.7l14.3 14.3 -14.3 14.3 -14.3 -14.3zM2047 1187.2l14.3 14.3 -14.3 14.3 -14.3 -14.3zM2047.6 1187.2l14.3 14.3 -14.3 14.3 -14.3 -14.3zM2048.2 1188l14.3 14.3 -14.3 14.3 -14.3 -14.3zM2048.8 1188.5l14.3 14.3 -14.3 14.3 -14.3 -14.3zM2049.4 1188.5l14.3 14.3 -14.3 14.3 -14.3 -14.3zM2050 1189.4l14.3 14.3 -14.3 14.3 -14.3 -14.3zM2050.6 1188.6l14.3 14.3 -14.3 14.3 -14.3 -14.3zM2051.2 1189.6l14.3 14.3 -14.3 14.3 -14.3 -14.3zM2051.7 1190.1l14.3 14.3 -14.3 14.3 -14.3 -14.3zM2052.3 1190.1l14.3 14.3 -14.3 14.3 -14.3 -14.3zM2052.9 1191.9l14.3 14.3 -14.3 14.3 -14.3 -14.3zM2053.5 1191.9l14.3 14.3 -14.3 14.3 -14.3 -14.3zM2054.1 1191.5l14.3 14.3 -14.3 14.3 -14.3 -14.3zM2054.6 1193.5l14.3 14.3 -14.3 14.3 -14.3 -14.3zM2055.2 1193.5l14.3 14.3 -14.3 14.3 -14.3 -14.3zM2055.8 1193.3l14.3 14.3 -14.3 14.3 -14.3 -14.3zM2056.4 1193.9l14.3 14.3 -14.3 14.3 -14.3 -14.3zM2057 1194.4l14.3 14.3 -14.3 14.3 -14.3 -14.3zM2057.5 1194.5l14.3 14.3 -14.3 14.3 -14.3 -14.3zM2058.1 1196.3l14.3 14.3 -14.3 14.3 -14.3 -14.3zM2058.7 1196.7l14.3 14.3 -14.3 14.3 -14.3 -14.3zM2059.2 1197.9l14.3 14.3 -14.3 14.3 -14.3 -14.3zM2059.8 1197.4l14.3 14.3 -14.3 14.3 -14.3 -14.3zM2060.4 1196.9l14.3 14.3 -14.3 14.3 -14.3 -14.3zM2061 1198l14.3 14.3 -14.3 14.3 -14.3 -14.3zM2061.5 1197.9l14.3 14.3 -14.3 14.3 -14.3 -14.3zM2062.1 1200.2l14.3 14.3 -14.3 14.3 -14.3 -14.3zM2062.7 1200.4l14.3 14.3 -14.3 14.3 -14.3 -14.3zM2063.2 1199.7l14.3 14.3 -14.3 14.3 -14.3 -14.3zM2063.8 1201.3l14.3 14.3 -14.3 14.3 -14.3 -14.3zM2064.3 1200.4l14.3 14.3 -14.3 14.3 -14.3 -14.3zM2064.9 1201.3l14.3 14.3 -14.3 14.3 -14.3 -14.3zM2065.5 1201.6l14.3 14.3 -14.3 14.3 -14.3 -14.3zM2066 1203.6l14.3 14.3 -14.3 14.3 -14.3 -14.3zM2066.6 1203.2l14.3 14.3 -14.3 14.3 -14.3 -14.3zM2067.1 1202.7l14.3 14.3 -14.3 14.3 -14.3 -14.3zM2067.7 1205.1l14.3 14.3 -14.3 14.3 -14.3 -14.3zM2068.3 1204.8l14.3 14.3 -14.3 14.3 -14.3 -14.3zM2068.8 1205.3l14.3 14.3 -14.3 14.3 -14.3 -14.3zM2069.4 1205.9l14.3 14.3 -14.3 14.3 -14.3 -14.3zM2069.9 1206.2l14.3 14.3 -14.3 14.3 -14.3 -14.3zM2070.5 1207.1l14.3 14.3 -14.3 14.3 -14.3 -14.3zM2071 1207l14.3 14.3 -14.3 14.3 -14.3 -14.3zM2071.6 1206.6l14.3 14.3 -14.3 14.3 -14.3 -14.3zM2072.1 1208.6l14.3 14.3 -14.3 14.3 -14.3 -14.3zM2072.7 1208.2l14.3 14.3 -14.3 14.3 -14.3 -14.3zM2073.2 1208.6l14.3 14.3 -14.3 14.3 -14.3 -14.3zM2073.8 1208.5l14.3 14.3 -14.3 14.3 -14.3 -14.3zM2074.3 1208.9l14.3 14.3 -14.3 14.3 -14.3 -14.3zM2074.9 1210.2l14.3 14.3 -14.3 14.3 -14.3 -14.3zM2075.4 1211.3l14.3 14.3 -14.3 14.3 -14.3 -14.3zM2075.9 1211.2l14.3 14.3 -14.3 14.3 -14.3 -14.3zM2076.5 1212.6l14.3 14.3 -14.3 14.3 -14.3 -14.3zM2077 1212.8l14.3 14.3 -14.3 14.3 -14.3 -14.3zM2077.6 1212.4l14.3 14.3 -14.3 14.3 -14.3 -14.3zM2078.1 1212.6l14.3 14.3 -14.3 14.3 -14.3 -14.3zM2078.6 1212.6l14.3 14.3 -14.3 14.3 -14.3 -14.3zM2079.2 1214.1l14.3 14.3 -14.3 14.3 -14.3 -14.3zM2079.7 1214.6l14.3 14.3 -14.3 14.3 -14.3 -14.3zM2080.3 1214.9l14.3 14.3 -14.3 14.3 -14.3 -14.3zM2080.8 1214.8l14.3 14.3 -14.3 14.3 -14.3 -14.3zM2081.3 1215.3l14.3 14.3 -14.3 14.3 -14.3 -14.3zM2081.9 1217.2l14.3 14.3 -14.3 14.3 -14.3 -14.3zM2082.4 1217.5l14.3 14.3 -14.3 14.3 -14.3 -14.3zM2082.9 1217.8l14.3 14.3 -14.3 14.3 -14.3 -14.3zM2083.5 1217.7l14.3 14.3 -14.3 14.3 -14.3 -14.3zM2084 1218.9l14.3 14.3 -14.3 14.3 -14.3 -14.3zM2084.5 1219.7l14.3 14.3 -14.3 14.3 -14.3 -14.3zM2085 1219.9l14.3 14.3 -14.3 14.3 -14.3 -14.3zM2085.6 1219l14.3 14.3 -14.3 14.3 -14.3 -14.3zM2086.1 1220.1l14.3 14.3 -14.3 14.3 -14.3 -14.3zM2086.6 1220.5l14.3 14.3 -14.3 14.3 -14.3 -14.3zM2087.1 1220.7l14.3 14.3 -14.3 14.3 -14.3 -14.3zM2087.7 1222.6l14.3 14.3 -14.3 14.3 -14.3 -14.3zM2088.2 1222.1l14.3 14.3 -14.3 14.3 -14.3 -14.3zM2088.7 1222.7l14.3 14.3 -14.3 14.3 -14.3 -14.3zM2089.2 1222.9l14.3 14.3 -14.3 14.3 -14.3 -14.3zM2089.8 1224.3l14.3 14.3 -14.3 14.3 -14.3 -14.3zM2090.3 1223.9l14.3 14.3 -14.3 14.3 -14.3 -14.3zM2090.8 1225.4l14.3 14.3 -14.3 14.3 -14.3 -14.3zM2091.3 1224.4l14.3 14.3 -14.3 14.3 -14.3 -14.3zM2091.8 1225.2l14.3 14.3 -14.3 14.3 -14.3 -14.3zM2092.4 1226.9l14.3 14.3 -14.3 14.3 -14.3 -14.3zM2092.9 1227.1l14.3 14.3 -14.3 14.3 -14.3 -14.3zM2093.4 1227.5l14.3 14.3 -14.3 14.3 -14.3 -14.3zM2093.9 1227.1l14.3 14.3 -14.3 14.3 -14.3 -14.3zM2094.4 1227.2l14.3 14.3 -14.3 14.3 -14.3 -14.3zM2094.9 1229.3l14.3 14.3 -14.3 14.3 -14.3 -14.3zM2095.4 1228.3l14.3 14.3 -14.3 14.3 -14.3 -14.3zM2095.9 1230.3l14.3 14.3 -14.3 14.3 -14.3 -14.3zM2096.5 1229.8l14.3 14.3 -14.3 14.3 -14.3 -14.3zM2097 1229.9l14.3 14.3 -14.3 14.3 -14.3 -14.3zM2097.5 1231.9l14.3 14.3 -14.3 14.3 -14.3 -14.3zM2098 1231l14.3 14.3 -14.3 14.3 -14.3 -14.3zM2098.5 1231.7l14.3 14.3 -14.3 14.3 -14.3 -14.3zM2099 1233.2l14.3 14.3 -14.3 14.3 -14.3 -14.3zM2099.5 1232.6l14.3 14.3 -14.3 14.3 -14.3 -14.3zM2100 1232.9l14.3 14.3 -14.3 14.3 -14.3 -14.3zM2100.5 1233.6l14.3 14.3 -14.3 14.3 -14.3 -14.3zM2101 1234.5l14.3 14.3 -14.3 14.3 -14.3 -14.3zM2101.5 1234.6l14.3 14.3 -14.3 14.3 -14.3 -14.3zM2102 1236.2l14.3 14.3 -14.3 14.3 -14.3 -14.3zM2102.5 1235.8l14.3 14.3 -14.3 14.3 -14.3 -14.3zM2103 1236.7l14.3 14.3 -14.3 14.3 -14.3 -14.3zM2103.8 1238.7l14.3 14.3 -14.3 14.3 -14.3 -14.3zM2104.5 1239l14.3 14.3 -14.3 14.3 -14.3 -14.3zM2105.3 1240l14.3 14.3 -14.3 14.3 -14.3 -14.3zM2106 1241.1l14.3 14.3 -14.3 14.3 -14.3 -14.3zM2106.7 1241.7l14.3 14.3 -14.3 14.3 -14.3 -14.3zM2107.5 1241.5l14.3 14.3 -14.3 14.3 -14.3 -14.3zM2108.2 1243.2l14.3 14.3 -14.3 14.3 -14.3 -14.3zM2109 1243.2l14.3 14.3 -14.3 14.3 -14.3 -14.3zM2109.7 1243.8l14.3 14.3 -14.3 14.3 -14.3 -14.3zM2110.4 1245.5l14.3 14.3 -14.3 14.3 -14.3 -14.3zM2111.2 1245.3l14.3 14.3 -14.3 14.3 -14.3 -14.3zM2111.9 1246.6l14.3 14.3 -14.3 14.3 -14.3 -14.3zM2112.6 1246.6l14.3 14.3 -14.3 14.3 -14.3 -14.3zM2113.3 1248.9l14.3 14.3 -14.3 14.3 -14.3 -14.3zM2114.1 1249.1l14.3 14.3 -14.3 14.3 -14.3 -14.3zM2114.8 1249.4l14.3 14.3 -14.3 14.3 -14.3 -14.3zM2115.5 1250.3l14.3 14.3 -14.3 14.3 -14.3 -14.3zM2116.2 1251.8l14.3 14.3 -14.3 14.3 -14.3 -14.3zM2117 1253.4l14.3 14.3 -14.3 14.3 -14.3 -14.3zM2117.7 1252.7l14.3 14.3 -14.3 14.3 -14.3 -14.3zM2118.4 1253.4l14.3 14.3 -14.3 14.3 -14.3 -14.3zM2119.1 1256l14.3 14.3 -14.3 14.3 -14.3 -14.3zM2119.8 1255.4l14.3 14.3 -14.3 14.3 -14.3 -14.3zM2120.5 1257.8l14.3 14.3 -14.3 14.3 -14.3 -14.3zM2121.2 1256.9l14.3 14.3 -14.3 14.3 -14.3 -14.3zM2121.9 1258.7l14.3 14.3 -14.3 14.3 -14.3 -14.3zM2122.7 1258.7l14.3 14.3 -14.3 14.3 -14.3 -14.3zM2123.4 1261.3l14.3 14.3 -14.3 14.3 -14.3 -14.3zM2124.1 1261.1l14.3 14.3 -14.3 14.3 -14.3 -14.3zM2124.8 1262.5l14.3 14.3 -14.3 14.3 -14.3 -14.3zM2125.5 1262.9l14.3 14.3 -14.3 14.3 -14.3 -14.3zM2126.2 1263.7l14.3 14.3 -14.3 14.3 -14.3 -14.3zM2126.9 1264l14.3 14.3 -14.3 14.3 -14.3 -14.3zM2127.6 1266l14.3 14.3 -14.3 14.3 -14.3 -14.3zM2128.3 1266l14.3 14.3 -14.3 14.3 -14.3 -14.3zM2128.9 1266.6l14.3 14.3 -14.3 14.3 -14.3 -14.3zM2129.6 1268l14.3 14.3 -14.3 14.3 -14.3 -14.3zM2130.3 1269.4l14.3 14.3 -14.3 14.3 -14.3 -14.3zM2131 1270.7l14.3 14.3 -14.3 14.3 -14.3 -14.3zM2131.7 1271.1l14.3 14.3 -14.3 14.3 -14.3 -14.3zM2132.4 1272.1l14.3 14.3 -14.3 14.3 -14.3 -14.3zM2132.8 1273.6l14.3 14.3 -14.3 14.3 -14.3 -14.3z" fill="#f00000"/>
</g>
<rect x="1038.5" y="89.0" width="1119.1" height="804.6" fill="#fff"/>
<path d="M1072.3 101.7a10.0 10.7 0 1 0 20.0 0a10.0 10.7 0 1 0 -20.0 0zM1094.2 179.5a10.0 10.7 0 1 0 20.0 0a10.0 10.7 0 1 0 -20.0 0zM1117 252.9a10.0 10.7 0 1 0 20.0 0a10.0 10.7 0 1 0 -20.0 0zM1140.4 314.3a10.0 10.7 0 1 0 20.0 0a10.0 10.7 0 1 0 -20.0 0zM1162.6 369a10.0 10.7 0 1 0 20.0 0a10.0 10.7 0 1 0 -20.0 0zM1185 413.1a10.0 10.7 0 1 0 20.0 0a10.0 10.7 0 1 0 -20.0 0zM1208.6 453.5a10.0 10.7 0 1 0 20.0 0a10.0 10.7 0 1 0 -20.0 0zM1231 480.9a10.0 10.7 0 1 0 20.0 0a10.0 10.7 0 1 0 -20.0 0zM1253.6 509.8a10.0 10.7 0 1 0 20.0 0a10.0 10.7 0 1 0 -20.0 0zM1276.5 534.6a10.0 10.7 0 1 0 20.0 0a10.0 10.7 0 1 0 -20.0 0zM1298.9 554.4a10.0 10.7 0 1 0 20.0 0a10.0 10.7 0 1 0 -20.0 0zM1322.2 572a10.0 10.7 0 1 0 20.0 0a10.0 10.7 0 1 0 -20.0 0zM1344.4 584.5a10.0 10.7 0 1 0 20.0 0a10.0 10.7 0 1 0 -20.0 0zM1366.8 597.7a10.0 10.7 0 1 0 20.0 0a10.0 10.7 0 1 0 -20.0 0zM1389.7 609.8a10.0 10.7 0 1 0 20.0 0a10.0 10.7 0 1 0 -20.0 0zM1412.5 616.5a10.0 10.7 0 1 0 20.0 0a10.0 10.7 0 1 0 -20.0 0zM1435.8 624.7a10.0 10.7 0 1 0 20.0 0a10.0 10.7 0 1 0 -20.0 0zM1458.2 627.1a10.0 10.7 0 1 0 20.0 0a10.0 10.7 0 1 0 -20.0 0zM1481 630.7a10.0 10.7 0 1 0 20.0 0a10.0 10.7 0 1 0 -20.0 0zM1503.7 629.5a10.0 10.7 0 1 0 20.0 0a10.0 10.7 0 1 0 -20.0 0zM1526.1 629.5a10.0 10.7 0 1 0 20.0 0a10.0 10.7 0 1 0 -20.0 0zM1548.9 624.7a10.0 10.7 0 1 0 20.0 0a10.0 10.7 0 1 0 -20.0 0zM1572.3 624.7a10.0 10.7 0 1 0 20.0 0a10.0 10.7 0 1 0 -20.0 0zM1594.7 621.1a10.0 10.7 0 1 0 20.0 0a10.0 10.7 0 1 0 -20.0 0zM1616.4 622.3a10.0 10.7 0 1 0 20.0 0a10.0 10.7 0 1 0 -20.0 0zM1640.5 616.3a10.0 10.7 0 1 0 20.0 0a10.0 10.7 0 1 0 -20.0 0zM1663.3 619.9a10.0 10.7 0 1 0 20.0 0a10.0 10.7 0 1 0 -20.0 0zM1685.7 628.3a10.0 10.7 0 1 0 20.0 0a10.0 10.7 0 1 0 -20.0 0zM1708.4 636.7a10.0 10.7 0 1 0 20.0 0a10.0 10.7 0 1 0 -20.0 0zM1731.5 650.7a10.0 10.7 0 1 0 20.0 0a10.0 10.7 0 1 0 -20.0 0zM1753.6 666.8a10.0 10.7 0 1 0 20.0 0a10.0 10.7 0 1 0 -20.0 0zM1777.2 683.7a10.0 10.7 0 1 0 20.0 0a10.0 10.7 0 1 0 -20.0 0zM1798.7 709.4a10.0 10.7 0 1 0 20.0 0a10.0 10.7 0 1 0 -20.0 0zM1821.2 727.9a10.0 10.7 0 1 0 20.0 0a10.0 10.7 0 1 0 -20.0 0zM1844.7 745.3a10.0 10.7 0 1 0 20.0 0a10.0 10.7 0 1 0 -20.0 0zM1868.3 758.6a10.0 10.7 0 1 0 20.0 0a10.0 10.7 0 1 0 -20.0 0zM1890.8 769.8a10.0 10.7 0 1 0 20.0 0a10.0 10.7 0 1 0 -20.0 0zM1913.3 778a10.0 10.7 0 1 0 20.0 0a10.0 10.7 0 1 0 -20.0 0zM1935.8 787.2a10.0 10.7 0 1 0 20.0 0a10.0 10.7 0 1 0 -20.0 0zM1958.5 794a10.0 10.7 0 1 0 20.0 0a10.0 10.7 0 1 0 -20.0 0zM1981.3 797.9a10.0 10.7 0 1 0 20.0 0a10.0 10.7 0 1 0 -20.0 0zM2003.2 801.6a10.0 10.7 0 1 0 20.0 0a10.0 10.7 0 1 0 -20.0 0zM2027.8 801.6a10.0 10.7 0 1 0 20.0 0a10.0 10.7 0 1 0 -20.0 0zM2048.7 799.7a10.0 10.7 0 1 0 20.0 0a10.0 10.7 0 1 0 -20.0 0zM2072 800a10.0 10.7 0 1 0 20.0 0a10.0 10.7 0 1 0 -20.0 0zM2095 802a10.0 10.7 0 1 0 20.0 0a10.0 10.7 0 1 0 -20.0 0zM2118 804a10.0 10.7 0 1 0 20.0 0a10.0 10.7 0 1 0 -20.0 0zM2141 806a10.0 10.7 0 1 0 20.0 0a10.0 10.7 0 1 0 -20.0 0z" fill="#000"/>
<path d="M1049.6 186.9h22l-11.0 18.5zM1071.5 267.6h22l-11.0 18.5zM1093.7 333.9h22l-11.0 18.5zM1116.5 392.9h22l-11.0 18.5zM1139.4 438.6h22l-11.0 18.5zM1162.8 485.6h22l-11.0 18.5zM1185.2 521.6h22l-11.0 18.5zM1209.2 553h22l-11.0 18.5zM1230.9 578.2h22l-11.0 18.5zM1255 597.5h22l-11.0 18.5zM1276.7 618h22l-11.0 18.5zM1298.3 631.2h22l-11.0 18.5zM1321.2 639.6h22l-11.0 18.5zM1344.1 652.9h22l-11.0 18.5zM1367 661.4h22l-11.0 18.5zM1389.1 675.8h22l-11.0 18.5zM1411.5 675.8h22l-11.0 18.5zM1434.8 683.5h22l-11.0 18.5zM1457.6 683.5h22l-11.0 18.5zM1480.5 689.5h22l-11.0 18.5zM1503.4 685.9h22l-11.0 18.5zM1525.1 685.9h22l-11.0 18.5zM1547.9 681h22l-11.0 18.5zM1570.8 676.2h22l-11.0 18.5zM1593.2 676.2h22l-11.0 18.5zM1616.6 669h22l-11.0 18.5zM1639.5 671.5h22l-11.0 18.5zM1662.3 669h22l-11.0 18.5zM1685.2 670.2h22l-11.0 18.5zM1708.1 677.5h22l-11.0 18.5zM1731 685.9h22l-11.0 18.5zM1753.8 695.5h22l-11.0 18.5zM1776.7 705.1h22l-11.0 18.5zM1797.7 719.5h22l-11.0 18.5zM1821.2 736h22l-11.0 18.5zM1843.7 753.4h22l-11.0 18.5zM1866.2 768.8h22l-11.0 18.5zM1889.8 783h22l-11.0 18.5zM1912.3 793.2h22l-11.0 18.5zM1935.8 799.5h22l-11.0 18.5zM1958.4 802.8h22l-11.0 18.5zM1980.9 808.2h22l-11.0 18.5zM2003.4 811.1h22l-11.0 18.5zM2026.9 813h22l-11.0 18.5zM2048.7 805.8h22l-11.0 18.5zM2071.5 807.2h22l-11.0 18.5zM2094.3 809.2h22l-11.0 18.5zM2117 813h22l-11.0 18.5zM2141.7 816.8h22l-11.0 18.5z" fill="#808080"/>
<path d="M1209.5 141.8h19v19.5h-19zM1231.9 199.6h19v19.5h-19zM1253.6 257.6h19v19.5h-19zM1276.5 303.1h19v19.5h-19zM1299.9 336.9h19v19.5h-19zM1322 373.6h19v19.5h-19zM1344.4 403.8h19v19.5h-19zM1368.5 426.1h19v19.5h-19zM1390.6 444.8h19v19.5h-19zM1412.3 462.8h19v19.5h-19zM1436.3 477.6h19v19.5h-19zM1458.7 493.4h19v19.5h-19zM1482.7 504.9h19v19.5h-19zM1504.9 510.1h19v19.5h-19zM1527.3 521h19v19.5h-19zM1550.6 525.4h19v19.5h-19zM1572.8 527.8h19v19.5h-19zM1595.2 531.9h19v19.5h-19zM1619.3 536.6h19v19.5h-19zM1641.4 539h19v19.5h-19zM1662.6 548.8h19v19.5h-19zM1686.7 557.1h19v19.5h-19zM1708.9 565.5h19v19.5h-19zM1731.3 581.2h19v19.5h-19zM1755.3 600.5h19v19.5h-19zM1778.7 619.9h19v19.5h-19zM1799.2 641.4h19v19.5h-19zM1824.1 660.8h19v19.5h-19zM1845.8 685.4h19v19.5h-19zM1869.8 701.8h19v19.5h-19zM1892.3 715h19v19.5h-19zM1913.8 728.4h19v19.5h-19zM1938.4 739.6h19v19.5h-19zM1959.9 744.8h19v19.5h-19zM1982.4 753h19v19.5h-19zM2004.9 759h19v19.5h-19zM2028.4 761h19v19.5h-19zM2049.9 762.1h19v19.5h-19zM2072.4 764.1h19v19.5h-19zM2096 764.1h19v19.5h-19zM2118.5 770.2h19v19.5h-19zM2141 775.5h19v19.5h-19z" fill="#c0c0c0"/>
<path d="M1355.6 77.7l12.2 13.6 -12.2 13.6 -12.2 -13.6zM1379.2 155.5l12.2 13.6 -12.2 13.6 -12.2 -13.6zM1400.9 224.1l12.2 13.6 -12.2 13.6 -12.2 -13.6zM1423.4 289.2l12.2 13.6 -12.2 13.6 -12.2 -13.6zM1447 344.5l12.2 13.6 -12.2 13.6 -12.2 -13.6zM1469.8 392l12.2 13.6 -12.2 13.6 -12.2 -13.6zM1491.5 435.1l12.2 13.6 -12.2 13.6 -12.2 -13.6zM1514.4 470.9l12.2 13.6 -12.2 13.6 -12.2 -13.6zM1536.1 505.1l12.2 13.6 -12.2 13.6 -12.2 -13.6zM1557.7 532.8l12.2 13.6 -12.2 13.6 -12.2 -13.6zM1580.6 559.3l12.2 13.6 -12.2 13.6 -12.2 -13.6zM1603.5 578.6l12.2 13.6 -12.2 13.6 -12.2 -13.6zM1626.4 597.9l12.2 13.6 -12.2 13.6 -12.2 -13.6zM1648 615.9l12.2 13.6 -12.2 13.6 -12.2 -13.6zM1670.9 631.6l12.2 13.6 -12.2 13.6 -12.2 -13.6zM1693.8 643.6l12.2 13.6 -12.2 13.6 -12.2 -13.6zM1716.7 653.2l12.2 13.6 -12.2 13.6 -12.2 -13.6zM1739.6 662.9l12.2 13.6 -12.2 13.6 -12.2 -13.6zM1762.4 671.3l12.2 13.6 -12.2 13.6 -12.2 -13.6zM1787.8 672.3l12.2 13.6 -12.2 13.6 -12.2 -13.6zM1809.1 685.6l12.2 13.6 -12.2 13.6 -12.2 -13.6zM1834.2 694.8l12.2 13.6 -12.2 13.6 -12.2 -13.6zM1854.7 706.1l12.2 13.6 -12.2 13.6 -12.2 -13.6zM1878.3 714.3l12.2 13.6 -12.2 13.6 -12.2 -13.6zM1900.8 725.5l12.2 13.6 -12.2 13.6 -12.2 -13.6zM1923.3 735.8l12.2 13.6 -12.2 13.6 -12.2 -13.6zM1946.8 745l12.2 13.6 -12.2 13.6 -12.2 -13.6zM1969.4 753.2l12.2 13.6 -12.2 13.6 -12.2 -13.6zM1992.9 759.3l12.2 13.6 -12.2 13.6 -12.2 -13.6zM2015.4 767.5l12.2 13.6 -12.2 13.6 -12.2 -13.6zM2037.9 771.6l12.2 13.6 -12.2 13.6 -12.2 -13.6zM2059.4 776.7l12.2 13.6 -12.2 13.6 -12.2 -13.6zM2081.9 777.7l12.2 13.6 -12.2 13.6 -12.2 -13.6zM2105.5 782.8l12.2 13.6 -12.2 13.6 -12.2 -13.6zM2128 786.9l12.2 13.6 -12.2 13.6 -12.2 -13.6zM2151.5 791l12.2 13.6 -12.2 13.6 -12.2 -13.6z" fill="#f00000"/>
<g clip-path="url(#ci)" fill="none" stroke="#000" stroke-width="2.8">
<path d="M1038.9 118.5 1040.9 125.4 1042.9 132.2 1044.9 139.1 1046.9 146 1048.9 152.8 1050.9 159.7 1052.9 166.6 1054.9 173.5 1056.9 180.4 1058.9 187.3 1060.9 194.2 1062.9 201.2 1064.9 208.2 1066.9 215.3 1068.9 222.4 1070.9 229.5 1072.9 236.6 1074.9 243.6 1076.9 250.6 1078.9 257.4 1080.9 264.1 1082.9 270.7 1084.9 277.1 1086.9 283.4 1088.9 289.6 1090.9 295.8 1092.9 301.9 1094.9 307.9 1096.9 313.8 1098.9 319.6 1100.9 325.4 1102.9 331 1104.9 336.6 1106.9 342 1108.9 347.4 1110.9 352.6 1112.9 357.8 1114.9 363 1116.9 368 1118.9 373 1120.9 378 1122.9 382.9 1124.9 387.7 1126.9 392.6 1128.9 397.4 1130.9 402.1 1132.9 406.9 1134.9 411.6 1136.9 416.3 1138.9 421 1140.9 425.5 1142.9 430 1144.9 434.4 1146.9 438.7 1148.9 442.9 1150.9 447 1152.9 451 1154.9 454.9 1156.9 458.8 1158.9 462.6 1160.9 466.3 1162.9 470 1164.9 473.6 1166.9 477.1 1168.9 480.6 1170.9 484 1172.9 487.4 1174.9 490.7 1176.9 493.9 1178.9 497.1 1180.9 500.2 1182.9 503.3 1184.9 506.4 1186.9 509.4 1188.9 512.3 1190.9 515.3 1192.9 518.2 1194.9 521 1196.9 523.8 1198.9 526.6 1200.9 529.4 1202.9 532.1 1204.9 534.9 1206.9 537.6 1208.9 540.3 1210.9 543 1212.9 545.6 1214.9 548.3 1216.9 550.9 1218.9 553.5 1220.9 556.1 1222.9 558.7 1224.9 561.2 1226.9 563.6 1228.9 566.1 1230.9 568.4 1232.9 570.8 1234.9 573 1236.9 575.2 1238.9 577.4 1240.9 579.4 1242.9 581.4 1244.9 583.4 1246.9 585.3 1248.9 587.1 1250.9 588.9 1252.9 590.7 1254.9 592.5 1256.9 594.2 1258.9 595.9 1260.9 597.6 1262.9 599.3 1264.9 601 1266.9 602.8 1268.9 604.5 1270.9 606.3 1272.9 608 1274.9 609.8 1276.9 611.5 1278.9 613.2 1280.9 614.9 1282.9 616.6 1284.9 618.3 1286.9 619.9 1288.9 621.5 1290.9 623 1292.9 624.5 1294.9 626 1296.9 627.4 1298.9 628.8 1300.9 630.2 1302.9 631.5 1304.9 632.9 1306.9 634.2 1308.9 635.4 1310.9 636.7 1312.9 637.9 1314.9 639.2 1316.9 640.3 1318.9 641.5 1320.9 642.7 1322.9 643.8 1324.9 644.9 1326.9 646.1 1328.9 647.2 1330.9 648.3 1332.9 649.4 1334.9 650.4 1336.9 651.5 1338.9 652.5 1340.9 653.6 1342.9 654.6 1344.9 655.5 1346.9 656.5 1348.9 657.4 1350.9 658.3 1352.9 659.1 1354.9 659.9 1356.9 660.7 1358.9 661.5 1360.9 662.2 1362.9 662.9 1364.9 663.6 1366.9 664.3 1368.9 665 1370.9 665.7 1372.9 666.3 1374.9 666.9 1376.9 667.6 1378.9 668.2 1380.9 668.8 1382.9 669.4 1384.9 670 1386.9 670.5 1388.9 671.1 1390.9 671.7 1392.9 672.2 1394.9 672.7 1396.9 673.3 1398.9 673.8 1400.9 674.3 1402.9 674.9 1404.9 675.4 1406.9 675.9 1408.9 676.4 1410.9 676.8 1412.9 677.3 1414.9 677.8 1416.9 678.2 1418.9 678.7 1420.9 679.1 1422.9 679.5 1424.9 680 1426.9 680.4 1428.9 680.8 1430.9 681.2 1432.9 681.6 1434.9 682 1436.9 682.4 1438.9 682.8 1440.9 683.3 1442.9 683.7 1444.9 684.1 1446.9 684.6 1448.9 685 1450.9 685.4 1452.9 685.8 1454.9 686.3 1456.9 686.7 1458.9 687.1 1460.9 687.5 1462.9 687.9 1464.9 688.3 1466.9 688.6 1468.9 689 1470.9 689.4 1472.9 689.7 1474.9 690 1476.9 690.3 1478.9 690.6 1480.9 690.8 1482.9 691.1 1484.9 691.3 1486.9 691.5 1488.9 691.7 1490.9 691.8 1492.9 692 1494.9 692.1 1496.9 692.1 1498.9 692.2 1500.9 692.2 1502.9 692.3 1504.9 692.4 1506.9 692.4 1508.9 692.5 1510.9 692.5 1512.9 692.6 1514.9 692.6 1516.9 692.7 1518.9 692.7 1520.9 692.7 1522.9 692.8 1524.9 692.8 1526.9 692.9 1528.9 692.9 1530.9 692.9 1532.9 693 1534.9 693 1536.9 693 1538.9 693.1 1540.9 693.1 1542.9 693.1 1544.9 693.2 1546.9 693.2 1548.9 693.2 1550.9 693.2 1552.9 693.2 1554.9 693.3 1556.9 693.3 1558.9 693.3 1560.9 693.3 1562.9 693.3 1564.9 693.3 1566.9 693.3 1568.9 693.3 1570.9 693.3 1572.9 693.2 1574.9 693.1 1576.9 692.9 1578.9 692.7 1580.9 692.5 1582.9 692.2 1584.9 691.9 1586.9 691.6 1588.9 691.3 1590.9 690.9 1592.9 690.5 1594.9 690.1 1596.9 689.7 1598.9 689.2 1600.9 688.7 1602.9 688.3 1604.9 687.8 1606.9 687.3 1608.9 686.8 1610.9 686.3 1612.9 685.8 1614.9 685.3 1616.9 684.8 1618.9 684.4 1620.9 683.9 1622.9 683.4 1624.9 683 1626.9 682.5 1628.9 682.1 1630.9 681.7 1632.9 681.3 1634.9 681 1636.9 680.7 1638.9 680.4 1640.9 680.1 1642.9 679.8 1644.9 679.6 1646.9 679.3 1648.9 679 1650.9 678.8 1652.9 678.5 1654.9 678.2 1656.9 677.9 1658.9 677.7 1660.9 677.4 1662.9 677.2 1664.9 676.9 1666.9 676.7 1668.9 676.5 1670.9 676.3 1672.9 676.1 1674.9 675.9 1676.9 675.8 1678.9 675.6 1680.9 675.5 1682.9 675.4 1684.9 675.4 1686.9 675.3 1688.9 675.3 1690.9 675.3 1692.9 675.5 1694.9 675.6 1696.9 675.9 1698.9 676.2 1700.9 676.6 1702.9 677.1 1704.9 677.6 1706.9 678.1 1708.9 678.7 1710.9 679.3 1712.9 680 1714.9 680.7 1716.9 681.5 1718.9 682.2 1720.9 683 1722.9 683.8 1724.9 684.7 1726.9 685.5 1728.9 686.3 1730.9 687.1 1732.9 688 1734.9 688.8 1736.9 689.6 1738.9 690.5 1740.9 691.4 1742.9 692.3 1744.9 693.4 1746.9 694.4 1748.9 695.6 1750.9 696.8 1752.9 698 1754.9 699.2 1756.9 700.5 1758.9 701.8 1760.9 703.1 1762.9 704.5 1764.9 705.8 1766.9 707.1 1768.9 708.5 1770.9 709.8 1772.9 711.1 1774.9 712.4 1776.9 713.7 1778.9 714.9 1780.9 716.1 1782.9 717.4 1784.9 718.6 1786.9 719.8 1788.9 721 1790.9 722.3 1792.9 723.5 1794.9 724.8 1796.9 726 1798.9 727.3 1800.9 728.6 1802.9 729.8 1804.9 731.1 1806.9 732.4 1808.9 733.6 1810.9 734.9 1812.9 736.2 1814.9 737.4 1816.9 738.7 1818.9 739.9 1820.9 741.2 1822.9 742.4 1824.9 743.7 1826.9 744.9 1828.9 746.1 1830.9 747.4 1832.9 748.6 1834.9 749.8 1836.9 751 1838.9 752.1 1840.9 753.3 1842.9 754.5 1844.9 755.6 1846.9 756.7 1848.9 757.9 1850.9 759 1852.9 760 1854.9 761.1 1856.9 762.2 1858.9 763.2 1860.9 764.2 1862.9 765.2 1864.9 766.2 1866.9 767.2 1868.9 768.1 1870.9 769.1 1872.9 770.1 1874.9 771 1876.9 772 1878.9 773 1880.9 773.9 1882.9 774.8 1884.9 775.8 1886.9 776.7 1888.9 777.6 1890.9 778.5 1892.9 779.4 1894.9 780.3 1896.9 781.2 1898.9 782.1 1900.9 782.9 1902.9 783.8 1904.9 784.6 1906.9 785.5 1908.9 786.3 1910.9 787.2 1912.9 788 1914.9 788.8 1916.9 789.6 1918.9 790.4 1920.9 791.2 1922.9 792 1924.9 792.7 1926.9 793.5 1928.9 794.2 1930.9 795 1932.9 795.7 1934.9 796.4 1936.9 797.1 1938.9 797.8 1940.9 798.5 1942.9 799.2 1944.9 799.9 1946.9 800.5 1948.9 801.2 1950.9 801.9 1952.9 802.5 1954.9 803.2 1956.9 803.8 1958.9 804.5 1960.9 805.1 1962.9 805.8 1964.9 806.4 1966.9 807 1968.9 807.7 1970.9 808.3 1972.9 808.9 1974.9 809.5 1976.9 810.1 1978.9 810.7 1980.9 811.3 1982.9 811.9 1984.9 812.5 1986.9 813 1988.9 813.6 1990.9 814.1 1992.9 814.7 1994.9 815.2 1996.9 815.7 1998.9 816.2 2000.9 816.7 2002.9 817.2 2004.9 817.7 2006.9 818.2 2008.9 818.6 2010.9 819.1 2012.9 819.5 2014.9 820 2016.9 820.4 2018.9 820.8 2020.9 821.1 2022.9 821.5 2024.9 821.9 2026.9 822.2 2028.9 822.6 2030.9 822.9 2032.9 823.2 2034.9 823.5 2036.9 823.8 2038.9 824.1 2040.9 824.4 2042.9 824.7 2044.9 824.9 2046.9 825.2 2048.9 825.5 2050.9 825.7 2052.9 826 2054.9 826.2 2056.9 826.5 2058.9 826.7 2060.9 826.9 2062.9 827.2 2064.9 827.4 2066.9 827.6 2068.9 827.8 2070.9 828.1 2072.9 828.3 2074.9 828.5 2076.9 828.7 2078.9 829 2080.9 829.2 2082.9 829.4 2084.9 829.6 2086.9 829.8 2088.9 830.1 2090.9 830.3 2092.9 830.5 2094.9 830.8 2096.9 831 2098.9 831.2 2100.9 831.5 2102.9 831.7 2104.9 832 2106.9 832.2 2108.9 832.5 2110.9 832.7 2112.9 833 2114.9 833.3 2116.9 833.5 2118.9 833.8 2120.9 834.1 2122.9 834.3 2124.9 834.6 2126.9 834.9 2128.9 835.1 2130.9 835.4 2132.9 835.7 2134.9 835.9 2136.9 836.2 2138.9 836.5 2140.9 836.7 2142.9 837 2144.9 837.3 2146.9 837.6 2148.9 837.8 2150.9 838.1 2152.9 838.4 2154.9 838.6 2156.9 838.9 2157.5 839"/>
<path d="M1079.4 89.6 1081.4 97 1083.4 104.3 1085.4 111.5 1087.4 118.7 1089.4 125.9 1091.4 132.9 1093.4 140 1095.4 147 1097.4 153.9 1099.4 160.7 1101.4 167.6 1103.4 174.3 1105.4 181 1107.4 187.7 1109.4 194.4 1111.4 201 1113.4 207.6 1115.4 214.1 1117.4 220.6 1119.4 226.9 1121.4 233.2 1123.4 239.3 1125.4 245.3 1127.4 251.2 1129.4 256.9 1131.4 262.5 1133.4 268 1135.4 273.3 1137.4 278.7 1139.4 283.9 1141.4 289.1 1143.4 294.2 1145.4 299.3 1147.4 304.4 1149.4 309.5 1151.4 314.5 1153.4 319.6 1155.4 324.7 1157.4 329.7 1159.4 334.7 1161.4 339.7 1163.4 344.6 1165.4 349.4 1167.4 354.2 1169.4 358.8 1171.4 363.3 1173.4 367.8 1175.4 372.1 1177.4 376.3 1179.4 380.4 1181.4 384.5 1183.4 388.5 1185.4 392.4 1187.4 396.4 1189.4 400.2 1191.4 404.1 1193.4 407.9 1195.4 411.8 1197.4 415.6 1199.4 419.5 1201.4 423.4 1203.4 427.3 1205.4 431.2 1207.4 435 1209.4 438.8 1211.4 442.5 1213.4 446.2 1215.4 449.7 1217.4 453.2 1219.4 456.5 1221.4 459.7 1223.4 462.8 1225.4 465.7 1227.4 468.7 1229.4 471.5 1231.4 474.4 1233.4 477.2 1235.4 479.9 1237.4 482.6 1239.4 485.2 1241.4 487.8 1243.4 490.4 1245.4 492.9 1247.4 495.4 1249.4 497.8 1251.4 500.3 1253.4 502.6 1255.4 505 1257.4 507.3 1259.4 509.5 1261.4 511.8 1263.4 514 1265.4 516.2 1267.4 518.3 1269.4 520.4 1271.4 522.5 1273.4 524.6 1275.4 526.6 1277.4 528.7 1279.4 530.7 1281.4 532.6 1283.4 534.6 1285.4 536.5 1287.4 538.4 1289.4 540.3 1291.4 542.1 1293.4 544 1295.4 545.8 1297.4 547.5 1299.4 549.3 1301.4 551 1303.4 552.7 1305.4 554.4 1307.4 556.1 1309.4 557.7 1311.4 559.3 1313.4 560.9 1315.4 562.4 1317.4 564 1319.4 565.5 1321.4 567 1323.4 568.5 1325.4 570 1327.4 571.5 1329.4 573 1331.4 574.5 1333.4 575.9 1335.4 577.4 1337.4 578.8 1339.4 580.2 1341.4 581.6 1343.4 582.9 1345.4 584.3 1347.4 585.6 1349.4 586.9 1351.4 588.1 1353.4 589.3 1355.4 590.5 1357.4 591.6 1359.4 592.7 1361.4 593.8 1363.4 594.8 1365.4 595.7 1367.4 596.6 1369.4 597.5 1371.4 598.4 1373.4 599.2 1375.4 600 1377.4 600.7 1379.4 601.5 1381.4 602.2 1383.4 602.9 1385.4 603.6 1387.4 604.2 1389.4 604.9 1391.4 605.5 1393.4 606.1 1395.4 606.7 1397.4 607.3 1399.4 607.8 1401.4 608.4 1403.4 608.9 1405.4 609.5 1407.4 610 1409.4 610.5 1411.4 611 1413.4 611.5 1415.4 612 1417.4 612.4 1419.4 612.9 1421.4 613.4 1423.4 613.8 1425.4 614.3 1427.4 614.7 1429.4 615.1 1431.4 615.5 1433.4 616 1435.4 616.4 1437.4 616.8 1439.4 617.2 1441.4 617.6 1443.4 618 1445.4 618.4 1447.4 618.8 1449.4 619.2 1451.4 619.7 1453.4 620.1 1455.4 620.5 1457.4 621 1459.4 621.5 1461.4 621.9 1463.4 622.4 1465.4 622.9 1467.4 623.3 1469.4 623.8 1471.4 624.3 1473.4 624.8 1475.4 625.2 1477.4 625.7 1479.4 626.2 1481.4 626.6 1483.4 627.1 1485.4 627.5 1487.4 627.9 1489.4 628.3 1491.4 628.7 1493.4 629.1 1495.4 629.5 1497.4 629.8 1499.4 630.1 1501.4 630.4 1503.4 630.7 1505.4 631 1507.4 631.2 1509.4 631.4 1511.4 631.5 1513.4 631.7 1515.4 631.8 1517.4 631.9 1519.4 631.9 1521.4 631.9 1523.4 631.9 1525.4 631.9 1527.4 631.9 1529.4 631.8 1531.4 631.8 1533.4 631.7 1535.4 631.7 1537.4 631.6 1539.4 631.6 1541.4 631.5 1543.4 631.4 1545.4 631.3 1547.4 631.3 1549.4 631.2 1551.4 631.1 1553.4 631 1555.4 630.9 1557.4 630.8 1559.4 630.6 1561.4 630.5 1563.4 630.4 1565.4 630.3 1567.4 630.2 1569.4 630 1571.4 629.9 1573.4 629.8 1575.4 629.7 1577.4 629.5 1579.4 629.4 1581.4 629.3 1583.4 629.1 1585.4 629 1587.4 628.9 1589.4 628.7 1591.4 628.6 1593.4 628.5 1595.4 628.3 1597.4 628.2 1599.4 628.1 1601.4 628 1603.4 627.8 1605.4 627.7 1607.4 627.6 1609.4 627.5 1611.4 627.4 1613.4 627.3 1615.4 627.2 1617.4 627.1 1619.4 627 1621.4 626.8 1623.4 626.7 1625.4 626.6 1627.4 626.5 1629.4 626.3 1631.4 626.2 1633.4 626.1 1635.4 625.9 1637.4 625.8 1639.4 625.7 1641.4 625.6 1643.4 625.4 1645.4 625.3 1647.4 625.2 1649.4 625.1 1651.4 625 1653.4 624.9 1655.4 624.9 1657.4 624.8 1659.4 624.8 1661.4 624.7 1663.4 624.7 1665.4 624.7 1667.4 624.7 1669.4 624.8 1671.4 625 1673.4 625.2 1675.4 625.5 1677.4 625.8 1679.4 626.2 1681.4 626.6 1683.4 627 1685.4 627.5 1687.4 628 1689.4 628.6 1691.4 629.2 1693.4 629.9 1695.4 630.6 1697.4 631.3 1699.4 632 1701.4 632.8 1703.4 633.6 1705.4 634.4 1707.4 635.2 1709.4 636.1 1711.4 636.9 1713.4 637.8 1715.4 638.7 1717.4 639.6 1719.4 640.5 1721.4 641.5 1723.4 642.4 1725.4 643.3 1727.4 644.3 1729.4 645.2 1731.4 646.2 1733.4 647.1 1735.4 648 1737.4 648.9 1739.4 649.9 1741.4 650.9 1743.4 652 1745.4 653.1 1747.4 654.3 1749.4 655.6 1751.4 656.9 1753.4 658.2 1755.4 659.5 1757.4 660.9 1759.4 662.4 1761.4 663.8 1763.4 665.3 1765.4 666.8 1767.4 668.3 1769.4 669.8 1771.4 671.3 1773.4 672.8 1775.4 674.4 1777.4 675.9 1779.4 677.4 1781.4 678.9 1783.4 680.4 1785.4 681.8 1787.4 683.3 1789.4 684.7 1791.4 686.2 1793.4 687.7 1795.4 689.2 1797.4 690.8 1799.4 692.3 1801.4 693.9 1803.4 695.5 1805.4 697.1 1807.4 698.7 1809.4 700.3 1811.4 701.9 1813.4 703.6 1815.4 705.2 1817.4 706.8 1819.4 708.4 1821.4 710.1 1823.4 711.7 1825.4 713.3 1827.4 714.9 1829.4 716.5 1831.4 718.1 1833.4 719.7 1835.4 721.3 1837.4 722.8 1839.4 724.4 1841.4 725.9 1843.4 727.4 1845.4 728.9 1847.4 730.3 1849.4 731.8 1851.4 733.2 1853.4 734.5 1855.4 735.9 1857.4 737.2 1859.4 738.5 1861.4 739.7 1863.4 740.9 1865.4 742.1 1867.4 743.3 1869.4 744.5 1871.4 745.7 1873.4 746.8 1875.4 748 1877.4 749.1 1879.4 750.3 1881.4 751.4 1883.4 752.5 1885.4 753.7 1887.4 754.8 1889.4 755.8 1891.4 756.9 1893.4 758 1895.4 759.1 1897.4 760.1 1899.4 761.2 1901.4 762.2 1903.4 763.2 1905.4 764.2 1907.4 765.2 1909.4 766.2 1911.4 767.2 1913.4 768.1 1915.4 769.1 1917.4 770 1919.4 770.9 1921.4 771.8 1923.4 772.7 1925.4 773.6 1927.4 774.5 1929.4 775.3 1931.4 776.2 1933.4 777 1935.4 777.8 1937.4 778.6 1939.4 779.4 1941.4 780.2 1943.4 780.9 1945.4 781.7 1947.4 782.4 1949.4 783.2 1951.4 783.9 1953.4 784.6 1955.4 785.4 1957.4 786.1 1959.4 786.8 1961.4 787.5 1963.4 788.2 1965.4 788.9 1967.4 789.5 1969.4 790.2 1971.4 790.9 1973.4 791.5 1975.4 792.2 1977.4 792.8 1979.4 793.5 1981.4 794.1 1983.4 794.7 1985.4 795.3 1987.4 795.9 1989.4 796.5 1991.4 797.1 1993.4 797.7 1995.4 798.3 1997.4 798.8 1999.4 799.4 2001.4 799.9 2003.4 800.4 2005.4 800.9 2007.4 801.5 2009.4 802 2011.4 802.4 2013.4 802.9 2015.4 803.4 2017.4 803.8 2019.4 804.3 2021.4 804.7 2023.4 805.1 2025.4 805.6 2027.4 806 2029.4 806.4 2031.4 806.8 2033.4 807.2 2035.4 807.6 2037.4 808 2039.4 808.4 2041.4 808.8 2043.4 809.2 2045.4 809.5 2047.4 809.9 2049.4 810.3 2051.4 810.7 2053.4 811.1 2055.4 811.5 2057.4 811.8 2059.4 812.2 2061.4 812.6 2063.4 813 2065.4 813.3 2067.4 813.7 2069.4 814 2071.4 814.4 2073.4 814.8 2075.4 815.1 2077.4 815.4 2079.4 815.8 2081.4 816.1 2083.4 816.5 2085.4 816.8 2087.4 817.1 2089.4 817.4 2091.4 817.7 2093.4 818.1 2095.4 818.4 2097.4 818.7 2099.4 819 2101.4 819.3 2103.4 819.5 2105.4 819.8 2107.4 820.1 2109.4 820.4 2111.4 820.6 2113.4 820.9 2115.4 821.2 2117.4 821.4 2119.4 821.6 2121.4 821.9 2123.4 822.1 2125.4 822.3 2127.4 822.6 2129.4 822.8 2131.4 823 2133.4 823.2 2135.4 823.4 2137.4 823.5 2139.4 823.7 2141.4 823.9 2143.4 824.1 2145.4 824.2 2147.4 824.4 2149.4 824.5 2151.4 824.6 2153.4 824.8 2155.4 824.9 2157.4 825 2157.5 825"/>
<path d="M1197.4 89.6 1199.4 95.1 1201.4 100.5 1203.4 106 1205.4 111.4 1207.4 116.8 1209.4 122.2 1211.4 127.6 1213.4 133 1215.4 138.4 1217.4 143.7 1219.4 149.1 1221.4 154.4 1223.4 159.7 1225.4 165 1227.4 170.3 1229.4 175.6 1231.4 180.8 1233.4 186.1 1235.4 191.3 1237.4 196.6 1239.4 201.8 1241.4 207 1243.4 212.3 1245.4 217.6 1247.4 223 1249.4 228.4 1251.4 233.7 1253.4 239.1 1255.4 244.3 1257.4 249.4 1259.4 254.3 1261.4 259.1 1263.4 263.7 1265.4 268.1 1267.4 272.4 1269.4 276.5 1271.4 280.6 1273.4 284.6 1275.4 288.5 1277.4 292.4 1279.4 296.1 1281.4 299.8 1283.4 303.4 1285.4 306.9 1287.4 310.4 1289.4 313.8 1291.4 317.1 1293.4 320.3 1295.4 323.4 1297.4 326.5 1299.4 329.6 1301.4 332.7 1303.4 335.7 1305.4 338.8 1307.4 341.9 1309.4 345 1311.4 348.2 1313.4 351.4 1315.4 354.7 1317.4 357.9 1319.4 361.2 1321.4 364.4 1323.4 367.6 1325.4 370.8 1327.4 373.9 1329.4 376.9 1331.4 379.9 1333.4 382.8 1335.4 385.6 1337.4 388.5 1339.4 391.4 1341.4 394.1 1343.4 396.9 1345.4 399.6 1347.4 402.2 1349.4 404.7 1351.4 407.1 1353.4 409.4 1355.4 411.7 1357.4 413.8 1359.4 415.9 1361.4 418 1363.4 419.9 1365.4 421.9 1367.4 423.8 1369.4 425.6 1371.4 427.4 1373.4 429.1 1375.4 430.8 1377.4 432.5 1379.4 434.1 1381.4 435.7 1383.4 437.2 1385.4 438.7 1387.4 440.1 1389.4 441.5 1391.4 442.9 1393.4 444.3 1395.4 445.7 1397.4 447.1 1399.4 448.5 1401.4 449.9 1403.4 451.3 1405.4 452.8 1407.4 454.2 1409.4 455.7 1411.4 457.2 1413.4 458.6 1415.4 460.1 1417.4 461.6 1419.4 463.1 1421.4 464.5 1423.4 466 1425.4 467.5 1427.4 469 1429.4 470.4 1431.4 471.9 1433.4 473.4 1435.4 474.8 1437.4 476.3 1439.4 477.7 1441.4 479.2 1443.4 480.6 1445.4 482 1447.4 483.4 1449.4 484.8 1451.4 486.2 1453.4 487.5 1455.4 488.9 1457.4 490.2 1459.4 491.5 1461.4 492.8 1463.4 494.1 1465.4 495.4 1467.4 496.6 1469.4 497.8 1471.4 499 1473.4 500.2 1475.4 501.4 1477.4 502.6 1479.4 503.8 1481.4 505 1483.4 506.2 1485.4 507.4 1487.4 508.6 1489.4 509.8 1491.4 511 1493.4 512.2 1495.4 513.4 1497.4 514.6 1499.4 515.7 1501.4 516.9 1503.4 518.1 1505.4 519.2 1507.4 520.3 1509.4 521.4 1511.4 522.5 1513.4 523.5 1515.4 524.6 1517.4 525.6 1519.4 526.6 1521.4 527.5 1523.4 528.4 1525.4 529.3 1527.4 530.2 1529.4 531 1531.4 531.8 1533.4 532.6 1535.4 533.3 1537.4 534 1539.4 534.6 1541.4 535.2 1543.4 535.7 1545.4 536.2 1547.4 536.7 1549.4 537.2 1551.4 537.6 1553.4 538 1555.4 538.5 1557.4 538.9 1559.4 539.3 1561.4 539.7 1563.4 540 1565.4 540.4 1567.4 540.8 1569.4 541.1 1571.4 541.4 1573.4 541.8 1575.4 542.1 1577.4 542.4 1579.4 542.7 1581.4 543 1583.4 543.3 1585.4 543.6 1587.4 543.8 1589.4 544.1 1591.4 544.4 1593.4 544.7 1595.4 544.9 1597.4 545.2 1599.4 545.4 1601.4 545.7 1603.4 545.9 1605.4 546.2 1607.4 546.5 1609.4 546.7 1611.4 547 1613.4 547.2 1615.4 547.5 1617.4 547.8 1619.4 548 1621.4 548.3 1623.4 548.6 1625.4 548.8 1627.4 549.1 1629.4 549.4 1631.4 549.7 1633.4 550 1635.4 550.3 1637.4 550.6 1639.4 551 1641.4 551.3 1643.4 551.6 1645.4 551.9 1647.4 552.3 1649.4 552.6 1651.4 552.9 1653.4 553.2 1655.4 553.5 1657.4 553.7 1659.4 554 1661.4 554.3 1663.4 554.7 1665.4 555 1667.4 555.3 1669.4 555.6 1671.4 556 1673.4 556.3 1675.4 556.7 1677.4 557.1 1679.4 557.5 1681.4 557.9 1683.4 558.3 1685.4 558.8 1687.4 559.3 1689.4 559.8 1691.4 560.4 1693.4 561 1695.4 561.6 1697.4 562.3 1699.4 563.1 1701.4 563.9 1703.4 564.7 1705.4 565.6 1707.4 566.5 1709.4 567.5 1711.4 568.5 1713.4 569.5 1715.4 570.6 1717.4 571.7 1719.4 572.8 1721.4 573.9 1723.4 575.1 1725.4 576.3 1727.4 577.5 1729.4 578.8 1731.4 580.1 1733.4 581.4 1735.4 582.7 1737.4 584 1739.4 585.4 1741.4 586.9 1743.4 588.6 1745.4 590.3 1747.4 592.1 1749.4 594 1751.4 595.9 1753.4 597.9 1755.4 600 1757.4 602.1 1759.4 604.2 1761.4 606.3 1763.4 608.5 1765.4 610.6 1767.4 612.8 1769.4 614.9 1771.4 617 1773.4 619.1 1775.4 621.1 1777.4 623 1779.4 624.9 1781.4 626.8 1783.4 628.6 1785.4 630.5 1787.4 632.3 1789.4 634.1 1791.4 635.9 1793.4 637.8 1795.4 639.6 1797.4 641.4 1799.4 643.2 1801.4 645 1803.4 646.8 1805.4 648.5 1807.4 650.3 1809.4 652.1 1811.4 653.8 1813.4 655.6 1815.4 657.3 1817.4 659 1819.4 660.7 1821.4 662.4 1823.4 664.1 1825.4 665.8 1827.4 667.5 1829.4 669.1 1831.4 670.8 1833.4 672.4 1835.4 674 1837.4 675.6 1839.4 677.1 1841.4 678.7 1843.4 680.3 1845.4 681.8 1847.4 683.4 1849.4 684.9 1851.4 686.4 1853.4 688 1855.4 689.5 1857.4 691.1 1859.4 692.6 1861.4 694.1 1863.4 695.6 1865.4 697.1 1867.4 698.6 1869.4 700.1 1871.4 701.5 1873.4 703 1875.4 704.4 1877.4 705.8 1879.4 707.2 1881.4 708.6 1883.4 709.9 1885.4 711.3 1887.4 712.6 1889.4 713.8 1891.4 715.1 1893.4 716.3 1895.4 717.5 1897.4 718.7 1899.4 719.8 1901.4 720.9 1903.4 722 1905.4 723.1 1907.4 724.1 1909.4 725.1 1911.4 726.1 1913.4 727.1 1915.4 728.1 1917.4 729 1919.4 730 1921.4 730.9 1923.4 731.8 1925.4 732.7 1927.4 733.6 1929.4 734.5 1931.4 735.3 1933.4 736.2 1935.4 737 1937.4 737.8 1939.4 738.7 1941.4 739.5 1943.4 740.3 1945.4 741.1 1947.4 741.9 1949.4 742.6 1951.4 743.4 1953.4 744.2 1955.4 745 1957.4 745.7 1959.4 746.5 1961.4 747.2 1963.4 748 1965.4 748.8 1967.4 749.5 1969.4 750.2 1971.4 751 1973.4 751.7 1975.4 752.4 1977.4 753.1 1979.4 753.9 1981.4 754.6 1983.4 755.3 1985.4 756 1987.4 756.6 1989.4 757.3 1991.4 758 1993.4 758.7 1995.4 759.3 1997.4 760 1999.4 760.7 2001.4 761.3 2003.4 761.9 2005.4 762.6 2007.4 763.2 2009.4 763.9 2011.4 764.5 2013.4 765.1 2015.4 765.7 2017.4 766.3 2019.4 766.9 2021.4 767.5 2023.4 768.1 2025.4 768.7 2027.4 769.3 2029.4 769.9 2031.4 770.5 2033.4 771.1 2035.4 771.7 2037.4 772.3 2039.4 772.9 2041.4 773.5 2043.4 774 2045.4 774.6 2047.4 775.2 2049.4 775.8 2051.4 776.3 2053.4 776.9 2055.4 777.4 2057.4 778 2059.4 778.5 2061.4 779.1 2063.4 779.6 2065.4 780.1 2067.4 780.6 2069.4 781.1 2071.4 781.6 2073.4 782.1 2075.4 782.6 2077.4 783.1 2079.4 783.5 2081.4 784 2083.4 784.4 2085.4 784.8 2087.4 785.3 2089.4 785.7 2091.4 786.1 2093.4 786.5 2095.4 786.9 2097.4 787.3 2099.4 787.7 2101.4 788.1 2103.4 788.5 2105.4 788.8 2107.4 789.2 2109.4 789.6 2111.4 790 2113.4 790.3 2115.4 790.7 2117.4 791.1 2119.4 791.4 2121.4 791.8 2123.4 792.1 2125.4 792.4 2127.4 792.8 2129.4 793.1 2131.4 793.4 2133.4 793.7 2135.4 794 2137.4 794.3 2139.4 794.6 2141.4 794.9 2143.4 795.2 2145.4 795.5 2147.4 795.7 2149.4 796 2151.4 796.3 2153.4 796.5 2155.4 796.8 2157.4 797 2157.5 797"/>
<path d="M1343 89.6 1345 97 1347 104.4 1349 111.5 1351 118.5 1353 125.5 1355 132.3 1357 139.1 1359 145.8 1361 152.4 1363 158.8 1365 165.1 1367 171.2 1369 177.1 1371 182.8 1373 188.3 1375 193.6 1377 199 1379 204.3 1381 209.6 1383 215 1385 220.5 1387 226.2 1389 232.2 1391 238.4 1393 244.6 1395 250.8 1397 256.9 1399 262.7 1401 268.1 1403 273.3 1405 278.4 1407 283.4 1409 288.3 1411 293 1413 297.7 1415 302.4 1417 307 1419 311.6 1421 316.1 1423 320.7 1425 325.3 1427 329.8 1429 334.4 1431 338.9 1433 343.4 1435 347.9 1437 352.3 1439 356.7 1441 361.1 1443 365.3 1445 369.6 1447 373.7 1449 377.8 1451 381.9 1453 385.9 1455 389.8 1457 393.7 1459 397.6 1461 401.4 1463 405.1 1465 408.9 1467 412.6 1469 416.2 1471 419.8 1473 423.4 1475 427 1477 430.7 1479 434.3 1481 437.9 1483 441.4 1485 445 1487 448.5 1489 451.9 1491 455.4 1493 458.7 1495 462 1497 465.2 1499 468.3 1501 471.3 1503 474.2 1505 477 1507 479.7 1509 482.4 1511 485.1 1513 487.7 1515 490.3 1517 492.9 1519 495.4 1521 497.9 1523 500.3 1525 502.7 1527 505.1 1529 507.5 1531 509.8 1533 512.1 1535 514.4 1537 516.7 1539 518.9 1541 521.1 1543 523.3 1545 525.5 1547 527.6 1549 529.7 1551 531.9 1553 534 1555 536 1557 538.1 1559 540.2 1561 542.3 1563 544.3 1565 546.3 1567 548.4 1569 550.4 1571 552.4 1573 554.4 1575 556.5 1577 558.5 1579 560.4 1581 562.4 1583 564.4 1585 566.3 1587 568.3 1589 570.2 1591 572.2 1593 574.1 1595 576 1597 577.9 1599 579.7 1601 581.6 1603 583.4 1605 585.3 1607 587.1 1609 588.9 1611 590.7 1613 592.4 1615 594.2 1617 595.9 1619 597.6 1621 599.3 1623 601 1625 602.7 1627 604.3 1629 606 1631 607.6 1633 609.1 1635 610.7 1637 612.2 1639 613.8 1641 615.2 1643 616.7 1645 618.2 1647 619.6 1649 621.1 1651 622.5 1653 623.9 1655 625.3 1657 626.7 1659 628.1 1661 629.5 1663 630.8 1665 632.2 1667 633.5 1669 634.8 1671 636.1 1673 637.4 1675 638.7 1677 639.9 1679 641.2 1681 642.4 1683 643.7 1685 644.9 1687 646.1 1689 647.3 1691 648.5 1693 649.7 1695 650.8 1697 652 1699 653.1 1701 654.2 1703 655.3 1705 656.5 1707 657.5 1709 658.6 1711 659.7 1713 660.7 1715 661.8 1717 662.8 1719 663.8 1721 664.8 1723 665.8 1725 666.8 1727 667.8 1729 668.7 1731 669.6 1733 670.6 1735 671.5 1737 672.4 1739 673.3 1741 674.2 1743 675.1 1745 676 1747 676.8 1749 677.7 1751 678.6 1753 679.4 1755 680.3 1757 681.1 1759 682 1761 682.8 1763 683.7 1765 684.5 1767 685.4 1769 686.2 1771 687.1 1773 688 1775 688.8 1777 689.7 1779 690.6 1781 691.4 1783 692.3 1785 693.2 1787 694.1 1789 694.9 1791 695.8 1793 696.6 1795 697.5 1797 698.4 1799 699.2 1801 700.1 1803 700.9 1805 701.8 1807 702.6 1809 703.5 1811 704.3 1813 705.2 1815 706 1817 706.9 1819 707.7 1821 708.6 1823 709.4 1825 710.2 1827 711.1 1829 711.9 1831 712.8 1833 713.6 1835 714.4 1837 715.3 1839 716.1 1841 717 1843 717.8 1845 718.7 1847 719.5 1849 720.3 1851 721.2 1853 722 1855 722.9 1857 723.7 1859 724.6 1861 725.4 1863 726.3 1865 727.1 1867 728 1869 728.9 1871 729.7 1873 730.6 1875 731.5 1877 732.4 1879 733.3 1881 734.2 1883 735.1 1885 736 1887 737 1889 737.9 1891 738.8 1893 739.7 1895 740.6 1897 741.5 1899 742.4 1901 743.3 1903 744.2 1905 745.1 1907 746 1909 746.9 1911 747.7 1913 748.6 1915 749.5 1917 750.3 1919 751.2 1921 752 1923 752.8 1925 753.6 1927 754.4 1929 755.2 1931 756 1933 756.8 1935 757.5 1937 758.2 1939 758.9 1941 759.6 1943 760.3 1945 761 1947 761.7 1949 762.3 1951 762.9 1953 763.6 1955 764.2 1957 764.8 1959 765.4 1961 766 1963 766.6 1965 767.2 1967 767.8 1969 768.4 1971 769 1973 769.5 1975 770.1 1977 770.7 1979 771.2 1981 771.8 1983 772.3 1985 772.8 1987 773.4 1989 773.9 1991 774.4 1993 774.9 1995 775.5 1997 776 1999 776.5 2001 777 2003 777.5 2005 778 2007 778.5 2009 779 2011 779.5 2013 780 2015 780.5 2017 781 2019 781.5 2021 782 2023 782.5 2025 783 2027 783.4 2029 783.9 2031 784.4 2033 784.9 2035 785.4 2037 785.9 2039 786.4 2041 786.9 2043 787.3 2045 787.8 2047 788.3 2049 788.8 2051 789.2 2053 789.7 2055 790.2 2057 790.7 2059 791.1 2061 791.6 2063 792.1 2065 792.5 2067 793 2069 793.5 2071 793.9 2073 794.4 2075 794.8 2077 795.3 2079 795.8 2081 796.2 2083 796.7 2085 797.1 2087 797.6 2089 798 2091 798.4 2093 798.9 2095 799.3 2097 799.8 2099 800.2 2101 800.6 2103 801.1 2105 801.5 2107 801.9 2109 802.3 2111 802.8 2113 803.2 2115 803.6 2117 804 2119 804.4 2121 804.9 2123 805.3 2125 805.7 2127 806.1 2129 806.5 2131 806.9 2133 807.3 2135 807.7 2137 808.1 2139 808.5 2141 808.9 2143 809.3 2145 809.6 2147 810 2149 810.4 2151 810.8 2153 811.2 2155 811.5 2157 811.9 2157.5 812"/>
</g>
<path d="M1038.5 89.0H2157.6V893.6" fill="none" stroke="#000" stroke-width="2.4"/>
<path d="M1038.5 89.0V893.6" fill="none" stroke="#9a9a9a" stroke-width="4.5"/>
<path d="M1025.3 893.6H2157.6" fill="none" stroke="#5a5a5a" stroke-width="2.6"/>
<path d="M1025.3 784.7H1038.5M1025.3 677.9H1038.5M1025.3 571H1038.5M1025.3 464.2H1038.5M1025.3 357.3H1038.5M1025.3 250.4H1038.5M1025.3 143.6H1038.5M1198 893.6V906M1517.8 893.6V906M1837.7 893.6V906M2157.5 893.6V906" stroke="#000" stroke-width="2.4" fill="none"/>
<text font-family="'Liberation Sans', Arial, sans-serif" font-size="48" x="1001" y="909" text-anchor="end">0</text>
<text font-family="'Liberation Sans', Arial, sans-serif" font-size="48" x="1001" y="800.4" text-anchor="end">2</text>
<text font-family="'Liberation Sans', Arial, sans-serif" font-size="48" x="1001" y="693.6" text-anchor="end">4</text>
<text font-family="'Liberation Sans', Arial, sans-serif" font-size="48" x="1001" y="586.7" text-anchor="end">6</text>
<text font-family="'Liberation Sans', Arial, sans-serif" font-size="48" x="1001" y="479.9" text-anchor="end">8</text>
<text font-family="'Liberation Sans', Arial, sans-serif" font-size="48" x="1001" y="373" text-anchor="end">10</text>
<text font-family="'Liberation Sans', Arial, sans-serif" font-size="48" x="1001" y="266.1" text-anchor="end">12</text>
<text font-family="'Liberation Sans', Arial, sans-serif" font-size="48" x="1001" y="159.3" text-anchor="end">14</text>
<text font-family="'Liberation Sans', Arial, sans-serif" font-size="48" x="1198" y="970.8" text-anchor="middle">0.4</text>
<text font-family="'Liberation Sans', Arial, sans-serif" font-size="48" x="1517.8" y="970.8" text-anchor="middle">0.6</text>
<text font-family="'Liberation Sans', Arial, sans-serif" font-size="48" x="1837.7" y="970.8" text-anchor="middle">0.8</text>
<text font-family="'Liberation Sans', Arial, sans-serif" font-size="48" x="2157.5" y="970.8" text-anchor="middle">1.0</text>
<text font-family="'Liberation Sans', Arial, sans-serif" font-size="65" transform="translate(913.8 483) rotate(-90)" text-anchor="middle">Intensity (a.u.)</text>
<text font-family="'Liberation Sans', Arial, sans-serif" font-size="65" x="1502.5" y="1053.9">q (nm<tspan font-size="42" dy="-21.7">-1</tspan><tspan dy="21.7">)</tspan></text>
<rect x="317.6" y="48.3" width="1883.8" height="1354.1" fill="none" stroke="#000" stroke-width="2.7"/>
<path d="M297.5 1360.3H317.6M297.5 1097.9H317.6M297.5 835.5H317.6M297.5 573.1H317.6M297.5 310.7H317.6M297.5 48.3H317.6M390.6 1402.4V1422.8M617.8 1402.4V1422.8M918.1 1402.4V1422.8M1145.3 1402.4V1422.8M1372.6 1402.4V1422.8M1672.9 1402.4V1422.8M1900.1 1402.4V1422.8M2127.3 1402.4V1422.8" stroke="#000" stroke-width="2.5" fill="none"/>
<text font-family="'Liberation Sans', Arial, sans-serif" font-size="55" y="1377.9"><tspan x="153">1</tspan><tspan x="207.6">1</tspan><tspan x="234.2">0</tspan></text>
<text font-family="'Liberation Sans', Arial, sans-serif" font-size="48" text-anchor="middle" transform="translate(193.6 1375) scale(0.77 1)">×</text>
<text font-family="'Liberation Sans', Arial, sans-serif" font-size="38" x="271.5" y="1353.1">0</text>
<text font-family="'Liberation Sans', Arial, sans-serif" font-size="55" y="1115.5"><tspan x="153">1</tspan><tspan x="207.6">1</tspan><tspan x="234.2">0</tspan></text>
<text font-family="'Liberation Sans', Arial, sans-serif" font-size="48" text-anchor="middle" transform="translate(193.6 1112.6) scale(0.77 1)">×</text>
<text font-family="'Liberation Sans', Arial, sans-serif" font-size="38" x="271.5" y="1090.7">1</text>
<text font-family="'Liberation Sans', Arial, sans-serif" font-size="55" y="853.1"><tspan x="153">1</tspan><tspan x="207.6">1</tspan><tspan x="234.2">0</tspan></text>
<text font-family="'Liberation Sans', Arial, sans-serif" font-size="48" text-anchor="middle" transform="translate(193.6 850.2) scale(0.77 1)">×</text>
<text font-family="'Liberation Sans', Arial, sans-serif" font-size="38" x="271.5" y="828.3">2</text>
<text font-family="'Liberation Sans', Arial, sans-serif" font-size="55" y="590.7"><tspan x="153">1</tspan><tspan x="207.6">1</tspan><tspan x="234.2">0</tspan></text>
<text font-family="'Liberation Sans', Arial, sans-serif" font-size="48" text-anchor="middle" transform="translate(193.6 587.8) scale(0.77 1)">×</text>
<text font-family="'Liberation Sans', Arial, sans-serif" font-size="38" x="271.5" y="565.9">3</text>
<text font-family="'Liberation Sans', Arial, sans-serif" font-size="55" y="328.3"><tspan x="153">1</tspan><tspan x="207.6">1</tspan><tspan x="234.2">0</tspan></text>
<text font-family="'Liberation Sans', Arial, sans-serif" font-size="48" text-anchor="middle" transform="translate(193.6 325.4) scale(0.77 1)">×</text>
<text font-family="'Liberation Sans', Arial, sans-serif" font-size="38" x="271.5" y="303.5">4</text>
<text font-family="'Liberation Sans', Arial, sans-serif" font-size="55" y="65.9"><tspan x="153">1</tspan><tspan x="207.6">1</tspan><tspan x="234.2">0</tspan></text>
<text font-family="'Liberation Sans', Arial, sans-serif" font-size="48" text-anchor="middle" transform="translate(193.6 63) scale(0.77 1)">×</text>
<text font-family="'Liberation Sans', Arial, sans-serif" font-size="38" x="271.5" y="41.1">5</text>
<text font-family="'Liberation Sans', Arial, sans-serif" font-size="55" x="390.6" y="1493.7" text-anchor="middle">0.1</text>
<text font-family="'Liberation Sans', Arial, sans-serif" font-size="55" x="617.8" y="1493.7" text-anchor="middle">0.2</text>
<text font-family="'Liberation Sans', Arial, sans-serif" font-size="55" x="918.1" y="1493.7" text-anchor="middle">0.5</text>
<text font-family="'Liberation Sans', Arial, sans-serif" font-size="55" x="1145.3" y="1493.7" text-anchor="middle">1</text>
<text font-family="'Liberation Sans', Arial, sans-serif" font-size="55" x="1372.6" y="1493.7" text-anchor="middle">2</text>
<text font-family="'Liberation Sans', Arial, sans-serif" font-size="55" x="1672.9" y="1493.7" text-anchor="middle">5</text>
<text font-family="'Liberation Sans', Arial, sans-serif" font-size="55" x="1900.1" y="1493.7" text-anchor="middle">10</text>
<text font-family="'Liberation Sans', Arial, sans-serif" font-size="55" x="2127.3" y="1493.7" text-anchor="middle">20</text>
<text font-family="'Liberation Sans', Arial, sans-serif" font-size="85" transform="translate(87.5 717.4) rotate(-90)" text-anchor="middle">Intensity (a.u.)</text>
<text font-family="'Liberation Sans', Arial, sans-serif" font-size="85" x="1114" y="1638.4">q (nm<tspan font-size="54" dy="-27.7">-1</tspan><tspan dy="27.7">)</tspan></text>
<rect x="362.7" y="1024.2" width="321.7" height="332.4" fill="#fff" stroke="#000" stroke-width="5.2"/>
<circle cx="460.8" cy="1091" r="12.6" fill="#000"/>
<path d="M449.8 1150.6h24.5l-12.25 21.5z" fill="#808080"/>
<rect x="449.7" y="1212.4" width="22.2" height="22.2" fill="#c0c0c0"/>
<path d="M461.3 1275.7l14.2 14.2-14.2 14.2-14.2-14.2z" fill="#f00000"/>
<text font-family="'Liberation Sans', Arial, sans-serif" font-size="55" x="548.5" y="1108.7">H01</text>
<text font-family="'Liberation Sans', Arial, sans-serif" font-size="55" x="548.5" y="1174.3">H02</text>
<text font-family="'Liberation Sans', Arial, sans-serif" font-size="55" x="548.5" y="1242">H09</text>
<text font-family="'Liberation Sans', Arial, sans-serif" font-size="55" x="548.5" y="1307.7">Yak</text>
</svg></body></html>
